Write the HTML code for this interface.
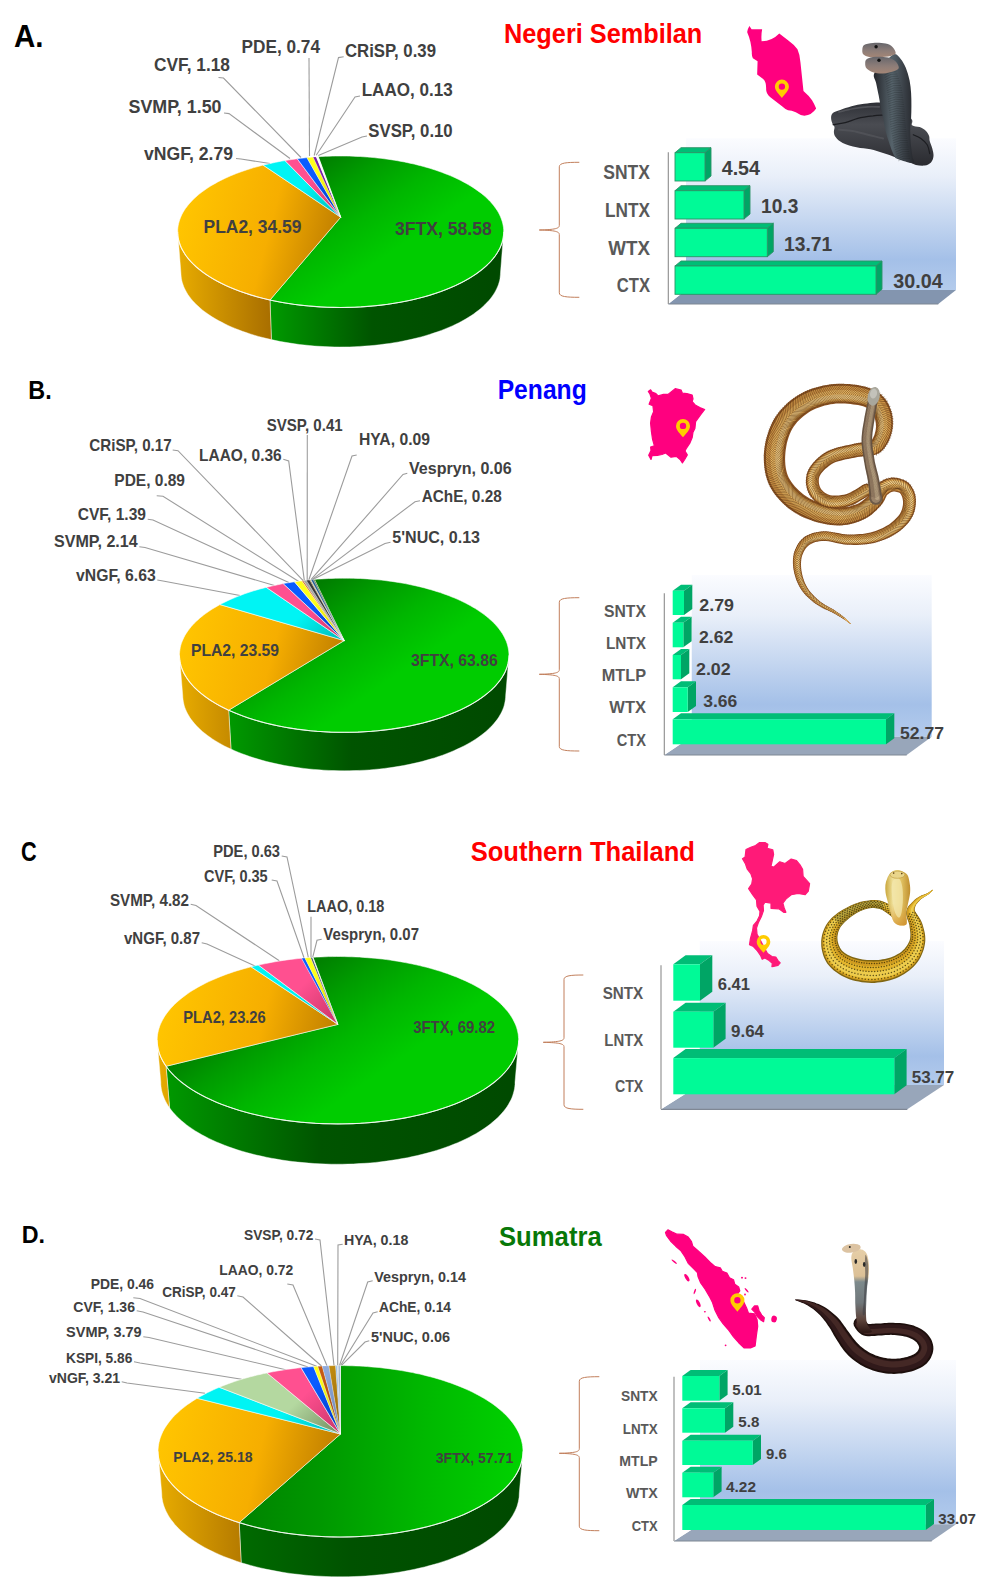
<!DOCTYPE html>
<html><head><meta charset="utf-8"><title>Venom proteome figure</title>
<style>
html,body{margin:0;padding:0;background:#fff}
svg{display:block}
text{font-family:"Liberation Sans",sans-serif;font-weight:bold}
</style></head><body>
<svg width="991" height="1594" viewBox="0 0 991 1594">
<defs>
<linearGradient id="At3FTX" gradientUnits="userSpaceOnUse" x1="306.6" y1="167.6" x2="373.3" y2="264.5"><stop offset="0" stop-color="#007e00"/><stop offset="0.3" stop-color="#009c00"/><stop offset="0.62" stop-color="#00b600"/><stop offset="1" stop-color="#00cc00"/></linearGradient>
<linearGradient id="Aw3FTX" gradientUnits="userSpaceOnUse" x1="273" y1="0" x2="493.7" y2="0"><stop offset="0" stop-color="#009800"/><stop offset="0.45" stop-color="#005400"/><stop offset="1" stop-color="#004a00"/></linearGradient>
<linearGradient id="AtPLA2" gradientUnits="userSpaceOnUse" x1="187.7" y1="199.2" x2="340.7" y2="239.2"><stop offset="0" stop-color="#ffc400"/><stop offset="0.55" stop-color="#f6ae00"/><stop offset="1" stop-color="#bd7c00"/></linearGradient>
<linearGradient id="AwPLA2" gradientUnits="userSpaceOnUse" x1="177.7" y1="0" x2="277.7" y2="0"><stop offset="0" stop-color="#e8ac00"/><stop offset="1" stop-color="#a46a00"/></linearGradient>
<linearGradient id="AtvNGF" gradientUnits="userSpaceOnUse" x1="267.3" y1="142.2" x2="340.7" y2="217.2"><stop offset="0" stop-color="#00f4f4"/><stop offset="0.55" stop-color="#00f4f4"/><stop offset="1" stop-color="#00b8b8"/></linearGradient>
<linearGradient id="AwvNGF" gradientUnits="userSpaceOnUse" x1="177.7" y1="0" x2="503.7" y2="0"><stop offset="0" stop-color="#00b8b8"/><stop offset="1" stop-color="#00b8b8"/></linearGradient>
<linearGradient id="AtSVMP" gradientUnits="userSpaceOnUse" x1="267.3" y1="142.2" x2="340.7" y2="217.2"><stop offset="0" stop-color="#ff5090"/><stop offset="0.55" stop-color="#ff5090"/><stop offset="1" stop-color="#c83468"/></linearGradient>
<linearGradient id="AwSVMP" gradientUnits="userSpaceOnUse" x1="177.7" y1="0" x2="503.7" y2="0"><stop offset="0" stop-color="#c83468"/><stop offset="1" stop-color="#c83468"/></linearGradient>
<linearGradient id="AtCVF" gradientUnits="userSpaceOnUse" x1="267.3" y1="142.2" x2="340.7" y2="217.2"><stop offset="0" stop-color="#0a5cff"/><stop offset="0.55" stop-color="#0a5cff"/><stop offset="1" stop-color="#0034b8"/></linearGradient>
<linearGradient id="AwCVF" gradientUnits="userSpaceOnUse" x1="177.7" y1="0" x2="503.7" y2="0"><stop offset="0" stop-color="#0034b8"/><stop offset="1" stop-color="#0034b8"/></linearGradient>
<linearGradient id="AtPDE" gradientUnits="userSpaceOnUse" x1="267.3" y1="142.2" x2="340.7" y2="217.2"><stop offset="0" stop-color="#ffff1a"/><stop offset="0.55" stop-color="#ffff1a"/><stop offset="1" stop-color="#c8c800"/></linearGradient>
<linearGradient id="AwPDE" gradientUnits="userSpaceOnUse" x1="177.7" y1="0" x2="503.7" y2="0"><stop offset="0" stop-color="#c8c800"/><stop offset="1" stop-color="#c8c800"/></linearGradient>
<linearGradient id="AtCRiSP" gradientUnits="userSpaceOnUse" x1="267.3" y1="142.2" x2="340.7" y2="217.2"><stop offset="0" stop-color="#7a1fa8"/><stop offset="0.55" stop-color="#7a1fa8"/><stop offset="1" stop-color="#4c1470"/></linearGradient>
<linearGradient id="AwCRiSP" gradientUnits="userSpaceOnUse" x1="177.7" y1="0" x2="503.7" y2="0"><stop offset="0" stop-color="#4c1470"/><stop offset="1" stop-color="#4c1470"/></linearGradient>
<linearGradient id="AtLAAO" gradientUnits="userSpaceOnUse" x1="267.3" y1="142.2" x2="340.7" y2="217.2"><stop offset="0" stop-color="#ffffff"/><stop offset="0.55" stop-color="#ffffff"/><stop offset="1" stop-color="#dcdcdc"/></linearGradient>
<linearGradient id="AwLAAO" gradientUnits="userSpaceOnUse" x1="177.7" y1="0" x2="503.7" y2="0"><stop offset="0" stop-color="#dcdcdc"/><stop offset="1" stop-color="#dcdcdc"/></linearGradient>
<linearGradient id="AtSVSP" gradientUnits="userSpaceOnUse" x1="267.3" y1="142.2" x2="340.7" y2="217.2"><stop offset="0" stop-color="#f6f6f6"/><stop offset="0.55" stop-color="#f6f6f6"/><stop offset="1" stop-color="#cfcfcf"/></linearGradient>
<linearGradient id="AwSVSP" gradientUnits="userSpaceOnUse" x1="177.7" y1="0" x2="503.7" y2="0"><stop offset="0" stop-color="#cfcfcf"/><stop offset="1" stop-color="#cfcfcf"/></linearGradient>
<linearGradient id="Abw" x1="0" y1="0" x2="0" y2="1"><stop offset="0" stop-color="#fbfcff"/><stop offset=".25" stop-color="#e9eff9"/><stop offset=".8" stop-color="#a4c0e8"/><stop offset="1" stop-color="#b3cbec"/></linearGradient>
<linearGradient id="Bt3FTX" gradientUnits="userSpaceOnUse" x1="309.7" y1="590.4" x2="377.2" y2="688.4"><stop offset="0" stop-color="#007e00"/><stop offset="0.3" stop-color="#009c00"/><stop offset="0.62" stop-color="#00b600"/><stop offset="1" stop-color="#00cc00"/></linearGradient>
<linearGradient id="Bw3FTX" gradientUnits="userSpaceOnUse" x1="231" y1="0" x2="499" y2="0"><stop offset="0" stop-color="#009800"/><stop offset="0.45" stop-color="#005400"/><stop offset="1" stop-color="#004a00"/></linearGradient>
<linearGradient id="BtPLA2" gradientUnits="userSpaceOnUse" x1="189.4" y1="622.6" x2="344.2" y2="662.6"><stop offset="0" stop-color="#ffc400"/><stop offset="0.55" stop-color="#f6ae00"/><stop offset="1" stop-color="#bd7c00"/></linearGradient>
<linearGradient id="BwPLA2" gradientUnits="userSpaceOnUse" x1="179.4" y1="0" x2="280.5" y2="0"><stop offset="0" stop-color="#e8ac00"/><stop offset="1" stop-color="#a46a00"/></linearGradient>
<linearGradient id="BtvNGF" gradientUnits="userSpaceOnUse" x1="270.1" y1="563.6" x2="344.2" y2="640.6"><stop offset="0" stop-color="#00f4f4"/><stop offset="0.55" stop-color="#00f4f4"/><stop offset="1" stop-color="#00b8b8"/></linearGradient>
<linearGradient id="BwvNGF" gradientUnits="userSpaceOnUse" x1="179.4" y1="0" x2="509" y2="0"><stop offset="0" stop-color="#00b8b8"/><stop offset="1" stop-color="#00b8b8"/></linearGradient>
<linearGradient id="BtSVMP" gradientUnits="userSpaceOnUse" x1="270.1" y1="563.6" x2="344.2" y2="640.6"><stop offset="0" stop-color="#ff5090"/><stop offset="0.55" stop-color="#ff5090"/><stop offset="1" stop-color="#c83468"/></linearGradient>
<linearGradient id="BwSVMP" gradientUnits="userSpaceOnUse" x1="179.4" y1="0" x2="509" y2="0"><stop offset="0" stop-color="#c83468"/><stop offset="1" stop-color="#c83468"/></linearGradient>
<linearGradient id="BtCVF" gradientUnits="userSpaceOnUse" x1="270.1" y1="563.6" x2="344.2" y2="640.6"><stop offset="0" stop-color="#0a5cff"/><stop offset="0.55" stop-color="#0a5cff"/><stop offset="1" stop-color="#0034b8"/></linearGradient>
<linearGradient id="BwCVF" gradientUnits="userSpaceOnUse" x1="179.4" y1="0" x2="509" y2="0"><stop offset="0" stop-color="#0034b8"/><stop offset="1" stop-color="#0034b8"/></linearGradient>
<linearGradient id="BtPDE" gradientUnits="userSpaceOnUse" x1="270.1" y1="563.6" x2="344.2" y2="640.6"><stop offset="0" stop-color="#ffff1a"/><stop offset="0.55" stop-color="#ffff1a"/><stop offset="1" stop-color="#c8c800"/></linearGradient>
<linearGradient id="BwPDE" gradientUnits="userSpaceOnUse" x1="179.4" y1="0" x2="509" y2="0"><stop offset="0" stop-color="#c8c800"/><stop offset="1" stop-color="#c8c800"/></linearGradient>
<linearGradient id="BtCRiSP" gradientUnits="userSpaceOnUse" x1="270.1" y1="563.6" x2="344.2" y2="640.6"><stop offset="0" stop-color="#d0601a"/><stop offset="0.55" stop-color="#d0601a"/><stop offset="1" stop-color="#984410"/></linearGradient>
<linearGradient id="BwCRiSP" gradientUnits="userSpaceOnUse" x1="179.4" y1="0" x2="509" y2="0"><stop offset="0" stop-color="#984410"/><stop offset="1" stop-color="#984410"/></linearGradient>
<linearGradient id="BtLAAO" gradientUnits="userSpaceOnUse" x1="270.1" y1="563.6" x2="344.2" y2="640.6"><stop offset="0" stop-color="#a5a5a5"/><stop offset="0.55" stop-color="#a5a5a5"/><stop offset="1" stop-color="#7a7a7a"/></linearGradient>
<linearGradient id="BwLAAO" gradientUnits="userSpaceOnUse" x1="179.4" y1="0" x2="509" y2="0"><stop offset="0" stop-color="#7a7a7a"/><stop offset="1" stop-color="#7a7a7a"/></linearGradient>
<linearGradient id="BtSVSP" gradientUnits="userSpaceOnUse" x1="270.1" y1="563.6" x2="344.2" y2="640.6"><stop offset="0" stop-color="#3a3a3a"/><stop offset="0.55" stop-color="#3a3a3a"/><stop offset="1" stop-color="#1a1a1a"/></linearGradient>
<linearGradient id="BwSVSP" gradientUnits="userSpaceOnUse" x1="179.4" y1="0" x2="509" y2="0"><stop offset="0" stop-color="#1a1a1a"/><stop offset="1" stop-color="#1a1a1a"/></linearGradient>
<linearGradient id="BtHYA" gradientUnits="userSpaceOnUse" x1="270.1" y1="563.6" x2="344.2" y2="640.6"><stop offset="0" stop-color="#7f6000"/><stop offset="0.55" stop-color="#7f6000"/><stop offset="1" stop-color="#5a4400"/></linearGradient>
<linearGradient id="BwHYA" gradientUnits="userSpaceOnUse" x1="179.4" y1="0" x2="509" y2="0"><stop offset="0" stop-color="#5a4400"/><stop offset="1" stop-color="#5a4400"/></linearGradient>
<linearGradient id="BtVespryn" gradientUnits="userSpaceOnUse" x1="270.1" y1="563.6" x2="344.2" y2="640.6"><stop offset="0" stop-color="#c9c9c9"/><stop offset="0.55" stop-color="#c9c9c9"/><stop offset="1" stop-color="#999"/></linearGradient>
<linearGradient id="BwVespryn" gradientUnits="userSpaceOnUse" x1="179.4" y1="0" x2="509" y2="0"><stop offset="0" stop-color="#999"/><stop offset="1" stop-color="#999"/></linearGradient>
<linearGradient id="BtAChE" gradientUnits="userSpaceOnUse" x1="270.1" y1="563.6" x2="344.2" y2="640.6"><stop offset="0" stop-color="#255e91"/><stop offset="0.55" stop-color="#255e91"/><stop offset="1" stop-color="#1a4266"/></linearGradient>
<linearGradient id="BwAChE" gradientUnits="userSpaceOnUse" x1="179.4" y1="0" x2="509" y2="0"><stop offset="0" stop-color="#1a4266"/><stop offset="1" stop-color="#1a4266"/></linearGradient>
<linearGradient id="Bt5NUC" gradientUnits="userSpaceOnUse" x1="270.1" y1="563.6" x2="344.2" y2="640.6"><stop offset="0" stop-color="#43682b"/><stop offset="0.55" stop-color="#43682b"/><stop offset="1" stop-color="#2e481e"/></linearGradient>
<linearGradient id="Bw5NUC" gradientUnits="userSpaceOnUse" x1="179.4" y1="0" x2="509" y2="0"><stop offset="0" stop-color="#2e481e"/><stop offset="1" stop-color="#2e481e"/></linearGradient>
<linearGradient id="Bbw" x1="0" y1="0" x2="0" y2="1"><stop offset="0" stop-color="#fbfcff"/><stop offset=".25" stop-color="#e9eff9"/><stop offset=".8" stop-color="#a4c0e8"/><stop offset="1" stop-color="#b3cbec"/></linearGradient>
<linearGradient id="Ct3FTX" gradientUnits="userSpaceOnUse" x1="300" y1="969.4" x2="374.1" y2="1076.8"><stop offset="0" stop-color="#007e00"/><stop offset="0.3" stop-color="#009c00"/><stop offset="0.62" stop-color="#00b600"/><stop offset="1" stop-color="#00cc00"/></linearGradient>
<linearGradient id="Cw3FTX" gradientUnits="userSpaceOnUse" x1="168" y1="0" x2="508.7" y2="0"><stop offset="0" stop-color="#009800"/><stop offset="0.45" stop-color="#005400"/><stop offset="1" stop-color="#004a00"/></linearGradient>
<linearGradient id="CtPLA2" gradientUnits="userSpaceOnUse" x1="167.1" y1="1006.4" x2="337.9" y2="1046.4"><stop offset="0" stop-color="#ffc400"/><stop offset="0.55" stop-color="#f6ae00"/><stop offset="1" stop-color="#bd7c00"/></linearGradient>
<linearGradient id="CwPLA2" gradientUnits="userSpaceOnUse" x1="157.1" y1="0" x2="268" y2="0"><stop offset="0" stop-color="#e8ac00"/><stop offset="1" stop-color="#a46a00"/></linearGradient>
<linearGradient id="CtvNGF" gradientUnits="userSpaceOnUse" x1="256.6" y1="940.4" x2="337.9" y2="1024.4"><stop offset="0" stop-color="#00f4f4"/><stop offset="0.55" stop-color="#00f4f4"/><stop offset="1" stop-color="#00b8b8"/></linearGradient>
<linearGradient id="CwvNGF" gradientUnits="userSpaceOnUse" x1="157.1" y1="0" x2="518.7" y2="0"><stop offset="0" stop-color="#00b8b8"/><stop offset="1" stop-color="#00b8b8"/></linearGradient>
<linearGradient id="CtSVMP" gradientUnits="userSpaceOnUse" x1="256.6" y1="940.4" x2="337.9" y2="1024.4"><stop offset="0" stop-color="#ff5090"/><stop offset="0.55" stop-color="#ff5090"/><stop offset="1" stop-color="#c83468"/></linearGradient>
<linearGradient id="CwSVMP" gradientUnits="userSpaceOnUse" x1="157.1" y1="0" x2="518.7" y2="0"><stop offset="0" stop-color="#c83468"/><stop offset="1" stop-color="#c83468"/></linearGradient>
<linearGradient id="CtCVF" gradientUnits="userSpaceOnUse" x1="256.6" y1="940.4" x2="337.9" y2="1024.4"><stop offset="0" stop-color="#0a5cff"/><stop offset="0.55" stop-color="#0a5cff"/><stop offset="1" stop-color="#0034b8"/></linearGradient>
<linearGradient id="CwCVF" gradientUnits="userSpaceOnUse" x1="157.1" y1="0" x2="518.7" y2="0"><stop offset="0" stop-color="#0034b8"/><stop offset="1" stop-color="#0034b8"/></linearGradient>
<linearGradient id="CtPDE" gradientUnits="userSpaceOnUse" x1="256.6" y1="940.4" x2="337.9" y2="1024.4"><stop offset="0" stop-color="#ffff1a"/><stop offset="0.55" stop-color="#ffff1a"/><stop offset="1" stop-color="#c8c800"/></linearGradient>
<linearGradient id="CwPDE" gradientUnits="userSpaceOnUse" x1="157.1" y1="0" x2="518.7" y2="0"><stop offset="0" stop-color="#c8c800"/><stop offset="1" stop-color="#c8c800"/></linearGradient>
<linearGradient id="CtLAAO" gradientUnits="userSpaceOnUse" x1="256.6" y1="940.4" x2="337.9" y2="1024.4"><stop offset="0" stop-color="#44546a"/><stop offset="0.55" stop-color="#44546a"/><stop offset="1" stop-color="#2c3848"/></linearGradient>
<linearGradient id="CwLAAO" gradientUnits="userSpaceOnUse" x1="157.1" y1="0" x2="518.7" y2="0"><stop offset="0" stop-color="#2c3848"/><stop offset="1" stop-color="#2c3848"/></linearGradient>
<linearGradient id="CtVespryn" gradientUnits="userSpaceOnUse" x1="256.6" y1="940.4" x2="337.9" y2="1024.4"><stop offset="0" stop-color="#e4e4e4"/><stop offset="0.55" stop-color="#e4e4e4"/><stop offset="1" stop-color="#bdbdbd"/></linearGradient>
<linearGradient id="CwVespryn" gradientUnits="userSpaceOnUse" x1="157.1" y1="0" x2="518.7" y2="0"><stop offset="0" stop-color="#bdbdbd"/><stop offset="1" stop-color="#bdbdbd"/></linearGradient>
<linearGradient id="Cbw" x1="0" y1="0" x2="0" y2="1"><stop offset="0" stop-color="#fbfcff"/><stop offset=".25" stop-color="#e9eff9"/><stop offset=".8" stop-color="#a4c0e8"/><stop offset="1" stop-color="#b3cbec"/></linearGradient>
<linearGradient id="Dt3FTX" gradientUnits="userSpaceOnUse" x1="238" y1="1434" x2="522" y2="1440"><stop offset="0" stop-color="#008200"/><stop offset="0.3" stop-color="#009800"/><stop offset="0.65" stop-color="#00b800"/><stop offset="1" stop-color="#00d200"/></linearGradient>
<linearGradient id="Dw3FTX" gradientUnits="userSpaceOnUse" x1="242" y1="0" x2="515" y2="0"><stop offset="0" stop-color="#006a00"/><stop offset="0.4" stop-color="#005200"/><stop offset="1" stop-color="#004a00"/></linearGradient>
<linearGradient id="DtPLA2" gradientUnits="userSpaceOnUse" x1="168" y1="1416" x2="340.5" y2="1456"><stop offset="0" stop-color="#ffc400"/><stop offset="0.55" stop-color="#f6ae00"/><stop offset="1" stop-color="#bd7c00"/></linearGradient>
<linearGradient id="DwPLA2" gradientUnits="userSpaceOnUse" x1="158" y1="0" x2="270" y2="0"><stop offset="0" stop-color="#e8ac00"/><stop offset="1" stop-color="#a46a00"/></linearGradient>
<linearGradient id="DtvNGF" gradientUnits="userSpaceOnUse" x1="258.4" y1="1348" x2="340.5" y2="1434"><stop offset="0" stop-color="#00f4f4"/><stop offset="0.55" stop-color="#00f4f4"/><stop offset="1" stop-color="#00b8b8"/></linearGradient>
<linearGradient id="DwvNGF" gradientUnits="userSpaceOnUse" x1="158" y1="0" x2="523" y2="0"><stop offset="0" stop-color="#00b8b8"/><stop offset="1" stop-color="#00b8b8"/></linearGradient>
<linearGradient id="DtKSPI" gradientUnits="userSpaceOnUse" x1="258.4" y1="1348" x2="340.5" y2="1434"><stop offset="0" stop-color="#b4d8a0"/><stop offset="0.55" stop-color="#b4d8a0"/><stop offset="1" stop-color="#6f8c5e"/></linearGradient>
<linearGradient id="DwKSPI" gradientUnits="userSpaceOnUse" x1="158" y1="0" x2="523" y2="0"><stop offset="0" stop-color="#6f8c5e"/><stop offset="1" stop-color="#6f8c5e"/></linearGradient>
<linearGradient id="DtSVMP" gradientUnits="userSpaceOnUse" x1="258.4" y1="1348" x2="340.5" y2="1434"><stop offset="0" stop-color="#ff5090"/><stop offset="0.55" stop-color="#ff5090"/><stop offset="1" stop-color="#c83468"/></linearGradient>
<linearGradient id="DwSVMP" gradientUnits="userSpaceOnUse" x1="158" y1="0" x2="523" y2="0"><stop offset="0" stop-color="#c83468"/><stop offset="1" stop-color="#c83468"/></linearGradient>
<linearGradient id="DtCVF" gradientUnits="userSpaceOnUse" x1="258.4" y1="1348" x2="340.5" y2="1434"><stop offset="0" stop-color="#0a5cff"/><stop offset="0.55" stop-color="#0a5cff"/><stop offset="1" stop-color="#0034b8"/></linearGradient>
<linearGradient id="DwCVF" gradientUnits="userSpaceOnUse" x1="158" y1="0" x2="523" y2="0"><stop offset="0" stop-color="#0034b8"/><stop offset="1" stop-color="#0034b8"/></linearGradient>
<linearGradient id="DtPDE" gradientUnits="userSpaceOnUse" x1="258.4" y1="1348" x2="340.5" y2="1434"><stop offset="0" stop-color="#ffff1a"/><stop offset="0.55" stop-color="#ffff1a"/><stop offset="1" stop-color="#c8c800"/></linearGradient>
<linearGradient id="DwPDE" gradientUnits="userSpaceOnUse" x1="158" y1="0" x2="523" y2="0"><stop offset="0" stop-color="#c8c800"/><stop offset="1" stop-color="#c8c800"/></linearGradient>
<linearGradient id="DtCRiSP" gradientUnits="userSpaceOnUse" x1="258.4" y1="1348" x2="340.5" y2="1434"><stop offset="0" stop-color="#c55a11"/><stop offset="0.55" stop-color="#c55a11"/><stop offset="1" stop-color="#8c3f0c"/></linearGradient>
<linearGradient id="DwCRiSP" gradientUnits="userSpaceOnUse" x1="158" y1="0" x2="523" y2="0"><stop offset="0" stop-color="#8c3f0c"/><stop offset="1" stop-color="#8c3f0c"/></linearGradient>
<linearGradient id="DtLAAO" gradientUnits="userSpaceOnUse" x1="258.4" y1="1348" x2="340.5" y2="1434"><stop offset="0" stop-color="#8faadc"/><stop offset="0.55" stop-color="#8faadc"/><stop offset="1" stop-color="#6a80a8"/></linearGradient>
<linearGradient id="DwLAAO" gradientUnits="userSpaceOnUse" x1="158" y1="0" x2="523" y2="0"><stop offset="0" stop-color="#6a80a8"/><stop offset="1" stop-color="#6a80a8"/></linearGradient>
<linearGradient id="DtSVSP" gradientUnits="userSpaceOnUse" x1="258.4" y1="1348" x2="340.5" y2="1434"><stop offset="0" stop-color="#bf8a10"/><stop offset="0.55" stop-color="#bf8a10"/><stop offset="1" stop-color="#8c6408"/></linearGradient>
<linearGradient id="DwSVSP" gradientUnits="userSpaceOnUse" x1="158" y1="0" x2="523" y2="0"><stop offset="0" stop-color="#8c6408"/><stop offset="1" stop-color="#8c6408"/></linearGradient>
<linearGradient id="DtHYA" gradientUnits="userSpaceOnUse" x1="258.4" y1="1348" x2="340.5" y2="1434"><stop offset="0" stop-color="#9dc3e6"/><stop offset="0.55" stop-color="#9dc3e6"/><stop offset="1" stop-color="#7a98b4"/></linearGradient>
<linearGradient id="DwHYA" gradientUnits="userSpaceOnUse" x1="158" y1="0" x2="523" y2="0"><stop offset="0" stop-color="#7a98b4"/><stop offset="1" stop-color="#7a98b4"/></linearGradient>
<linearGradient id="DtVespryn" gradientUnits="userSpaceOnUse" x1="258.4" y1="1348" x2="340.5" y2="1434"><stop offset="0" stop-color="#c8d4e0"/><stop offset="0.55" stop-color="#c8d4e0"/><stop offset="1" stop-color="#98a4b0"/></linearGradient>
<linearGradient id="DwVespryn" gradientUnits="userSpaceOnUse" x1="158" y1="0" x2="523" y2="0"><stop offset="0" stop-color="#98a4b0"/><stop offset="1" stop-color="#98a4b0"/></linearGradient>
<linearGradient id="DtAChE" gradientUnits="userSpaceOnUse" x1="258.4" y1="1348" x2="340.5" y2="1434"><stop offset="0" stop-color="#7c9cc0"/><stop offset="0.55" stop-color="#7c9cc0"/><stop offset="1" stop-color="#5c7490"/></linearGradient>
<linearGradient id="DwAChE" gradientUnits="userSpaceOnUse" x1="158" y1="0" x2="523" y2="0"><stop offset="0" stop-color="#5c7490"/><stop offset="1" stop-color="#5c7490"/></linearGradient>
<linearGradient id="Dt5NUC" gradientUnits="userSpaceOnUse" x1="258.4" y1="1348" x2="340.5" y2="1434"><stop offset="0" stop-color="#dfe6ee"/><stop offset="0.55" stop-color="#dfe6ee"/><stop offset="1" stop-color="#aab2ba"/></linearGradient>
<linearGradient id="Dw5NUC" gradientUnits="userSpaceOnUse" x1="158" y1="0" x2="523" y2="0"><stop offset="0" stop-color="#aab2ba"/><stop offset="1" stop-color="#aab2ba"/></linearGradient>
<linearGradient id="Dbw" x1="0" y1="0" x2="0" y2="1"><stop offset="0" stop-color="#fbfcff"/><stop offset=".25" stop-color="#e9eff9"/><stop offset=".8" stop-color="#a4c0e8"/><stop offset="1" stop-color="#b3cbec"/></linearGradient>
<linearGradient id="sAc" x1="0" y1="0" x2="0" y2="1"><stop offset="0" stop-color="#2e3036"/><stop offset=".35" stop-color="#4a4c52"/><stop offset="1" stop-color="#2a2b30"/></linearGradient>
<linearGradient id="sAn" x1="0" y1="0" x2="1" y2="0"><stop offset="0" stop-color="#24262b"/><stop offset=".45" stop-color="#56636b"/><stop offset=".75" stop-color="#3a4047"/><stop offset="1" stop-color="#25272c"/></linearGradient>
<linearGradient id="sAh" x1="0" y1="0" x2="0" y2="1"><stop offset="0" stop-color="#66666b"/><stop offset=".55" stop-color="#8d7d78"/><stop offset="1" stop-color="#a48676"/></linearGradient>
<linearGradient id="sCh" x1="0" y1="0" x2="1" y2="0"><stop offset="0" stop-color="#c9a63c"/><stop offset=".3" stop-color="#efe09a"/><stop offset=".55" stop-color="#e9cf70"/><stop offset="1" stop-color="#c08f2e"/></linearGradient>
<linearGradient id="sCh2" x1="0" y1="0" x2="0" y2="1"><stop offset="0" stop-color="#fff" stop-opacity="0"/><stop offset=".6" stop-color="#d89a30" stop-opacity=".0"/><stop offset="1" stop-color="#d08a28" stop-opacity=".7"/></linearGradient>
<linearGradient id="sDn" gradientUnits="userSpaceOnUse" x1="0" y1="1248.6" x2="0" y2="1331.9"><stop offset="0" stop-color="#e6cfa8"/><stop offset=".33" stop-color="#dcc096"/><stop offset=".4" stop-color="#7d8a8c"/><stop offset=".65" stop-color="#70777a"/><stop offset=".85" stop-color="#5e453c"/><stop offset="1" stop-color="#2e1916"/></linearGradient>
</defs>
<rect width="991" height="1594" fill="#fff"/>
<text x="14" y="47.2" font-size="31.4" fill="#000" textLength="29.5" lengthAdjust="spacingAndGlyphs">A.</text>
<text x="504" y="42.7" font-size="28.5" fill="#ff0000" textLength="198.3" lengthAdjust="spacingAndGlyphs">Negeri Sembilan</text>
<path d="M309,58 L309.5,156" fill="none" stroke="#9c9c9c" stroke-width="1.1"/>
<path d="M218.5,77.5 L223.5,78 L301,157.5" fill="none" stroke="#9c9c9c" stroke-width="1.1"/>
<path d="M224,113 L229,113.6 L290,158.5" fill="none" stroke="#9c9c9c" stroke-width="1.1"/>
<path d="M236,158.5 L241,159 L270,163.5" fill="none" stroke="#9c9c9c" stroke-width="1.1"/>
<path d="M343.7,56.7 L338.5,57.6 L314.2,155.5" fill="none" stroke="#9c9c9c" stroke-width="1.1"/>
<path d="M360,96 L355,96.9 L316.2,155.3" fill="none" stroke="#9c9c9c" stroke-width="1.1"/>
<path d="M367,136 L362,137 L318.3,155.4" fill="none" stroke="#9c9c9c" stroke-width="1.1"/>
<path d="M503.7,231.7 L503.7,233.8 L503.5,235.8 L503.2,237.8 L502.8,239.9 L502.3,241.9 L501.6,244 L500.8,246 L499.9,248.1 L498.9,250.1 L497.7,252.2 L496.4,254.2 L495,256.2 L493.4,258.2 L491.7,260.3 L489.9,262.2 L488,264.2 L485.9,266.2 L483.7,268.1 L481.4,270 L478.9,271.9 L476.3,273.8 L473.6,275.6 L470.7,277.5 L467.7,279.2 L464.6,281 L461.4,282.7 L458,284.3 L454.5,286 L451,287.5 L447.3,289.1 L443.4,290.6 L439.5,292 L435.5,293.4 L431.4,294.7 L427.1,296 L422.8,297.2 L418.4,298.3 L413.9,299.4 L409.3,300.5 L404.7,301.4 L399.9,302.3 L395.1,303.1 L390.3,303.9 L385.4,304.6 L380.4,305.2 L375.4,305.8 L370.3,306.2 L365.2,306.6 L360.1,306.9 L355,307.2 L349.8,307.4 L344.7,307.5 L339.5,307.5 L334.3,307.4 L329.2,307.3 L324,307.1 L318.9,306.8 L313.8,306.4 L308.7,306 L303.7,305.5 L298.7,304.9 L293.8,304.3 L288.9,303.6 L284,302.8 L279.3,301.9 L274.6,301 L270,300 L271.4,339.6 L275.9,340.6 L280.5,341.5 L285.2,342.3 L289.9,343.1 L294.7,343.8 L299.5,344.5 L304.4,345 L309.4,345.5 L314.3,346 L319.3,346.3 L324.4,346.6 L329.4,346.8 L334.5,346.9 L339.5,347 L344.6,346.9 L349.7,346.9 L354.7,346.7 L359.7,346.4 L364.7,346.1 L369.7,345.7 L374.7,345.3 L379.6,344.7 L384.5,344.1 L389.3,343.5 L394,342.7 L398.7,341.9 L403.4,341 L407.9,340.1 L412.4,339.1 L416.8,338 L421.2,336.9 L425.4,335.7 L429.5,334.4 L433.6,333.1 L437.5,331.8 L441.4,330.4 L445.1,328.9 L448.7,327.4 L452.3,325.9 L455.7,324.3 L459,322.7 L462.1,321 L465.2,319.3 L468.1,317.5 L470.9,315.8 L473.6,314 L476.1,312.1 L478.5,310.3 L480.8,308.4 L483,306.5 L485,304.6 L486.9,302.6 L488.7,300.7 L490.4,298.7 L491.9,296.7 L493.3,294.7 L494.6,292.7 L495.7,290.7 L496.7,288.7 L497.6,286.7 L498.4,284.7 L499,282.7 L499.6,280.7 L500,278.7 L500.2,276.7 L500.4,274.7 L500.5,272.7Z" fill="url(#Aw3FTX)" stroke="#fff" stroke-opacity=".55" stroke-width=".8"/>
<path d="M270,300 L265.5,298.9 L261.1,297.8 L256.7,296.7 L252.5,295.4 L248.4,294.2 L244.3,292.8 L240.4,291.4 L236.5,290 L232.8,288.5 L229.2,287 L225.7,285.4 L222.3,283.8 L219,282.2 L215.9,280.5 L212.8,278.7 L209.9,277 L207.1,275.2 L204.5,273.3 L201.9,271.5 L199.5,269.6 L197.2,267.7 L195.1,265.8 L193,263.8 L191.1,261.9 L189.4,259.9 L187.7,257.9 L186.2,255.9 L184.8,253.9 L183.6,251.9 L182.4,249.9 L181.4,247.9 L180.5,245.8 L179.8,243.8 L179.1,241.8 L178.6,239.8 L178.2,237.8 L177.9,235.7 L177.7,233.7 L177.7,231.7 L180.9,272.7 L181,274.7 L181.2,276.7 L181.4,278.6 L181.8,280.6 L182.3,282.6 L183,284.6 L183.7,286.6 L184.6,288.5 L185.6,290.5 L186.7,292.5 L187.9,294.5 L189.3,296.4 L190.8,298.4 L192.4,300.4 L194.1,302.3 L196,304.2 L198,306.1 L200.1,308 L202.3,309.9 L204.7,311.7 L207.2,313.5 L209.8,315.3 L212.5,317.1 L215.4,318.8 L218.4,320.5 L221.5,322.1 L224.7,323.8 L228,325.4 L231.4,326.9 L235,328.4 L238.6,329.8 L242.4,331.3 L246.3,332.6 L250.2,333.9 L254.3,335.2 L258.4,336.4 L262.7,337.5 L267,338.6 L271.4,339.6Z" fill="url(#AwPLA2)" stroke="#fff" stroke-opacity=".55" stroke-width=".8"/>
<path d="M340.7,217.2 L318.3,156.7 L321.7,156.5 L325.2,156.3 L328.7,156.2 L332.2,156.1 L335.7,156 L339.2,156 L342.7,156 L346.2,156 L349.7,156.1 L353.2,156.2 L356.7,156.4 L360.2,156.5 L363.7,156.8 L367.2,157 L370.6,157.3 L374.1,157.6 L377.5,158 L381,158.3 L384.4,158.8 L387.8,159.2 L391.1,159.7 L394.5,160.2 L397.9,160.8 L401.2,161.4 L404.5,162 L407.7,162.7 L411,163.4 L414.2,164.1 L417.4,164.9 L420.6,165.7 L423.7,166.6 L426.8,167.4 L429.9,168.3 L432.9,169.3 L435.9,170.2 L438.8,171.3 L441.7,172.3 L444.6,173.4 L447.4,174.5 L450.2,175.6 L453,176.8 L455.6,178 L458.3,179.3 L460.8,180.5 L463.4,181.9 L465.8,183.2 L468.2,184.6 L470.6,186 L472.9,187.4 L475.1,188.9 L477.2,190.4 L479.3,191.9 L481.4,193.4 L483.3,195 L485.2,196.6 L487,198.3 L488.7,199.9 L490.3,201.6 L491.9,203.4 L493.3,205.1 L494.7,206.9 L496,208.7 L497.2,210.5 L498.3,212.3 L499.3,214.2 L500.2,216.1 L501,218 L501.7,219.9 L502.3,221.8 L502.8,223.8 L503.2,225.8 L503.5,227.7 L503.7,229.7 L503.7,231.8 L503.7,233.8 L503.5,235.8 L503.2,237.8 L502.8,239.9 L502.3,241.9 L501.6,244 L500.8,246 L499.9,248.1 L498.9,250.1 L497.7,252.2 L496.4,254.2 L495,256.2 L493.4,258.3 L491.7,260.3 L489.9,262.3 L488,264.2 L485.9,266.2 L483.7,268.1 L481.3,270.1 L478.9,271.9 L476.3,273.8 L473.5,275.7 L470.7,277.5 L467.7,279.2 L464.6,281 L461.4,282.7 L458,284.3 L454.5,286 L450.9,287.5 L447.2,289.1 L443.4,290.6 L439.5,292 L435.5,293.4 L431.3,294.7 L427.1,296 L422.8,297.2 L418.4,298.3 L413.9,299.4 L409.3,300.5 L404.6,301.4 L399.9,302.3 L395.1,303.1 L390.3,303.9 L385.3,304.6 L380.4,305.2 L375.4,305.8 L370.3,306.2 L365.2,306.6 L360.1,306.9 L355,307.2 L349.8,307.4 L344.7,307.5 L339.5,307.5 L334.3,307.4 L329.2,307.3 L324,307.1 L318.9,306.8 L313.8,306.4 L308.7,306 L303.7,305.5 L298.7,304.9 L293.8,304.3 L288.9,303.6 L284,302.8 L279.3,301.9 L274.6,301 L270,300Z" fill="url(#At3FTX)" stroke="#fff" stroke-opacity=".7" stroke-width=".8" stroke-linejoin="round"/>
<path d="M340.7,217.2 L270,300 L265.5,298.9 L261,297.8 L256.7,296.7 L252.5,295.4 L248.3,294.1 L244.3,292.8 L240.3,291.4 L236.5,290 L232.7,288.5 L229.1,287 L225.6,285.4 L222.2,283.8 L218.9,282.1 L215.7,280.4 L212.7,278.6 L209.8,276.9 L207,275.1 L204.3,273.2 L201.8,271.4 L199.4,269.5 L197.1,267.6 L194.9,265.7 L192.9,263.7 L191,261.7 L189.2,259.8 L187.6,257.8 L186.1,255.8 L184.7,253.8 L183.5,251.7 L182.3,249.7 L181.3,247.7 L180.4,245.7 L179.7,243.6 L179.1,241.6 L178.5,239.6 L178.1,237.5 L177.9,235.5 L177.7,233.5 L177.7,231.5 L177.7,229.5 L177.9,227.5 L178.2,225.6 L178.6,223.6 L179.1,221.7 L179.7,219.8 L180.4,217.9 L181.2,216 L182.1,214.1 L183.1,212.3 L184.2,210.4 L185.4,208.6 L186.7,206.9 L188.1,205.1 L189.5,203.4 L191.1,201.7 L192.7,200 L194.4,198.3 L196.2,196.7 L198,195.1 L199.9,193.5 L201.9,192 L204,190.5 L206.1,189 L208.3,187.5 L210.6,186.1 L212.9,184.7 L215.3,183.4 L217.7,182 L220.2,180.7 L222.7,179.5 L225.3,178.2 L228,177 L230.7,175.8 L233.4,174.7 L236.2,173.6 L239.1,172.5 L241.9,171.5 L244.9,170.5 L247.8,169.5 L250.8,168.6 L253.8,167.6 L256.9,166.8 L260,165.9 L263.1,165.1Z" fill="url(#AtPLA2)" stroke="#fff" stroke-opacity=".7" stroke-width=".8" stroke-linejoin="round"/>
<path d="M340.7,217.2 L263.1,165.1 L266.2,164.4 L269.3,163.7 L272.4,163 L275.5,162.3 L278.6,161.7 L281.8,161.1 L285,160.6Z" fill="url(#AtvNGF)" stroke="#fff" stroke-opacity=".7" stroke-width=".8" stroke-linejoin="round"/>
<path d="M340.7,217.2 L285,160.6 L288,160.1 L291.1,159.6 L294.1,159.2 L297.2,158.7Z" fill="url(#AtSVMP)" stroke="#fff" stroke-opacity=".7" stroke-width=".8" stroke-linejoin="round"/>
<path d="M340.7,217.2 L297.2,158.7 L300.4,158.3 L303.7,158 L306.9,157.6Z" fill="url(#AtCVF)" stroke="#fff" stroke-opacity=".7" stroke-width=".8" stroke-linejoin="round"/>
<path d="M340.7,217.2 L306.9,157.6 L310,157.4 L313.1,157.1Z" fill="url(#AtPDE)" stroke="#fff" stroke-opacity=".7" stroke-width=".35" stroke-linejoin="round"/>
<path d="M340.7,217.2 L313.1,157.1 L316.3,156.9Z" fill="url(#AtCRiSP)" stroke="#fff" stroke-opacity=".7" stroke-width=".35" stroke-linejoin="round"/>
<path d="M340.7,217.2 L316.3,156.9 L317.4,156.8Z" fill="url(#AtLAAO)" stroke="#fff" stroke-opacity=".7" stroke-width=".35" stroke-linejoin="round"/>
<path d="M340.7,217.2 L317.4,156.8 L318.3,156.7Z" fill="url(#AtSVSP)" stroke="#fff" stroke-opacity=".7" stroke-width=".35" stroke-linejoin="round"/>
<path d="M503.7,231.7 L503.6,234.4 L503.3,237.1 L502.8,239.8 L502.1,242.5 L501.1,245.2 L500,247.9 L498.6,250.6 L497,253.3 L495.2,256 L493.1,258.6 L490.8,261.3 L488.3,263.9 L485.6,266.5 L482.6,269 L479.4,271.5 L476,274 L472.3,276.4 L468.5,278.8 L464.4,281.1 L460.1,283.3 L455.6,285.5 L450.9,287.6 L446,289.6 L440.9,291.5 L435.6,293.3 L430.1,295.1 L424.5,296.7 L418.7,298.3 L412.7,299.7 L406.6,301 L400.4,302.2 L394.1,303.3 L387.7,304.3 L381.1,305.1 L374.5,305.8 L367.8,306.4 L361.1,306.9 L354.3,307.2 L347.5,307.4 L340.7,307.5 L333.9,307.4 L327.1,307.2 L320.3,306.9 L313.6,306.4 L306.9,305.8 L300.3,305.1 L293.7,304.3 L287.3,303.3 L281,302.2 L274.8,301 L268.7,299.7 L262.7,298.3 L256.9,296.7 L251.3,295.1 L245.8,293.3 L240.5,291.5 L235.4,289.6 L230.5,287.6 L225.8,285.5 L221.3,283.3 L217,281.1 L212.9,278.8 L209.1,276.4 L205.4,274 L202,271.5 L198.8,269 L195.8,266.5 L193.1,263.9 L190.6,261.3 L188.3,258.6 L186.2,256 L184.4,253.3 L182.8,250.6 L181.4,247.9 L180.3,245.2 L179.3,242.5 L178.6,239.8 L178.1,237.1 L177.8,234.4 L177.7,231.7" fill="none" stroke="#fff" stroke-opacity=".75" stroke-width="1.1"/>
<text x="241.5" y="53.3" font-size="19.1" fill="#404040" textLength="78.5" lengthAdjust="spacingAndGlyphs">PDE, 0.74</text>
<text x="154" y="71.3" font-size="19.1" fill="#404040" textLength="76" lengthAdjust="spacingAndGlyphs">CVF, 1.18</text>
<text x="128.5" y="113.3" font-size="19.1" fill="#404040" textLength="93" lengthAdjust="spacingAndGlyphs">SVMP, 1.50</text>
<text x="144" y="160" font-size="19.1" fill="#404040" textLength="89" lengthAdjust="spacingAndGlyphs">vNGF, 2.79</text>
<text x="345" y="56.7" font-size="19.1" fill="#404040" textLength="91" lengthAdjust="spacingAndGlyphs">CRiSP, 0.39</text>
<text x="361.7" y="96" font-size="19.1" fill="#404040" textLength="91" lengthAdjust="spacingAndGlyphs">LAAO, 0.13</text>
<text x="368.3" y="136.7" font-size="19.1" fill="#404040" textLength="84.4" lengthAdjust="spacingAndGlyphs">SVSP, 0.10</text>
<text x="203.5" y="233.3" font-size="19.1" fill="#404040" textLength="98" lengthAdjust="spacingAndGlyphs">PLA2, 34.59</text>
<text x="395" y="235" font-size="19.1" fill="#404040" textLength="96.7" lengthAdjust="spacingAndGlyphs">3FTX, 58.58</text>
<path d="M579.3,162.3 C566.3,162.3 559.3,162.9 559.3,166.8 L559.3,225.5 C559.3,228.4 555.3,229.6 539.3,230 C555.3,230.4 559.3,231.6 559.3,234.5 L559.3,292.8 C559.3,296.7 566.3,297.3 579.3,297.3" fill="none" stroke="#c27f5c" stroke-width="1"/>
<text x="603.3" y="179.3" font-size="19.5" fill="#595959" textLength="46.7" lengthAdjust="spacingAndGlyphs">SNTX</text>
<text x="605" y="216.7" font-size="19.5" fill="#595959" textLength="45" lengthAdjust="spacingAndGlyphs">LNTX</text>
<text x="608.3" y="254.5" font-size="19.5" fill="#595959" textLength="41.7" lengthAdjust="spacingAndGlyphs">WTX</text>
<text x="616.7" y="291.7" font-size="19.5" fill="#595959" textLength="33.3" lengthAdjust="spacingAndGlyphs">CTX</text>
<rect x="686" y="138.3" width="270" height="151.7" fill="url(#Abw)"/>
<path d="M668.3,304 L938.3,304 L956,290 L686,290Z" fill="#8395af"/>
<path d="M668.3,304 L938.3,304" stroke="#7f8794" stroke-width="1.2" fill="none"/>
<path d="M668.3,304 L686,290 L686,138.3 L668.3,152.3Z" fill="#fff"/>
<path d="M668.3,152.3 L668.3,304" stroke="#8c8c8c" stroke-width="1.1" fill="none"/>
<path d="M675,152.7 L681,147.7 L711,147.7 L705,152.7Z" fill="#00bd76" stroke="#2a9366" stroke-width=".9"/>
<path d="M705,152.7 L711,147.7 L711,176 L705,181Z" fill="#00a565" stroke="#2a9366" stroke-width=".9"/>
<rect x="675" y="152.7" width="30" height="28.3" fill="#00fa97" stroke="#2a9366" stroke-width=".9"/>
<path d="M675,190.7 L681,185.7 L750,185.7 L744,190.7Z" fill="#00bd76" stroke="#2a9366" stroke-width=".9"/>
<path d="M744,190.7 L750,185.7 L750,214 L744,219Z" fill="#00a565" stroke="#2a9366" stroke-width=".9"/>
<rect x="675" y="190.7" width="69" height="28.3" fill="#00fa97" stroke="#2a9366" stroke-width=".9"/>
<path d="M675,228.3 L681,223.3 L773.3,223.3 L767.3,228.3Z" fill="#00bd76" stroke="#2a9366" stroke-width=".9"/>
<path d="M767.3,228.3 L773.3,223.3 L773.3,251.7 L767.3,256.7Z" fill="#00a565" stroke="#2a9366" stroke-width=".9"/>
<rect x="675" y="228.3" width="92.3" height="28.4" fill="#00fa97" stroke="#2a9366" stroke-width=".9"/>
<path d="M675,266 L681,261 L882,261 L876,266Z" fill="#00bd76" stroke="#2a9366" stroke-width=".9"/>
<path d="M876,266 L882,261 L882,289.3 L876,294.3Z" fill="#00a565" stroke="#2a9366" stroke-width=".9"/>
<rect x="675" y="266" width="201" height="28.3" fill="#00fa97" stroke="#2a9366" stroke-width=".9"/>
<text x="721.7" y="175" font-size="19.5" fill="#404040" textLength="38.3" lengthAdjust="spacingAndGlyphs">4.54</text>
<text x="761" y="212.7" font-size="19.5" fill="#404040" textLength="37.3" lengthAdjust="spacingAndGlyphs">10.3</text>
<text x="784" y="250.7" font-size="19.5" fill="#404040" textLength="48.3" lengthAdjust="spacingAndGlyphs">13.71</text>
<text x="893.3" y="287.7" font-size="19.5" fill="#404040" textLength="49.4" lengthAdjust="spacingAndGlyphs">30.04</text>
<text x="28.3" y="399" font-size="25.9" fill="#000" textLength="23.4" lengthAdjust="spacingAndGlyphs">B.</text>
<text x="497.7" y="399.3" font-size="26.9" fill="#0000ff" textLength="89" lengthAdjust="spacingAndGlyphs">Penang</text>
<path d="M157.3,580 L163,581 L240,595.5" fill="none" stroke="#9c9c9c" stroke-width="1.1"/>
<path d="M139.3,546.7 L145,547.5 L274.4,585.5" fill="none" stroke="#9c9c9c" stroke-width="1.1"/>
<path d="M147.7,519.3 L153,520 L288.8,582.6" fill="none" stroke="#9c9c9c" stroke-width="1.1"/>
<path d="M156.7,495.7 L163,496.3 L298.8,581.5" fill="none" stroke="#9c9c9c" stroke-width="1.1"/>
<path d="M172.7,450 L178,450.7 L303.2,580.6" fill="none" stroke="#9c9c9c" stroke-width="1.1"/>
<path d="M283.3,459.3 L288.7,461 L304.3,580.4" fill="none" stroke="#9c9c9c" stroke-width="1.1"/>
<path d="M307.3,435 L307.2,580" fill="none" stroke="#9c9c9c" stroke-width="1.1"/>
<path d="M356.7,455 L352,456 L308.8,580" fill="none" stroke="#9c9c9c" stroke-width="1.1"/>
<path d="M407.3,473.3 L403,474.5 L311,579.7" fill="none" stroke="#9c9c9c" stroke-width="1.1"/>
<path d="M420,500.7 L415,501.7 L312,579.6" fill="none" stroke="#9c9c9c" stroke-width="1.1"/>
<path d="M390.5,542.2 L385,543.5 L312.8,579.5" fill="none" stroke="#9c9c9c" stroke-width="1.1"/>
<path d="M509,655.2 L508.9,657.3 L508.7,659.4 L508.4,661.4 L508,663.5 L507.5,665.6 L506.8,667.6 L506,669.7 L505.1,671.8 L504.1,673.9 L502.9,675.9 L501.6,678 L500.2,680.1 L498.6,682.1 L496.9,684.2 L495.1,686.2 L493.2,688.2 L491.1,690.2 L488.9,692.1 L486.5,694.1 L484,696 L481.4,697.9 L478.7,699.8 L475.8,701.6 L472.8,703.4 L469.7,705.2 L466.5,706.9 L463.1,708.6 L459.6,710.2 L456,711.8 L452.3,713.4 L448.5,714.9 L444.6,716.4 L440.5,717.8 L436.4,719.1 L432.1,720.4 L427.8,721.7 L423.4,722.8 L418.9,724 L414.3,725 L409.6,726 L404.9,726.9 L400.1,727.8 L395.2,728.5 L390.2,729.3 L385.3,729.9 L380.2,730.5 L375.2,731 L370,731.4 L364.9,731.7 L359.7,732 L354.6,732.2 L349.4,732.3 L344.2,732.3 L339,732.3 L333.8,732.2 L328.6,732 L323.4,731.7 L318.3,731.4 L313.2,731 L308.1,730.5 L303.1,729.9 L298.1,729.3 L293.2,728.5 L288.3,727.8 L283.5,726.9 L278.8,726 L274.1,725 L269.5,723.9 L265,722.8 L260.6,721.7 L256.2,720.4 L252,719.1 L247.8,717.8 L243.8,716.4 L239.9,714.9 L236,713.4 L232.3,711.8 L228.7,710.2 L231,749.1 L234.6,750.7 L238.2,752.2 L242,753.7 L245.8,755.1 L249.8,756.5 L253.8,757.8 L258,759.1 L262.2,760.3 L266.6,761.5 L271,762.6 L275.5,763.6 L280.1,764.6 L284.7,765.5 L289.4,766.3 L294.2,767.1 L299,767.8 L303.9,768.4 L308.9,769 L313.8,769.4 L318.8,769.8 L323.9,770.2 L328.9,770.4 L334,770.6 L339.1,770.7 L344.2,770.8 L349.3,770.7 L354.4,770.6 L359.4,770.4 L364.5,770.2 L369.5,769.9 L374.5,769.4 L379.5,769 L384.4,768.4 L389.3,767.8 L394.2,767.1 L398.9,766.3 L403.6,765.5 L408.3,764.6 L412.9,763.6 L417.4,762.6 L421.8,761.5 L426.1,760.3 L430.4,759.1 L434.5,757.9 L438.6,756.5 L442.6,755.2 L446.4,753.7 L450.2,752.2 L453.8,750.7 L457.3,749.1 L460.7,747.5 L464,745.9 L467.2,744.2 L470.3,742.4 L473.2,740.7 L476,738.9 L478.7,737.1 L481.2,735.2 L483.7,733.3 L486,731.4 L488.1,729.5 L490.2,727.5 L492.1,725.6 L493.9,723.6 L495.5,721.6 L497.1,719.6 L498.5,717.6 L499.7,715.5 L500.9,713.5 L501.9,711.5 L502.8,709.4 L503.6,707.4 L504.2,705.4 L504.7,703.3 L505.1,701.3 L505.4,699.3 L505.6,697.3 L505.7,695.2Z" fill="url(#Bw3FTX)" stroke="#fff" stroke-opacity=".55" stroke-width=".8"/>
<path d="M228.7,710.2 L225.3,708.6 L221.9,706.9 L218.7,705.2 L215.5,703.4 L212.6,701.6 L209.7,699.8 L207,697.9 L204.4,696 L201.9,694.1 L199.5,692.1 L197.3,690.2 L195.2,688.2 L193.3,686.2 L191.5,684.1 L189.8,682.1 L188.2,680.1 L186.8,678 L185.5,675.9 L184.3,673.9 L183.3,671.8 L182.4,669.7 L181.6,667.6 L180.9,665.6 L180.4,663.5 L180,661.4 L179.7,659.4 L179.5,657.3 L179.4,655.2 L182.7,695.2 L182.8,697.3 L183,699.3 L183.3,701.3 L183.7,703.3 L184.2,705.4 L184.8,707.4 L185.6,709.4 L186.5,711.5 L187.5,713.5 L188.7,715.5 L189.9,717.6 L191.3,719.6 L192.9,721.6 L194.5,723.6 L196.3,725.6 L198.2,727.5 L200.3,729.5 L202.4,731.4 L204.7,733.3 L207.2,735.2 L209.7,737 L212.4,738.9 L215.2,740.7 L218.1,742.4 L221.2,744.2 L224.3,745.9 L227.6,747.5 L231,749.1Z" fill="url(#BwPLA2)" stroke="#fff" stroke-opacity=".55" stroke-width=".8"/>
<path d="M344.2,640.6 L314.4,579.4 L317.9,579.1 L321.4,578.9 L325,578.7 L328.5,578.5 L332,578.4 L335.6,578.3 L339.1,578.2 L342.6,578.2 L346.2,578.2 L349.7,578.2 L353.3,578.3 L356.8,578.4 L360.3,578.5 L363.9,578.7 L367.4,578.9 L370.9,579.2 L374.4,579.5 L377.9,579.8 L381.3,580.1 L384.8,580.5 L388.3,581 L391.7,581.4 L395.1,581.9 L398.5,582.5 L401.9,583 L405.2,583.6 L408.6,584.3 L411.9,585 L415.2,585.7 L418.4,586.4 L421.6,587.2 L424.8,588 L428,588.9 L431.1,589.8 L434.2,590.7 L437.3,591.7 L440.3,592.6 L443.3,593.7 L446.2,594.7 L449.1,595.8 L452,597 L454.8,598.1 L457.6,599.3 L460.3,600.5 L462.9,601.8 L465.5,603.1 L468.1,604.4 L470.6,605.8 L473,607.2 L475.4,608.6 L477.7,610.1 L479.9,611.6 L482.1,613.1 L484.2,614.6 L486.3,616.2 L488.2,617.8 L490.1,619.5 L491.9,621.1 L493.7,622.8 L495.3,624.5 L496.9,626.3 L498.4,628.1 L499.8,629.9 L501.1,631.7 L502.3,633.5 L503.4,635.4 L504.4,637.3 L505.3,639.2 L506.2,641.1 L506.9,643.1 L507.5,645 L508,647 L508.4,649 L508.7,651 L508.9,653.1 L509,655.1 L508.9,657.2 L508.7,659.2 L508.4,661.3 L508,663.4 L507.5,665.4 L506.9,667.5 L506.1,669.6 L505.2,671.7 L504.1,673.8 L503,675.8 L501.7,677.9 L500.3,680 L498.7,682 L497,684 L495.2,686.1 L493.3,688.1 L491.2,690.1 L489,692 L486.6,694 L484.2,695.9 L481.5,697.8 L478.8,699.7 L476,701.5 L473,703.3 L469.9,705.1 L466.6,706.8 L463.3,708.5 L459.8,710.2 L456.2,711.8 L452.5,713.3 L448.6,714.9 L444.7,716.3 L440.7,717.7 L436.5,719.1 L432.3,720.4 L428,721.6 L423.5,722.8 L419,723.9 L414.4,725 L409.8,726 L405,726.9 L400.2,727.7 L395.3,728.5 L390.4,729.2 L385.4,729.9 L380.4,730.4 L375.3,730.9 L370.2,731.4 L365,731.7 L359.9,732 L354.7,732.2 L349.5,732.3 L344.3,732.3 L339.1,732.3 L333.9,732.2 L328.7,732 L323.5,731.7 L318.4,731.4 L313.3,731 L308.2,730.5 L303.2,729.9 L298.2,729.3 L293.2,728.5 L288.4,727.8 L283.5,726.9 L278.8,726 L274.1,725 L269.5,724 L265,722.8 L260.6,721.7 L256.2,720.4 L252,719.1 L247.9,717.8 L243.8,716.4 L239.9,714.9 L236.1,713.4 L232.3,711.8 L228.7,710.2Z" fill="url(#Bt3FTX)" stroke="#fff" stroke-opacity=".7" stroke-width=".8" stroke-linejoin="round"/>
<path d="M344.2,640.6 L228.7,710.2 L225.3,708.6 L221.9,706.9 L218.7,705.2 L215.6,703.4 L212.6,701.6 L209.7,699.8 L207,697.9 L204.4,696 L201.9,694.1 L199.6,692.1 L197.3,690.2 L195.3,688.2 L193.3,686.2 L191.5,684.2 L189.8,682.1 L188.2,680.1 L186.8,678 L185.5,676 L184.3,673.9 L183.3,671.8 L182.4,669.8 L181.6,667.7 L180.9,665.6 L180.4,663.5 L180,661.5 L179.7,659.4 L179.5,657.3 L179.4,655.3 L179.5,653.3 L179.7,651.2 L180,649.2 L180.3,647.2 L180.8,645.2 L181.4,643.3 L182.2,641.3 L183,639.4 L183.9,637.5 L184.9,635.6 L186,633.7 L187.2,631.9 L188.5,630.1 L189.9,628.3 L191.3,626.5 L192.9,624.7 L194.5,623 L196.3,621.3 L198.1,619.7 L199.9,618 L201.9,616.4 L203.9,614.8 L206,613.3 L208.2,611.8 L210.4,610.3 L212.7,608.8 L215,607.4 L217.5,606 L219.9,604.6Z" fill="url(#BtPLA2)" stroke="#fff" stroke-opacity=".7" stroke-width=".8" stroke-linejoin="round"/>
<path d="M344.2,640.6 L219.9,604.6 L222.5,603.3 L225.1,602 L227.7,600.7 L230.4,599.5 L233.2,598.3 L236,597.1 L238.8,596 L241.7,594.9 L244.6,593.8 L247.6,592.8 L250.6,591.8 L253.7,590.8 L256.8,589.9 L259.9,589 L263.1,588.2 L266.2,587.3Z" fill="url(#BtvNGF)" stroke="#fff" stroke-opacity=".7" stroke-width=".8" stroke-linejoin="round"/>
<path d="M344.2,640.6 L266.2,587.3 L269,586.7 L271.8,586 L274.6,585.4 L277.5,584.8 L280.3,584.2 L283.2,583.6Z" fill="url(#BtSVMP)" stroke="#fff" stroke-opacity=".7" stroke-width=".8" stroke-linejoin="round"/>
<path d="M344.2,640.6 L283.2,583.6 L286,583.1 L288.8,582.7 L291.6,582.2 L294.5,581.8Z" fill="url(#BtCVF)" stroke="#fff" stroke-opacity=".7" stroke-width=".8" stroke-linejoin="round"/>
<path d="M344.2,640.6 L294.5,581.8 L296.9,581.4 L299.4,581.1 L301.9,580.8Z" fill="url(#BtPDE)" stroke="#fff" stroke-opacity=".7" stroke-width=".8" stroke-linejoin="round"/>
<path d="M344.2,640.6 L301.9,580.8 L303.3,580.6Z" fill="url(#BtCRiSP)" stroke="#fff" stroke-opacity=".7" stroke-width=".35" stroke-linejoin="round"/>
<path d="M344.2,640.6 L303.3,580.6 L306.3,580.2Z" fill="url(#BtLAAO)" stroke="#fff" stroke-opacity=".7" stroke-width=".35" stroke-linejoin="round"/>
<path d="M344.2,640.6 L306.3,580.2 L309.7,579.9Z" fill="url(#BtSVSP)" stroke="#fff" stroke-opacity=".7" stroke-width=".35" stroke-linejoin="round"/>
<path d="M344.2,640.6 L309.7,579.9 L310.5,579.8Z" fill="url(#BtHYA)" stroke="#fff" stroke-opacity=".7" stroke-width=".35" stroke-linejoin="round"/>
<path d="M344.2,640.6 L310.5,579.8 L311,579.7Z" fill="url(#BtVespryn)" stroke="#fff" stroke-opacity=".7" stroke-width=".35" stroke-linejoin="round"/>
<path d="M344.2,640.6 L311,579.7 L313.3,579.5Z" fill="url(#BtAChE)" stroke="#fff" stroke-opacity=".7" stroke-width=".35" stroke-linejoin="round"/>
<path d="M344.2,640.6 L313.3,579.5 L314.4,579.4Z" fill="url(#Bt5NUC)" stroke="#fff" stroke-opacity=".7" stroke-width=".35" stroke-linejoin="round"/>
<path d="M509,655.2 L508.8,658 L508.5,660.7 L508,663.4 L507.3,666.2 L506.3,668.9 L505.2,671.7 L503.8,674.4 L502.1,677.2 L500.3,679.9 L498.2,682.6 L495.9,685.3 L493.4,688 L490.6,690.6 L487.6,693.2 L484.3,695.8 L480.9,698.3 L477.2,700.7 L473.3,703.1 L469.2,705.5 L464.8,707.8 L460.3,710 L455.5,712.1 L450.5,714.1 L445.4,716.1 L440,717.9 L434.5,719.7 L428.8,721.4 L423,723 L416.9,724.4 L410.8,725.7 L404.5,727 L398.1,728.1 L391.6,729.1 L385,729.9 L378.3,730.7 L371.6,731.3 L364.8,731.7 L358,732.1 L351.1,732.3 L344.2,732.3 L337.3,732.3 L330.4,732.1 L323.6,731.7 L316.8,731.3 L310.1,730.7 L303.4,729.9 L296.8,729.1 L290.3,728.1 L283.9,727 L277.6,725.7 L271.5,724.4 L265.4,723 L259.6,721.4 L253.9,719.7 L248.4,717.9 L243,716.1 L237.9,714.1 L232.9,712.1 L228.1,710 L223.6,707.8 L219.2,705.5 L215.1,703.1 L211.2,700.7 L207.5,698.3 L204.1,695.8 L200.8,693.2 L197.8,690.6 L195,688 L192.5,685.3 L190.2,682.6 L188.1,679.9 L186.3,677.2 L184.6,674.4 L183.2,671.7 L182.1,668.9 L181.1,666.2 L180.4,663.4 L179.9,660.7 L179.6,658 L179.4,655.2" fill="none" stroke="#fff" stroke-opacity=".75" stroke-width="1.1"/>
<text x="266.7" y="430.7" font-size="16.6" fill="#404040" textLength="76" lengthAdjust="spacingAndGlyphs">SVSP, 0.41</text>
<text x="89.3" y="451" font-size="16.6" fill="#404040" textLength="82.4" lengthAdjust="spacingAndGlyphs">CRiSP, 0.17</text>
<text x="199" y="461" font-size="16.6" fill="#404040" textLength="82.7" lengthAdjust="spacingAndGlyphs">LAAO, 0.36</text>
<text x="114.3" y="485.7" font-size="16.6" fill="#404040" textLength="70.7" lengthAdjust="spacingAndGlyphs">PDE, 0.89</text>
<text x="77.7" y="519.7" font-size="16.6" fill="#404040" textLength="68.3" lengthAdjust="spacingAndGlyphs">CVF, 1.39</text>
<text x="54" y="547.3" font-size="16.6" fill="#404040" textLength="83.7" lengthAdjust="spacingAndGlyphs">SVMP, 2.14</text>
<text x="76" y="580.7" font-size="16.6" fill="#404040" textLength="79.7" lengthAdjust="spacingAndGlyphs">vNGF, 6.63</text>
<text x="359" y="445" font-size="16.6" fill="#404040" textLength="71" lengthAdjust="spacingAndGlyphs">HYA, 0.09</text>
<text x="409" y="474" font-size="16.6" fill="#404040" textLength="102.7" lengthAdjust="spacingAndGlyphs">Vespryn, 0.06</text>
<text x="421.7" y="501.7" font-size="16.6" fill="#404040" textLength="80" lengthAdjust="spacingAndGlyphs">AChE, 0.28</text>
<text x="392.3" y="543.3" font-size="16.6" fill="#404040" textLength="87.7" lengthAdjust="spacingAndGlyphs">5'NUC, 0.13</text>
<text x="191" y="655.7" font-size="16.6" fill="#404040" textLength="88" lengthAdjust="spacingAndGlyphs">PLA2, 23.59</text>
<text x="411" y="666" font-size="16.6" fill="#404040" textLength="86.7" lengthAdjust="spacingAndGlyphs">3FTX, 63.86</text>
<path d="M579.3,597.7 C566.3,597.7 559.3,598.3 559.3,602.2 L559.3,669.8 C559.3,672.7 555.3,673.9 539.3,674.3 C555.3,674.7 559.3,675.9 559.3,678.8 L559.3,746.5 C559.3,750.4 566.3,751 579.3,751" fill="none" stroke="#c27f5c" stroke-width="1"/>
<text x="604" y="617.3" font-size="17.1" fill="#595959" textLength="42" lengthAdjust="spacingAndGlyphs">SNTX</text>
<text x="606" y="649.3" font-size="17.1" fill="#595959" textLength="40" lengthAdjust="spacingAndGlyphs">LNTX</text>
<text x="601.7" y="681" font-size="17.1" fill="#595959" textLength="44.3" lengthAdjust="spacingAndGlyphs">MTLP</text>
<text x="609.3" y="713.3" font-size="17.1" fill="#595959" textLength="36.7" lengthAdjust="spacingAndGlyphs">WTX</text>
<text x="616.7" y="745.7" font-size="17.1" fill="#595959" textLength="29.3" lengthAdjust="spacingAndGlyphs">CTX</text>
<rect x="691.5" y="575" width="240.2" height="161.7" fill="url(#Bbw)"/>
<path d="M664.3,755 L906.7,755 L931.7,736.7 L691.5,736.7Z" fill="#98a6ba"/>
<path d="M664.3,755 L906.7,755" stroke="#7f8794" stroke-width="1.2" fill="none"/>
<path d="M664.3,755 L691.5,736.7 L691.5,575 L664.3,593.3Z" fill="#fff"/>
<path d="M664.3,593.3 L664.3,755" stroke="#8c8c8c" stroke-width="1.1" fill="none"/>
<path d="M672.7,590.7 L681,584.7 L692.3,584.7 L684,590.7Z" fill="#00bd76"/>
<path d="M684,590.7 L692.3,584.7 L692.3,609 L684,615Z" fill="#00a565"/>
<rect x="672.7" y="590.7" width="11.3" height="24.3" fill="#00fa97"/>
<path d="M672.7,622.7 L681,616.7 L691.6,616.7 L683.3,622.7Z" fill="#00bd76"/>
<path d="M683.3,622.7 L691.6,616.7 L691.6,641.3 L683.3,647.3Z" fill="#00a565"/>
<rect x="672.7" y="622.7" width="10.6" height="24.6" fill="#00fa97"/>
<path d="M672.7,655 L681,649 L689.3,649 L681,655Z" fill="#00bd76"/>
<path d="M681,655 L689.3,649 L689.3,673.3 L681,679.3Z" fill="#00a565"/>
<rect x="672.7" y="655" width="8.3" height="24.3" fill="#00fa97"/>
<path d="M672.7,687.3 L681,681.3 L696,681.3 L687.7,687.3Z" fill="#00bd76"/>
<path d="M687.7,687.3 L696,681.3 L696,706 L687.7,712Z" fill="#00a565"/>
<rect x="672.7" y="687.3" width="15" height="24.7" fill="#00fa97"/>
<path d="M672.7,719.3 L681,713.3 L894.3,713.3 L886,719.3Z" fill="#00bd76"/>
<path d="M886,719.3 L894.3,713.3 L894.3,738.3 L886,744.3Z" fill="#00a565"/>
<rect x="672.7" y="719.3" width="213.3" height="25" fill="#00fa97"/>
<text x="699.3" y="610.7" font-size="17.1" fill="#404040" textLength="34.7" lengthAdjust="spacingAndGlyphs">2.79</text>
<text x="699" y="642.7" font-size="17.1" fill="#404040" textLength="34.3" lengthAdjust="spacingAndGlyphs">2.62</text>
<text x="696" y="675" font-size="17.1" fill="#404040" textLength="34.7" lengthAdjust="spacingAndGlyphs">2.02</text>
<text x="703.3" y="707.3" font-size="17.1" fill="#404040" textLength="34" lengthAdjust="spacingAndGlyphs">3.66</text>
<text x="900" y="739.3" font-size="17.1" fill="#404040" textLength="44" lengthAdjust="spacingAndGlyphs">52.77</text>
<text x="21" y="861" font-size="27.9" fill="#000" textLength="15.7" lengthAdjust="spacingAndGlyphs">C</text>
<text x="470.7" y="861" font-size="27.9" fill="#ff0000" textLength="224.3" lengthAdjust="spacingAndGlyphs">Southern Thailand</text>
<path d="M281.7,856 L287,857 L308.3,957.3" fill="none" stroke="#9c9c9c" stroke-width="1.1"/>
<path d="M271.7,880 L277,881 L304,957.7" fill="none" stroke="#9c9c9c" stroke-width="1.1"/>
<path d="M190.7,904.3 L196,905.5 L279.3,960.7" fill="none" stroke="#9c9c9c" stroke-width="1.1"/>
<path d="M201.7,942.7 L207,944 L255,966" fill="none" stroke="#9c9c9c" stroke-width="1.1"/>
<path d="M311,916.7 L311,957.3" fill="none" stroke="#9c9c9c" stroke-width="1.1"/>
<path d="M321.7,939.3 L317,940.3 L312.7,957.3" fill="none" stroke="#9c9c9c" stroke-width="1.1"/>
<path d="M518.7,1040.2 L518.6,1042.5 L518.4,1044.7 L518.1,1046.9 L517.6,1049.2 L517,1051.5 L516.3,1053.7 L515.4,1056 L514.4,1058.3 L513.2,1060.5 L512,1062.8 L510.5,1065 L508.9,1067.3 L507.2,1069.5 L505.3,1071.7 L503.3,1073.9 L501.2,1076.1 L498.9,1078.3 L496.4,1080.4 L493.8,1082.6 L491.1,1084.7 L488.2,1086.7 L485.2,1088.8 L482,1090.8 L478.7,1092.7 L475.2,1094.6 L471.6,1096.5 L467.9,1098.4 L464.1,1100.1 L460.1,1101.9 L456,1103.6 L451.8,1105.2 L447.4,1106.8 L443,1108.3 L438.4,1109.8 L433.7,1111.2 L428.9,1112.5 L424,1113.8 L419,1115 L414,1116.1 L408.8,1117.2 L403.6,1118.2 L398.2,1119.1 L392.9,1119.9 L387.4,1120.7 L381.9,1121.4 L376.4,1122 L370.8,1122.5 L365.1,1123 L359.5,1123.3 L353.8,1123.6 L348.1,1123.8 L342.4,1123.9 L336.6,1123.9 L330.9,1123.8 L325.2,1123.7 L319.5,1123.5 L313.8,1123.2 L308.2,1122.8 L302.5,1122.3 L297,1121.7 L291.4,1121.1 L286,1120.4 L280.6,1119.6 L275.2,1118.7 L269.9,1117.8 L264.7,1116.7 L259.6,1115.6 L254.6,1114.5 L249.6,1113.2 L244.8,1111.9 L240,1110.6 L235.4,1109.1 L230.9,1107.7 L226.4,1106.1 L222.2,1104.5 L218,1102.8 L213.9,1101.1 L210,1099.4 L206.2,1097.5 L202.6,1095.7 L199,1093.8 L195.6,1091.9 L192.4,1089.9 L189.3,1087.9 L186.3,1085.8 L183.5,1083.7 L180.8,1081.6 L178.3,1079.5 L175.9,1077.3 L173.7,1075.2 L171.6,1073 L169.6,1070.8 L167.8,1068.5 L166.1,1066.3 L169.6,1107.8 L171.2,1110 L173,1112.2 L174.9,1114.3 L176.9,1116.5 L179.1,1118.6 L181.5,1120.7 L184,1122.8 L186.6,1124.9 L189.4,1126.9 L192.3,1128.9 L195.3,1130.9 L198.5,1132.8 L201.8,1134.7 L205.3,1136.6 L208.8,1138.4 L212.6,1140.2 L216.4,1141.9 L220.4,1143.6 L224.5,1145.2 L228.7,1146.8 L233,1148.3 L237.4,1149.8 L242,1151.2 L246.6,1152.5 L251.4,1153.8 L256.2,1155 L261.2,1156.1 L266.2,1157.2 L271.3,1158.2 L276.5,1159.1 L281.7,1160 L287,1160.8 L292.4,1161.5 L297.8,1162.1 L303.3,1162.6 L308.8,1163.1 L314.3,1163.5 L319.9,1163.8 L325.5,1164 L331.1,1164.2 L336.7,1164.2 L342.3,1164.2 L347.9,1164.1 L353.5,1163.9 L359,1163.6 L364.6,1163.3 L370.1,1162.9 L375.6,1162.4 L381,1161.8 L386.4,1161.1 L391.8,1160.3 L397,1159.5 L402.2,1158.6 L407.4,1157.7 L412.4,1156.6 L417.4,1155.5 L422.3,1154.3 L427.1,1153.1 L431.8,1151.8 L436.4,1150.4 L440.9,1149 L445.2,1147.5 L449.5,1145.9 L453.6,1144.3 L457.7,1142.7 L461.6,1140.9 L465.3,1139.2 L469,1137.4 L472.5,1135.5 L475.9,1133.7 L479.1,1131.7 L482.2,1129.8 L485.2,1127.8 L488,1125.8 L490.7,1123.7 L493.2,1121.6 L495.6,1119.5 L497.9,1117.4 L500,1115.3 L502,1113.1 L503.8,1110.9 L505.5,1108.8 L507.1,1106.6 L508.5,1104.3 L509.7,1102.1 L510.9,1099.9 L511.9,1097.7 L512.7,1095.5 L513.4,1093.2 L514,1091 L514.5,1088.8 L514.8,1086.6 L515,1084.4 L515,1082.2Z" fill="url(#Cw3FTX)" stroke="#fff" stroke-opacity=".55" stroke-width=".8"/>
<path d="M166.1,1066.3 L164.7,1064.1 L163.4,1062 L162.2,1059.8 L161.1,1057.6 L160.2,1055.4 L159.3,1053.2 L158.7,1051.1 L158.1,1048.9 L157.7,1046.7 L157.4,1044.5 L157.2,1042.4 L157.1,1040.2 L160.8,1082.2 L160.8,1084.3 L161,1086.4 L161.3,1088.6 L161.7,1090.7 L162.2,1092.8 L162.9,1095 L163.7,1097.1 L164.6,1099.3 L165.7,1101.4 L166.8,1103.5 L168.1,1105.7 L169.6,1107.8Z" fill="url(#CwPLA2)" stroke="#fff" stroke-opacity=".55" stroke-width=".8"/>
<path d="M337.9,1024.4 L313,957.3 L316.9,957.1 L320.8,956.9 L324.7,956.8 L328.6,956.6 L332.5,956.6 L336.4,956.5 L340.3,956.5 L344.2,956.6 L348,956.7 L351.9,956.8 L355.8,956.9 L359.7,957.1 L363.6,957.4 L367.4,957.7 L371.3,958 L375.1,958.3 L379,958.7 L382.8,959.1 L386.6,959.6 L390.3,960.1 L394.1,960.7 L397.8,961.3 L401.6,961.9 L405.2,962.6 L408.9,963.3 L412.5,964 L416.2,964.8 L419.7,965.6 L423.3,966.5 L426.8,967.3 L430.3,968.3 L433.7,969.3 L437.1,970.3 L440.5,971.3 L443.8,972.4 L447.1,973.5 L450.3,974.7 L453.5,975.9 L456.6,977.1 L459.7,978.4 L462.7,979.7 L465.7,981 L468.6,982.4 L471.5,983.8 L474.3,985.3 L477,986.8 L479.7,988.3 L482.3,989.9 L484.8,991.5 L487.3,993.1 L489.6,994.7 L491.9,996.4 L494.2,998.2 L496.3,999.9 L498.4,1001.7 L500.4,1003.5 L502.2,1005.4 L504,1007.2 L505.7,1009.2 L507.4,1011.1 L508.9,1013.1 L510.3,1015 L511.6,1017.1 L512.8,1019.1 L513.9,1021.2 L514.9,1023.2 L515.8,1025.3 L516.6,1027.5 L517.2,1029.6 L517.7,1031.8 L518.2,1034 L518.4,1036.2 L518.6,1038.4 L518.7,1040.6 L518.6,1042.8 L518.4,1045.1 L518,1047.3 L517.5,1049.6 L516.9,1051.8 L516.2,1054.1 L515.3,1056.4 L514.2,1058.6 L513.1,1060.9 L511.8,1063.1 L510.3,1065.4 L508.7,1067.6 L507,1069.8 L505.1,1072.1 L503,1074.3 L500.9,1076.4 L498.5,1078.6 L496.1,1080.7 L493.5,1082.8 L490.7,1084.9 L487.8,1087 L484.8,1089 L481.6,1091 L478.3,1093 L474.8,1094.9 L471.2,1096.7 L467.5,1098.6 L463.6,1100.4 L459.6,1102.1 L455.5,1103.8 L451.3,1105.4 L446.9,1107 L442.5,1108.5 L437.9,1109.9 L433.2,1111.3 L428.4,1112.7 L423.5,1113.9 L418.5,1115.1 L413.5,1116.2 L408.3,1117.3 L403.1,1118.3 L397.8,1119.2 L392.4,1120 L386.9,1120.8 L381.4,1121.4 L375.9,1122 L370.3,1122.6 L364.7,1123 L359,1123.3 L353.3,1123.6 L347.6,1123.8 L341.9,1123.9 L336.2,1123.9 L330.5,1123.8 L324.8,1123.7 L319.1,1123.5 L313.4,1123.1 L307.8,1122.7 L302.2,1122.3 L296.6,1121.7 L291.1,1121.1 L285.7,1120.3 L280.3,1119.5 L274.9,1118.7 L269.7,1117.7 L264.5,1116.7 L259.4,1115.6 L254.3,1114.4 L249.4,1113.2 L244.6,1111.9 L239.8,1110.5 L235.2,1109.1 L230.7,1107.6 L226.3,1106 L222,1104.4 L217.8,1102.8 L213.8,1101.1 L209.9,1099.3 L206.1,1097.5 L202.5,1095.6 L199,1093.7 L195.6,1091.8 L192.3,1089.8 L189.2,1087.8 L186.3,1085.8 L183.5,1083.7 L180.8,1081.6 L178.3,1079.5 L175.9,1077.3 L173.6,1075.2 L171.6,1073 L169.6,1070.8 L167.8,1068.5 L166.1,1066.3Z" fill="url(#Ct3FTX)" stroke="#fff" stroke-opacity=".7" stroke-width=".8" stroke-linejoin="round"/>
<path d="M337.9,1024.4 L166.1,1066.3 L164.6,1064.1 L163.3,1061.8 L162,1059.6 L160.9,1057.3 L160,1055 L159.2,1052.8 L158.5,1050.5 L158,1048.3 L157.6,1046 L157.3,1043.8 L157.2,1041.5 L157.2,1039.3 L157.3,1037.1 L157.5,1034.9 L157.9,1032.7 L158.4,1030.5 L159,1028.4 L159.7,1026.2 L160.5,1024.1 L161.5,1022 L162.5,1020 L163.7,1017.9 L164.9,1015.9 L166.3,1013.9 L167.8,1011.9 L169.4,1010 L171,1008.1 L172.8,1006.2 L174.6,1004.3 L176.6,1002.5 L178.6,1000.7 L180.7,998.9 L182.9,997.2 L185.2,995.5 L187.5,993.8 L189.9,992.1 L192.4,990.5 L195,989 L197.6,987.4 L200.3,985.9 L203.1,984.5 L205.9,983 L208.8,981.6 L211.8,980.3 L214.8,979 L217.8,977.7 L220.9,976.4 L224.1,975.2 L227.3,974 L230.5,972.9 L233.8,971.8 L237.2,970.7 L240.6,969.7 L244,968.7 L247.5,967.8 L251,966.8Z" fill="url(#CtPLA2)" stroke="#fff" stroke-opacity=".7" stroke-width=".8" stroke-linejoin="round"/>
<path d="M337.9,1024.4 L251,966.8 L253.4,966.2 L255.9,965.6 L258.4,965.1Z" fill="url(#CtvNGF)" stroke="#fff" stroke-opacity=".7" stroke-width=".8" stroke-linejoin="round"/>
<path d="M337.9,1024.4 L258.4,965.1 L261.9,964.3 L265.4,963.6 L268.9,962.9 L272.5,962.2 L276,961.6 L279.6,961 L283.3,960.4 L286.9,959.9 L290.6,959.4 L294.2,959 L297.9,958.6 L301.6,958.2Z" fill="url(#CtSVMP)" stroke="#fff" stroke-opacity=".7" stroke-width=".8" stroke-linejoin="round"/>
<path d="M337.9,1024.4 L301.6,958.2 L304.9,957.9Z" fill="url(#CtCVF)" stroke="#fff" stroke-opacity=".7" stroke-width=".35" stroke-linejoin="round"/>
<path d="M337.9,1024.4 L304.9,957.9 L307.8,957.7 L310.7,957.5Z" fill="url(#CtPDE)" stroke="#fff" stroke-opacity=".7" stroke-width=".35" stroke-linejoin="round"/>
<path d="M337.9,1024.4 L310.7,957.5 L312.4,957.4Z" fill="url(#CtLAAO)" stroke="#fff" stroke-opacity=".7" stroke-width=".35" stroke-linejoin="round"/>
<path d="M337.9,1024.4 L312.4,957.4 L313,957.3Z" fill="url(#CtVespryn)" stroke="#fff" stroke-opacity=".7" stroke-width=".35" stroke-linejoin="round"/>
<path d="M518.7,1040.2 L518.5,1043.2 L518.2,1046.1 L517.6,1049.1 L516.8,1052.1 L515.8,1055.1 L514.5,1058.1 L513,1061.1 L511.2,1064 L509.1,1067 L506.9,1070 L504.3,1072.9 L501.5,1075.8 L498.5,1078.6 L495.2,1081.5 L491.6,1084.2 L487.8,1087 L483.8,1089.6 L479.5,1092.2 L475,1094.8 L470.2,1097.2 L465.2,1099.6 L460,1101.9 L454.5,1104.2 L448.9,1106.3 L443,1108.3 L437,1110.2 L430.7,1112 L424.3,1113.7 L417.7,1115.3 L410.9,1116.8 L404.1,1118.1 L397,1119.3 L389.9,1120.4 L382.7,1121.3 L375.4,1122.1 L368,1122.7 L360.5,1123.3 L353,1123.6 L345.5,1123.8 L337.9,1123.9 L330.3,1123.8 L322.8,1123.6 L315.3,1123.3 L307.8,1122.7 L300.4,1122.1 L293.1,1121.3 L285.9,1120.4 L278.8,1119.3 L271.7,1118.1 L264.9,1116.8 L258.1,1115.3 L251.5,1113.7 L245.1,1112 L238.8,1110.2 L232.8,1108.3 L226.9,1106.3 L221.3,1104.2 L215.8,1101.9 L210.6,1099.6 L205.6,1097.2 L200.8,1094.8 L196.3,1092.2 L192,1089.6 L188,1087 L184.2,1084.2 L180.6,1081.5 L177.3,1078.6 L174.3,1075.8 L171.5,1072.9 L168.9,1070 L166.7,1067 L164.6,1064 L162.8,1061.1 L161.3,1058.1 L160,1055.1 L159,1052.1 L158.2,1049.1 L157.6,1046.1 L157.3,1043.2 L157.1,1040.2" fill="none" stroke="#fff" stroke-opacity=".75" stroke-width="1.1"/>
<text x="213.3" y="857.3" font-size="16.2" fill="#404040" textLength="66.7" lengthAdjust="spacingAndGlyphs">PDE, 0.63</text>
<text x="204" y="881.7" font-size="16.2" fill="#404040" textLength="63.7" lengthAdjust="spacingAndGlyphs">CVF, 0.35</text>
<text x="110" y="905.7" font-size="16.2" fill="#404040" textLength="79" lengthAdjust="spacingAndGlyphs">SVMP, 4.82</text>
<text x="124" y="944.3" font-size="16.2" fill="#404040" textLength="76" lengthAdjust="spacingAndGlyphs">vNGF, 0.87</text>
<text x="307.3" y="912.3" font-size="16.2" fill="#404040" textLength="77" lengthAdjust="spacingAndGlyphs">LAAO, 0.18</text>
<text x="323.3" y="940.3" font-size="16.2" fill="#404040" textLength="95.7" lengthAdjust="spacingAndGlyphs">Vespryn, 0.07</text>
<text x="183.3" y="1022.7" font-size="16.2" fill="#404040" textLength="82.4" lengthAdjust="spacingAndGlyphs">PLA2, 23.26</text>
<text x="413.3" y="1033.3" font-size="16.2" fill="#404040" textLength="81.7" lengthAdjust="spacingAndGlyphs">3FTX, 69.82</text>
<path d="M583.3,975 C571,975 564,975.6 564,979.5 L564,1037.8 C564,1040.7 560,1041.9 543.3,1042.3 C560,1042.7 564,1043.9 564,1046.8 L564,1104.8 C564,1108.7 571,1109.3 583.3,1109.3" fill="none" stroke="#c27f5c" stroke-width="1"/>
<text x="602.7" y="999" font-size="16.2" fill="#595959" textLength="40.6" lengthAdjust="spacingAndGlyphs">SNTX</text>
<text x="604.3" y="1046" font-size="16.2" fill="#595959" textLength="39" lengthAdjust="spacingAndGlyphs">LNTX</text>
<text x="615" y="1092.3" font-size="16.2" fill="#595959" textLength="28.3" lengthAdjust="spacingAndGlyphs">CTX</text>
<rect x="699.5" y="941" width="244.5" height="144" fill="url(#Cbw)"/>
<path d="M661,1109.3 L907.3,1109.3 L944,1085 L699.5,1085Z" fill="#98a6ba"/>
<path d="M661,1109.3 L907.3,1109.3" stroke="#7f8794" stroke-width="1.2" fill="none"/>
<path d="M661,1109.3 L699.5,1085 L699.5,941 L661,965.3Z" fill="#fff"/>
<path d="M661,965.3 L661,1109.3" stroke="#8c8c8c" stroke-width="1.1" fill="none"/>
<path d="M673.3,964.3 L685.6,955.3 L712.3,955.3 L700,964.3Z" fill="#00bd76"/>
<path d="M700,964.3 L712.3,955.3 L712.3,991.7 L700,1000.7Z" fill="#00a565"/>
<rect x="673.3" y="964.3" width="26.7" height="36.4" fill="#00fa97"/>
<path d="M673.3,1011.7 L685.6,1002.7 L725.6,1002.7 L713.3,1011.7Z" fill="#00bd76"/>
<path d="M713.3,1011.7 L725.6,1002.7 L725.6,1038.7 L713.3,1047.7Z" fill="#00a565"/>
<rect x="673.3" y="1011.7" width="40" height="36" fill="#00fa97"/>
<path d="M673.3,1058.1 L685.6,1049.1 L906.6,1049.1 L894.3,1058.1Z" fill="#00bd76"/>
<path d="M894.3,1058.1 L906.6,1049.1 L906.6,1085.3 L894.3,1094.3Z" fill="#00a565"/>
<rect x="673.3" y="1058.1" width="221" height="36.2" fill="#00fa97"/>
<text x="717.7" y="990" font-size="16.2" fill="#404040" textLength="32.3" lengthAdjust="spacingAndGlyphs">6.41</text>
<text x="731" y="1037.3" font-size="16.2" fill="#404040" textLength="33" lengthAdjust="spacingAndGlyphs">9.64</text>
<text x="911.7" y="1083.3" font-size="16.2" fill="#404040" textLength="42.6" lengthAdjust="spacingAndGlyphs">53.77</text>
<text x="21.7" y="1243.3" font-size="24.7" fill="#000" textLength="23.3" lengthAdjust="spacingAndGlyphs">D.</text>
<text x="499" y="1246" font-size="27" fill="#087808" textLength="102.7" lengthAdjust="spacingAndGlyphs">Sumatra</text>
<path d="M315,1239 L320,1240 L334,1365.5" fill="none" stroke="#9c9c9c" stroke-width="1.1"/>
<path d="M287.3,1284 L293,1285 L327,1365.7" fill="none" stroke="#9c9c9c" stroke-width="1.1"/>
<path d="M237.3,1295.7 L243,1297 L321.5,1366" fill="none" stroke="#9c9c9c" stroke-width="1.1"/>
<path d="M133.3,1297.7 L140,1298.5 L316.7,1366.3" fill="none" stroke="#9c9c9c" stroke-width="1.1"/>
<path d="M136.7,1310.7 L143,1312 L308,1367" fill="none" stroke="#9c9c9c" stroke-width="1.1"/>
<path d="M143.3,1336.7 L149,1337.5 L286.7,1370" fill="none" stroke="#9c9c9c" stroke-width="1.1"/>
<path d="M134,1361.7 L140,1363 L241.7,1379.3" fill="none" stroke="#9c9c9c" stroke-width="1.1"/>
<path d="M121.7,1381.7 L127,1383 L205,1393.3" fill="none" stroke="#9c9c9c" stroke-width="1.1"/>
<path d="M342.7,1244.3 L338,1245 L337.7,1365.5" fill="none" stroke="#9c9c9c" stroke-width="1.1"/>
<path d="M372.7,1280.7 L367.7,1282 L339.5,1365.5" fill="none" stroke="#9c9c9c" stroke-width="1.1"/>
<path d="M377.7,1311.7 L373,1313 L340.5,1365.5" fill="none" stroke="#9c9c9c" stroke-width="1.1"/>
<path d="M369.3,1340.7 L365,1342 L341.5,1365.3" fill="none" stroke="#9c9c9c" stroke-width="1.1"/>
<path d="M523,1451.3 L522.9,1453.6 L522.7,1455.9 L522.4,1458.2 L521.9,1460.5 L521.3,1462.8 L520.6,1465.2 L519.7,1467.5 L518.7,1469.8 L517.5,1472.1 L516.2,1474.5 L514.7,1476.8 L513.1,1479.1 L511.4,1481.4 L509.5,1483.7 L507.4,1485.9 L505.2,1488.2 L502.9,1490.4 L500.4,1492.6 L497.7,1494.8 L494.9,1496.9 L492,1499.1 L488.9,1501.2 L485.7,1503.2 L482.3,1505.2 L478.8,1507.2 L475.1,1509.1 L471.3,1511 L467.4,1512.9 L463.3,1514.7 L459.2,1516.4 L454.8,1518.1 L450.4,1519.7 L445.8,1521.3 L441.1,1522.8 L436.4,1524.2 L431.5,1525.6 L426.5,1526.9 L421.4,1528.1 L416.2,1529.3 L410.9,1530.4 L405.5,1531.4 L400.1,1532.3 L394.6,1533.2 L389,1533.9 L383.4,1534.6 L377.7,1535.2 L372,1535.7 L366.3,1536.1 L360.5,1536.5 L354.7,1536.7 L348.8,1536.9 L343,1537 L337.2,1537 L331.3,1536.9 L325.5,1536.7 L319.7,1536.4 L313.9,1536.1 L308.1,1535.6 L302.4,1535.1 L296.8,1534.5 L291.2,1533.8 L285.6,1533 L280.1,1532.2 L274.7,1531.2 L269.3,1530.2 L264.1,1529.1 L258.9,1528 L253.8,1526.7 L248.8,1525.4 L243.9,1524 L239.2,1522.6 L241.2,1562.7 L245.9,1564.1 L250.7,1565.4 L255.5,1566.7 L260.5,1567.9 L265.6,1569.1 L270.8,1570.1 L276,1571.1 L281.3,1572.1 L286.7,1572.9 L292.1,1573.7 L297.6,1574.3 L303.2,1574.9 L308.8,1575.5 L314.4,1575.9 L320.1,1576.2 L325.8,1576.5 L331.5,1576.7 L337.2,1576.8 L342.9,1576.8 L348.7,1576.7 L354.4,1576.5 L360.1,1576.3 L365.7,1576 L371.4,1575.5 L377,1575 L382.5,1574.4 L388.1,1573.8 L393.5,1573 L398.9,1572.2 L404.2,1571.3 L409.5,1570.3 L414.7,1569.2 L419.7,1568.1 L424.7,1566.9 L429.6,1565.6 L434.4,1564.3 L439.1,1562.9 L443.7,1561.4 L448.2,1559.9 L452.5,1558.3 L456.8,1556.6 L460.9,1554.9 L464.9,1553.2 L468.7,1551.3 L472.4,1549.5 L476,1547.6 L479.5,1545.7 L482.8,1543.7 L485.9,1541.7 L489,1539.6 L491.9,1537.5 L494.6,1535.4 L497.2,1533.3 L499.6,1531.1 L501.9,1528.9 L504.1,1526.7 L506.1,1524.5 L507.9,1522.3 L509.7,1520 L511.2,1517.8 L512.7,1515.5 L513.9,1513.2 L515.1,1510.9 L516.1,1508.7 L517,1506.4 L517.7,1504.1 L518.3,1501.8 L518.7,1499.6 L519.1,1497.3 L519.2,1495.1 L519.3,1492.8Z" fill="url(#Dw3FTX)" stroke="#fff" stroke-opacity=".55" stroke-width=".8"/>
<path d="M239.2,1522.6 L234.5,1521.1 L230,1519.5 L225.6,1517.9 L221.3,1516.2 L217.1,1514.5 L213.1,1512.7 L209.2,1510.8 L205.4,1508.9 L201.8,1507 L198.3,1505 L195,1503 L191.8,1501 L188.7,1498.9 L185.8,1496.8 L183,1494.6 L180.4,1492.4 L178,1490.2 L175.6,1488 L173.4,1485.8 L171.4,1483.5 L169.5,1481.2 L167.8,1479 L166.2,1476.7 L164.8,1474.4 L163.5,1472.1 L162.3,1469.7 L161.3,1467.4 L160.4,1465.1 L159.7,1462.8 L159.1,1460.5 L158.6,1458.2 L158.3,1455.9 L158.1,1453.6 L158,1451.3 L161.7,1492.8 L161.8,1495 L161.9,1497.3 L162.3,1499.5 L162.7,1501.8 L163.3,1504.1 L164,1506.3 L164.9,1508.6 L165.9,1510.9 L167,1513.1 L168.3,1515.4 L169.7,1517.7 L171.3,1519.9 L173,1522.1 L174.8,1524.4 L176.8,1526.6 L178.9,1528.8 L181.2,1531 L183.6,1533.1 L186.2,1535.2 L188.9,1537.4 L191.8,1539.4 L194.8,1541.5 L197.9,1543.5 L201.2,1545.5 L204.6,1547.4 L208.1,1549.3 L211.8,1551.1 L215.7,1552.9 L219.6,1554.7 L223.7,1556.4 L227.9,1558 L232.2,1559.6 L236.6,1561.2 L241.2,1562.7Z" fill="url(#DwPLA2)" stroke="#fff" stroke-opacity=".55" stroke-width=".8"/>
<path d="M340.5,1434 L340.5,1365.6 L344.4,1365.6 L348.3,1365.7 L352.1,1365.8 L356,1365.9 L359.9,1366.1 L363.7,1366.3 L367.6,1366.6 L371.4,1366.9 L375.2,1367.2 L379.1,1367.5 L382.9,1368 L386.7,1368.4 L390.4,1368.9 L394.2,1369.4 L397.9,1370 L401.6,1370.6 L405.3,1371.2 L409,1371.9 L412.7,1372.6 L416.3,1373.4 L419.9,1374.1 L423.4,1375 L427,1375.9 L430.5,1376.8 L434,1377.7 L437.4,1378.7 L440.8,1379.7 L444.1,1380.8 L447.4,1381.9 L450.7,1383 L453.9,1384.2 L457.1,1385.4 L460.3,1386.7 L463.3,1387.9 L466.4,1389.3 L469.3,1390.6 L472.3,1392 L475.1,1393.5 L477.9,1394.9 L480.7,1396.5 L483.4,1398 L486,1399.6 L488.5,1401.2 L491,1402.8 L493.4,1404.5 L495.7,1406.2 L497.9,1408 L500.1,1409.8 L502.2,1411.6 L504.2,1413.4 L506.1,1415.3 L507.9,1417.2 L509.7,1419.2 L511.3,1421.2 L512.8,1423.1 L514.3,1425.2 L515.6,1427.2 L516.8,1429.3 L518,1431.4 L519,1433.5 L519.9,1435.7 L520.7,1437.9 L521.4,1440.1 L521.9,1442.3 L522.4,1444.5 L522.7,1446.7 L522.9,1449 L523,1451.3 L522.9,1453.6 L522.7,1455.9 L522.4,1458.2 L521.9,1460.5 L521.3,1462.8 L520.6,1465.1 L519.7,1467.5 L518.7,1469.8 L517.5,1472.1 L516.2,1474.4 L514.7,1476.8 L513.1,1479.1 L511.4,1481.4 L509.5,1483.6 L507.4,1485.9 L505.2,1488.2 L502.9,1490.4 L500.4,1492.6 L497.8,1494.8 L495,1496.9 L492,1499.1 L488.9,1501.1 L485.7,1503.2 L482.3,1505.2 L478.8,1507.2 L475.2,1509.1 L471.4,1511 L467.4,1512.9 L463.4,1514.7 L459.2,1516.4 L454.9,1518.1 L450.4,1519.7 L445.9,1521.3 L441.2,1522.8 L436.4,1524.2 L431.5,1525.6 L426.5,1526.9 L421.4,1528.1 L416.2,1529.3 L410.9,1530.4 L405.6,1531.4 L400.1,1532.3 L394.6,1533.2 L389.1,1533.9 L383.4,1534.6 L377.8,1535.2 L372,1535.7 L366.3,1536.1 L360.5,1536.5 L354.7,1536.7 L348.8,1536.9 L343,1537 L337.2,1537 L331.3,1536.9 L325.5,1536.7 L319.7,1536.4 L313.9,1536.1 L308.2,1535.7 L302.4,1535.1 L296.8,1534.5 L291.2,1533.8 L285.6,1533 L280.1,1532.2 L274.7,1531.2 L269.3,1530.2 L264.1,1529.1 L258.9,1528 L253.8,1526.7 L248.8,1525.4 L243.9,1524 L239.2,1522.6Z" fill="url(#Dt3FTX)" stroke="#fff" stroke-opacity=".7" stroke-width=".8" stroke-linejoin="round"/>
<path d="M340.5,1434 L239.2,1522.6 L234.5,1521.1 L230,1519.5 L225.6,1517.9 L221.3,1516.2 L217.2,1514.5 L213.1,1512.7 L209.2,1510.8 L205.5,1509 L201.9,1507 L198.4,1505.1 L195,1503 L191.8,1501 L188.8,1498.9 L185.9,1496.8 L183.1,1494.7 L180.5,1492.5 L178,1490.3 L175.7,1488.1 L173.5,1485.8 L171.5,1483.6 L169.6,1481.3 L167.8,1479 L166.3,1476.7 L164.8,1474.4 L163.5,1472.1 L162.3,1469.8 L161.3,1467.5 L160.4,1465.2 L159.7,1462.9 L159.1,1460.6 L158.6,1458.3 L158.3,1456 L158.1,1453.7 L158,1451.4 L158.1,1449.1 L158.3,1446.9 L158.6,1444.7 L159,1442.4 L159.6,1440.2 L160.2,1438.1 L161,1435.9 L161.9,1433.8 L162.9,1431.6 L164,1429.5 L165.2,1427.5 L166.6,1425.4 L168,1423.4 L169.5,1421.4 L171.1,1419.5 L172.8,1417.5 L174.6,1415.6 L176.5,1413.7 L178.5,1411.9 L180.5,1410.1 L182.7,1408.3 L184.9,1406.6 L187.2,1404.8 L189.6,1403.2 L192,1401.5 L194.5,1399.9 L197.1,1398.3Z" fill="url(#DtPLA2)" stroke="#fff" stroke-opacity=".7" stroke-width=".8" stroke-linejoin="round"/>
<path d="M340.5,1434 L197.1,1398.3 L199.7,1396.8 L202.3,1395.4 L205,1393.9 L207.7,1392.5 L210.5,1391.2 L213.4,1389.8 L216.3,1388.5 L219.3,1387.3Z" fill="url(#DtvNGF)" stroke="#fff" stroke-opacity=".7" stroke-width=".8" stroke-linejoin="round"/>
<path d="M340.5,1434 L219.3,1387.3 L222.2,1386.1 L225.1,1384.9 L228.2,1383.8 L231.2,1382.7 L234.3,1381.6 L237.4,1380.6 L240.6,1379.6 L243.8,1378.6 L247,1377.7 L250.3,1376.8 L253.6,1376 L256.9,1375.1 L260.2,1374.4 L263.6,1373.6 L267,1372.9Z" fill="url(#DtKSPI)" stroke="#fff" stroke-opacity=".7" stroke-width=".8" stroke-linejoin="round"/>
<path d="M340.5,1434 L267,1372.9 L270.3,1372.2 L273.7,1371.6 L277,1371 L280.4,1370.4 L283.8,1369.9 L287.2,1369.3 L290.7,1368.9 L294.1,1368.4 L297.6,1368 L301,1367.6Z" fill="url(#DtSVMP)" stroke="#fff" stroke-opacity=".7" stroke-width=".8" stroke-linejoin="round"/>
<path d="M340.5,1434 L301,1367.6 L304.2,1367.3 L307.3,1367 L310.4,1366.8 L313.6,1366.6Z" fill="url(#DtCVF)" stroke="#fff" stroke-opacity=".7" stroke-width=".8" stroke-linejoin="round"/>
<path d="M340.5,1434 L313.6,1366.6 L315.7,1366.4 L317.8,1366.3Z" fill="url(#DtPDE)" stroke="#fff" stroke-opacity=".7" stroke-width=".35" stroke-linejoin="round"/>
<path d="M340.5,1434 L317.8,1366.3 L320,1366.2 L322.2,1366Z" fill="url(#DtCRiSP)" stroke="#fff" stroke-opacity=".7" stroke-width=".35" stroke-linejoin="round"/>
<path d="M340.5,1434 L322.2,1366 L325.6,1365.9 L328.9,1365.8Z" fill="url(#DtLAAO)" stroke="#fff" stroke-opacity=".7" stroke-width=".35" stroke-linejoin="round"/>
<path d="M340.5,1434 L328.9,1365.8 L332.3,1365.7 L335.6,1365.6Z" fill="url(#DtSVSP)" stroke="#fff" stroke-opacity=".7" stroke-width=".35" stroke-linejoin="round"/>
<path d="M340.5,1434 L335.6,1365.6 L337.3,1365.6Z" fill="url(#DtHYA)" stroke="#fff" stroke-opacity=".7" stroke-width=".35" stroke-linejoin="round"/>
<path d="M340.5,1434 L337.3,1365.6 L338.6,1365.6Z" fill="url(#DtVespryn)" stroke="#fff" stroke-opacity=".7" stroke-width=".35" stroke-linejoin="round"/>
<path d="M340.5,1434 L338.6,1365.6 L339.9,1365.6Z" fill="url(#DtAChE)" stroke="#fff" stroke-opacity=".7" stroke-width=".35" stroke-linejoin="round"/>
<path d="M340.5,1434 L339.9,1365.6 L340.5,1365.6Z" fill="url(#Dt5NUC)" stroke="#fff" stroke-opacity=".7" stroke-width=".35" stroke-linejoin="round"/>
<path d="M523,1451.3 L522.8,1454.3 L522.5,1457.3 L521.9,1460.4 L521.1,1463.4 L520.1,1466.5 L518.8,1469.5 L517.3,1472.5 L515.5,1475.6 L513.5,1478.6 L511.2,1481.6 L508.6,1484.6 L505.8,1487.6 L502.8,1490.5 L499.5,1493.4 L495.9,1496.2 L492.1,1499 L488,1501.7 L483.7,1504.4 L479.1,1507 L474.3,1509.6 L469.3,1512 L464,1514.4 L458.5,1516.7 L452.8,1518.8 L446.9,1520.9 L440.8,1522.9 L434.5,1524.8 L428,1526.5 L421.3,1528.1 L414.5,1529.6 L407.5,1531 L400.4,1532.3 L393.2,1533.4 L385.9,1534.3 L378.4,1535.1 L371,1535.8 L363.4,1536.3 L355.8,1536.7 L348.2,1536.9 L340.5,1537 L332.8,1536.9 L325.2,1536.7 L317.6,1536.3 L310,1535.8 L302.6,1535.1 L295.1,1534.3 L287.8,1533.4 L280.6,1532.3 L273.5,1531 L266.5,1529.6 L259.7,1528.1 L253,1526.5 L246.5,1524.8 L240.2,1522.9 L234.1,1520.9 L228.2,1518.8 L222.5,1516.7 L217,1514.4 L211.7,1512 L206.7,1509.6 L201.9,1507 L197.3,1504.4 L193,1501.7 L188.9,1499 L185.1,1496.2 L181.5,1493.4 L178.2,1490.5 L175.2,1487.6 L172.4,1484.6 L169.8,1481.6 L167.5,1478.6 L165.5,1475.6 L163.7,1472.5 L162.2,1469.5 L160.9,1466.5 L159.9,1463.4 L159.1,1460.4 L158.5,1457.3 L158.2,1454.3 L158,1451.3" fill="none" stroke="#fff" stroke-opacity=".75" stroke-width="1.1"/>
<text x="244" y="1240" font-size="15" fill="#404040" textLength="69.3" lengthAdjust="spacingAndGlyphs">SVSP, 0.72</text>
<text x="219.3" y="1275" font-size="15" fill="#404040" textLength="74" lengthAdjust="spacingAndGlyphs">LAAO, 0.72</text>
<text x="90.7" y="1289.3" font-size="15" fill="#404040" textLength="63.3" lengthAdjust="spacingAndGlyphs">PDE, 0.46</text>
<text x="162.3" y="1296.7" font-size="15" fill="#404040" textLength="73.4" lengthAdjust="spacingAndGlyphs">CRiSP, 0.47</text>
<text x="73.3" y="1312.3" font-size="15" fill="#404040" textLength="61.7" lengthAdjust="spacingAndGlyphs">CVF, 1.36</text>
<text x="66" y="1337.3" font-size="15" fill="#404040" textLength="75.7" lengthAdjust="spacingAndGlyphs">SVMP, 3.79</text>
<text x="66" y="1363" font-size="15" fill="#404040" textLength="66.3" lengthAdjust="spacingAndGlyphs">KSPI, 5.86</text>
<text x="49" y="1382.7" font-size="15" fill="#404040" textLength="71" lengthAdjust="spacingAndGlyphs">vNGF, 3.21</text>
<text x="344" y="1245.3" font-size="15" fill="#404040" textLength="64.3" lengthAdjust="spacingAndGlyphs">HYA, 0.18</text>
<text x="374.3" y="1281.7" font-size="15" fill="#404040" textLength="91.7" lengthAdjust="spacingAndGlyphs">Vespryn, 0.14</text>
<text x="379" y="1312.3" font-size="15" fill="#404040" textLength="72" lengthAdjust="spacingAndGlyphs">AChE, 0.14</text>
<text x="371" y="1341.7" font-size="15" fill="#404040" textLength="79" lengthAdjust="spacingAndGlyphs">5'NUC, 0.06</text>
<text x="173.3" y="1462.3" font-size="15" fill="#404040" textLength="79.4" lengthAdjust="spacingAndGlyphs">PLA2, 25.18</text>
<text x="435.7" y="1462.7" font-size="15" fill="#404040" textLength="77.6" lengthAdjust="spacingAndGlyphs">3FTX, 57.71</text>
<path d="M599.3,1376.7 C586.3,1376.7 579.3,1377.3 579.3,1381.2 L579.3,1448.8 C579.3,1451.7 575.3,1452.9 559.3,1453.3 C575.3,1453.7 579.3,1454.9 579.3,1457.8 L579.3,1526.2 C579.3,1530.1 586.3,1530.7 599.3,1530.7" fill="none" stroke="#c27f5c" stroke-width="1"/>
<text x="621" y="1401.3" font-size="15" fill="#595959" textLength="36.7" lengthAdjust="spacingAndGlyphs">SNTX</text>
<text x="622.7" y="1434" font-size="15" fill="#595959" textLength="35" lengthAdjust="spacingAndGlyphs">LNTX</text>
<text x="619.3" y="1466" font-size="15" fill="#595959" textLength="38.4" lengthAdjust="spacingAndGlyphs">MTLP</text>
<text x="626" y="1498" font-size="15" fill="#595959" textLength="31.7" lengthAdjust="spacingAndGlyphs">WTX</text>
<text x="631.7" y="1530.7" font-size="15" fill="#595959" textLength="26" lengthAdjust="spacingAndGlyphs">CTX</text>
<rect x="700" y="1360" width="256" height="164.3" fill="url(#Dbw)"/>
<path d="M674,1541 L931.7,1541 L956,1524.3 L700,1524.3Z" fill="#98a6ba"/>
<path d="M674,1541 L931.7,1541" stroke="#7f8794" stroke-width="1.2" fill="none"/>
<path d="M674,1541 L700,1524.3 L700,1360 L674,1376.7Z" fill="#fff"/>
<path d="M674,1376.7 L674,1541" stroke="#8c8c8c" stroke-width="1.1" fill="none"/>
<path d="M682.3,1376 L690.6,1370 L727.6,1370 L719.3,1376Z" fill="#00bd76"/>
<path d="M719.3,1376 L727.6,1370 L727.6,1394.7 L719.3,1400.7Z" fill="#00a565"/>
<rect x="682.3" y="1376" width="37" height="24.7" fill="#00fa97"/>
<path d="M682.3,1408.3 L690.6,1402.3 L733.3,1402.3 L725,1408.3Z" fill="#00bd76"/>
<path d="M725,1408.3 L733.3,1402.3 L733.3,1426.7 L725,1432.7Z" fill="#00a565"/>
<rect x="682.3" y="1408.3" width="42.7" height="24.4" fill="#00fa97"/>
<path d="M682.3,1440.7 L690.6,1434.7 L761,1434.7 L752.7,1440.7Z" fill="#00bd76"/>
<path d="M752.7,1440.7 L761,1434.7 L761,1459 L752.7,1465Z" fill="#00a565"/>
<rect x="682.3" y="1440.7" width="70.4" height="24.3" fill="#00fa97"/>
<path d="M682.3,1472.7 L690.6,1466.7 L721.6,1466.7 L713.3,1472.7Z" fill="#00bd76"/>
<path d="M713.3,1472.7 L721.6,1466.7 L721.6,1491.3 L713.3,1497.3Z" fill="#00a565"/>
<rect x="682.3" y="1472.7" width="31" height="24.6" fill="#00fa97"/>
<path d="M682.3,1505 L690.6,1499 L934,1499 L925.7,1505Z" fill="#00bd76"/>
<path d="M925.7,1505 L934,1499 L934,1524 L925.7,1530Z" fill="#00a565"/>
<rect x="682.3" y="1505" width="243.4" height="25" fill="#00fa97"/>
<text x="732.3" y="1395" font-size="15" fill="#404040" textLength="29.4" lengthAdjust="spacingAndGlyphs">5.01</text>
<text x="738.3" y="1427.3" font-size="15" fill="#404040" textLength="21" lengthAdjust="spacingAndGlyphs">5.8</text>
<text x="766" y="1459.3" font-size="15" fill="#404040" textLength="20.7" lengthAdjust="spacingAndGlyphs">9.6</text>
<text x="726" y="1491.7" font-size="15" fill="#404040" textLength="30" lengthAdjust="spacingAndGlyphs">4.22</text>
<text x="938.3" y="1524.3" font-size="15" fill="#404040" textLength="37.7" lengthAdjust="spacingAndGlyphs">33.07</text>
<g transform="translate(740,18) scale(0.08577)"><path fill="#ff007f" d="M110,92 L135,130 L258,130 Q245,200 252,270 Q370,270 458,180 L560,260 Q630,310 670,365 Q700,430 705,520 L740,850 Q800,900 840,960 Q870,1010 888,1055 Q840,1130 750,1140 Q700,1135 650,1100 Q600,1075 560,1075 Q520,1060 490,1030 L350,920 Q300,880 305,820 Q305,740 270,710 L200,658 L205,505 L150,470 Q135,440 138,400 Q130,270 85,170 Q80,140 110,92Z"/></g>
<path d="M781.9,98 C779.7,94.8 774.9,91.2 774.9,86.6 A7,7 0 1 1 788.9,86.6 C788.9,91.2 784.1,94.8 781.9,98Z M778.7,86.6 A3.2,3.2 0 1 0 785.1,86.6 A3.2,3.2 0 1 0 778.7,86.6Z" fill="#ffcc00" fill-rule="evenodd"/>
<path d="M648.3,391.4 L650.6,389.8 L652.1,392.1 L655.9,393.6 L658.2,395.9 L663.5,394.4 L668,394.4 L675.2,388.7 L681.2,390.2 L682.4,393.2 L686.9,393.6 L692.2,395.1 L693,398.9 L692.2,401.6 L695.2,405 L699.8,407.6 L704.7,409.5 L700.5,414.8 L695.6,421.6 L694.9,428.4 L693,432.2 L692.2,437.5 L690,442.8 L686.5,448.1 L685,451.1 L687.3,454.9 L684.7,459.5 L682.4,462.9 L680.1,459.5 L676.3,456.4 L671,457.2 L665.7,453 L661.9,454.5 L657.4,455.3 L652.1,455.7 L651,459.5 L648.7,455.3 L651,450.4 L650.6,447 L654.4,445.8 L652.5,439 L651.4,431.5 L650.6,423.1 L651.4,417.1 L653.6,411.8 L652.9,405.7 L649.1,404.2 L651.4,398.2 L649.8,393.6Z" fill="#ff007f" stroke="#ff007f" stroke-width="1.2" stroke-linejoin="round"/>
<path d="M683,437.3 C680.8,434.1 676,430.5 676,425.9 A7,7 0 1 1 690,425.9 C690,430.5 685.2,434.1 683,437.3Z M679.8,425.9 A3.2,3.2 0 1 0 686.2,425.9 A3.2,3.2 0 1 0 679.8,425.9Z" fill="#ffcc00" fill-rule="evenodd"/>
<path d="M742.5,858.7 L745.1,857 L746,849.5 L750.8,847.3 L755.6,845.5 L759.6,842.5 L764.9,842.5 L767.9,844.2 L767.1,848.2 L772.8,849.9 L773.6,854.3 L772.3,860.5 L771,866.2 L773.6,867.1 L779.8,861.8 L785.1,863.5 L791.2,859.1 L796.5,860.5 L800,864.9 L802.6,869.2 L803.1,876.3 L807,880.7 L809.6,883.7 L808.3,891.2 L805.2,894.7 L798.2,893.4 L791.2,894.7 L785.9,899.1 L782.9,903.1 L784.2,907.9 L785.9,912.3 L783.7,912.3 L778.9,908.8 L771,908.3 L771,903.1 L764.9,902.2 L763.1,905.2 L763.5,910.5 L761.3,916.7 L758.3,922.8 L756.5,928.1 L757,934.2 L760.5,940.4 L764,947.4 L767.5,953.5 L771.9,956.6 L775.8,957.1 L778,960.6 L780.2,962.8 L778,965.4 L773.6,966.3 L771.9,966.7 L772.3,963.2 L769.2,960.6 L764.9,957.9 L762.2,959.3 L760.5,955.3 L757.4,950.9 L753.4,946.5 L749.5,944.8 L750.4,938.6 L752.6,930.7 L753.4,925.4 L757,921.1 L759.6,915.8 L760,911.4 L757,906.1 L756.5,900 L752.6,894.7 L748.6,888.6 L751.7,884.2 L752.6,878.9 L750.8,873.6 L747.3,869.2 L745.5,864Z" fill="#ff1a78" stroke="#ff1a78" stroke-width="1.2" stroke-linejoin="round"/>
<path d="M763.5,952.8 C761.4,949.7 756.7,946.2 756.7,941.7 A6.8,6.8 0 1 1 770.3,941.7 C770.3,946.2 765.6,949.7 763.5,952.8Z M760.4,941.7 A3.1,3.1 0 1 0 766.6,941.7 A3.1,3.1 0 1 0 760.4,941.7Z" fill="#ffcc00" fill-rule="evenodd"/>
<path d="M665.5,1232.5 L667.9,1229.8 L671.8,1231.8 L677.1,1234.2 L683.6,1234.4 L688.2,1237.1 L691.5,1241.6 L692.8,1246.2 L698,1250.8 L704.6,1256.7 L711.2,1263.3 L715.1,1266.6 L720.3,1267.9 L722.3,1271.2 L726.9,1273.1 L729.5,1277.7 L733.5,1279.7 L734.8,1284.3 L738.7,1286.9 L739.8,1290.8 L737.4,1294.1 L741.3,1297.4 L744,1302.6 L746.6,1307.9 L748.5,1313.1 L754.5,1313.8 L757.1,1319.7 L757.7,1326.3 L756.4,1335.4 L755.1,1345.9 L750.5,1347.9 L744,1347.9 L738.7,1342.7 L733.5,1336.8 L728.2,1329.5 L723,1323.6 L718.4,1317.1 L715.1,1310.5 L712.5,1302.6 L709.2,1296.1 L705.3,1289.5 L700.7,1283 L698,1276.4 L697.4,1272.5 L692.8,1267.9 L688.2,1263.3 L684.9,1256.7 L681,1250.8 L675.7,1246.2 L670.5,1241 L666.6,1235.7Z" fill="#ff007f" stroke="#ff007f" stroke-width="1.2" stroke-linejoin="round"/>
<path d="M751.8,1309.2 L754.5,1305.9 L757.7,1305.9 L759,1310.5 L761.7,1315.1 L764.3,1317.7 L763.6,1321.7 L760.4,1319.7 L757.1,1316.4 L755.1,1312.5Z" fill="#ff007f" stroke="#ff007f" stroke-width="1.2" stroke-linejoin="round"/>
<ellipse cx="674.2" cy="1261.7" rx="3.3" ry="0.8" fill="#ff007f" transform="rotate(40 674.2 1261.7)"/>
<ellipse cx="686.9" cy="1277.7" rx="4.2" ry="1.7" fill="#ff007f" transform="rotate(60 686.9 1277.7)"/>
<ellipse cx="694.8" cy="1291.5" rx="2.9" ry="0.8" fill="#ff007f" transform="rotate(-70 694.8 1291.5)"/>
<ellipse cx="698.3" cy="1303.3" rx="4.2" ry="1.6" fill="#ff007f" transform="rotate(65 698.3 1303.3)"/>
<ellipse cx="704.9" cy="1311.8" rx="1" ry="0.7" fill="#ff007f" transform="rotate(0 704.9 1311.8)"/>
<ellipse cx="709.2" cy="1319" rx="2.9" ry="0.8" fill="#ff007f" transform="rotate(60 709.2 1319)"/>
<ellipse cx="725.6" cy="1345.3" rx="0.9" ry="0.9" fill="#ff007f" transform="rotate(0 725.6 1345.3)"/>
<ellipse cx="742" cy="1277.7" rx="1" ry="0.9" fill="#ff007f" transform="rotate(0 742 1277.7)"/>
<ellipse cx="745.5" cy="1278.1" rx="1" ry="0.9" fill="#ff007f" transform="rotate(0 745.5 1278.1)"/>
<ellipse cx="746.6" cy="1290.2" rx="2.9" ry="0.8" fill="#ff007f" transform="rotate(50 746.6 1290.2)"/>
<ellipse cx="745" cy="1294.5" rx="0.9" ry="0.9" fill="#ff007f" transform="rotate(0 745 1294.5)"/>
<ellipse cx="774.1" cy="1319" rx="2.8" ry="3.4" fill="#ff007f" transform="rotate(10 774.1 1319)"/>
<path d="M737.4,1311.7 C735.2,1308.5 730.4,1304.9 730.4,1300.3 A7,7 0 1 1 744.4,1300.3 C744.4,1304.9 739.6,1308.5 737.4,1311.7Z M734.2,1300.3 A3.2,3.2 0 1 0 740.6,1300.3 A3.2,3.2 0 1 0 734.2,1300.3Z" fill="#ffcc00" fill-rule="evenodd"/>
<path d="M831.1,118.3 C831.1,116.5 831.1,114.6 832.6,113.2 C834.1,111.9 837,111.3 840.2,110.1 C843.3,108.9 847.5,107.4 851.5,106.3 C855.5,105.3 859.7,104.4 864.1,103.8 C868.6,103.2 873.6,102.2 878,102.5 C882.4,102.8 885.2,103.1 890.6,105.7 C896.1,108.3 907.2,115 910.8,118.3 C914.4,121.6 910.6,123.8 912.1,125.2 C913.6,126.7 917.3,126.2 919.6,127.1 C922,128.1 924.4,129.4 926,130.9 C927.5,132.4 928.5,134.3 929.1,136 C929.7,137.6 929.2,138.9 929.7,141 C930.3,143.1 931.6,146 932.3,148.6 C932.9,151.1 933.7,153.8 933.5,156.1 C933.3,158.4 932.5,160.9 931,162.4 C929.5,164 927.2,165.2 924.7,165.6 C922.2,166 918.6,165.6 915.9,165 C913.1,164.3 911.7,163.1 908.3,161.8 C904.9,160.5 899.9,158.9 895.7,157.4 C891.5,155.9 887.3,154.3 883.1,153 C878.9,151.6 874.9,150.1 870.5,149.2 C866,148.3 861.2,148.4 856.6,147.3 C852,146.3 846.2,144.6 842.7,142.9 C839.2,141.2 837.2,139 835.8,137.2 C834.3,135.4 834.1,133.9 833.9,132.2 C833.7,130.5 834.7,128.5 834.5,127.1 C834.3,125.8 833.2,125.4 832.6,124 C832,122.5 831.1,120.1 831.1,118.3Z" fill="url(#sAc)" />
<path d="M833.2,124.6 C835.2,124.3 841.1,123.8 845.2,122.7 C849.3,121.7 853.2,119.5 857.8,118.3 C862.5,117.1 868.8,116.3 873,115.8 C877.2,115.2 881.4,115.2 883.1,115.1" fill="none" stroke="#1c1d21" stroke-width="1.2" stroke-linecap="round"/>
<path d="M838.9,112 C841.2,111.5 848,109.7 852.8,108.8 C857.6,108 863.5,107.3 867.9,106.9 C872.3,106.6 877.4,106.9 879.3,106.9" fill="none" stroke="#5c5e64" stroke-width="1.6" stroke-linecap="round" opacity=".7"/>
<path d="M838.9,129.6 C841.2,129.9 848,130.1 852.8,130.9 C857.6,131.7 862.9,133.4 867.9,134.7 C873,136 880.5,137.8 883.1,138.5" fill="none" stroke="#55575d" stroke-width="2" stroke-linecap="round" opacity=".7"/>
<path d="M913.3,134.7 C914.6,135.3 918.6,136.8 920.9,138.5 C923.2,140.2 925.7,142.3 927.2,144.8 C928.7,147.3 929.3,152.1 929.7,153.6" fill="none" stroke="#1c1d21" stroke-width="1.2" stroke-linecap="round"/>
<path d="M874.2,73.5 C872.7,77.1 875.4,79.3 876.1,83 C876.9,86.7 877.9,91.8 878.7,95.6 C879.4,99.4 879.8,101.9 880.5,105.7 C881.3,109.5 882.2,114.1 883.1,118.3 C883.9,122.5 884.5,126.7 885.6,130.9 C886.6,135.1 887.9,139.3 889.4,143.5 C890.8,147.7 892.9,153.5 894.4,156.1 C895.9,158.8 895.1,158.1 898.2,159.3 C901.4,160.4 911,163.6 913.3,163.1 C915.7,162.5 912.8,159.4 912.3,156.1 C911.9,152.9 911.2,147.7 910.8,143.5 C910.5,139.3 910.1,135.1 910.2,130.9 C910.2,126.7 910.9,122.5 911.1,118.3 C911.3,114.1 911.4,109.9 911.4,105.7 C911.4,101.5 911.4,97.3 911.1,93.1 C910.8,88.9 910.4,84.7 909.6,80.5 C908.7,76.2 907.2,71.4 905.8,67.8 C904.3,64.3 902.6,61.3 900.7,59 C898.8,56.7 896.9,53.5 894.4,54 C891.9,54.4 889,58.3 885.6,61.5 C882.2,64.8 875.8,69.9 874.2,73.5Z" fill="url(#sAn)" />
<path d="M883.4,70.5L888.7,67.8L894.7,67.4M883.8,72.9L889.4,70.1L895.6,69.5M884.3,75.2L890,72.3L896.4,71.7M884.7,77.5L890.6,74.5L897.3,73.9M885.2,79.7L891.3,76.7L898.1,76.1M885.6,82L891.9,78.9L898.8,78.4M886,84.2L892.5,81.1L899.6,80.7M886.4,86.4L893,83.4L900.3,83M886.7,88.5L893.5,85.6L901,85.5M886.9,90.7L894,87.9L901.6,87.9M887.2,92.7L894.4,90.1L902,90.4M887.5,94.9L894.8,92.4L902.4,92.7M887.7,97.1L895.1,94.7L902.8,95.2M887.9,99.3L895.4,97L903.1,97.5M888.1,101.6L895.6,99.2L903.4,99.9M888.3,103.8L895.9,101.5L903.7,102.2M888.5,106.1L896.1,103.8L904,104.5M888.7,108.4L896.4,106.1L904.3,106.8M889,110.6L896.6,108.4L904.5,109.2M889.2,112.8L896.8,110.7L904.6,111.6M889.3,115L897,113L904.8,113.9M889.5,117.3L897.1,115.3L904.9,116.2M889.7,119.6L897.3,117.6L905.1,118.5M890,122L897.5,119.9L905.3,120.7M890.2,124.4L897.7,122.1L905.4,122.9M890.5,126.7L897.9,124.4L905.7,125.1M890.9,129.1L898.2,126.7L905.9,127.2M891.2,131.4L898.5,129L906.2,129.5M891.6,133.7L898.8,131.3L906.4,131.7M892,136L899.1,133.6L906.7,133.9M892.4,138.4L899.5,135.8L907,136.1M892.8,140.7L899.8,138.1L907.3,138.3M893.2,142.9L900.2,140.4L907.6,140.6M893.7,145.3L900.6,142.6L908,142.8M894.2,147.5L901,144.9L908.2,145M894.8,149.8L901.4,147.2L908.5,147.1M895.5,152.1L901.9,149.4L908.8,149.3M896.1,154.3L902.3,151.7L909.1,151.5M896.7,156.5L902.8,153.9L909.4,153.8M897.4,158.7L903.3,156.2L909.7,156M898.1,160.9L903.8,158.4L910,158.3" fill="none" stroke="#15171a" stroke-width="0.55" opacity="0.38"/>
<path d="M862.3,50.2 C862.4,48.6 862.4,46.3 864.1,45.1 C865.9,43.9 869.4,43.2 873,43 C876.6,42.7 882.3,42.9 885.6,43.6 C888.8,44.3 890.8,45.4 892.5,47 C894.2,48.6 896,51.9 895.7,53.3 C895.4,54.8 893.4,55.2 890.6,55.9 C887.9,56.5 882.9,56.9 879.3,57.1 C875.7,57.3 871.8,57.5 869.2,57.1 C866.6,56.7 864.7,55.8 863.5,54.6 C862.4,53.4 862.2,51.8 862.3,50.2Z" fill="url(#sAh)" />
<path d="M865.2,63.4 C865.2,61.8 865.2,60.1 866.9,59 C868.6,57.9 872,57 875.5,56.7 C879,56.5 884.7,56.7 888.1,57.5 C891.5,58.3 893.9,59.8 895.7,61.5 C897.5,63.3 899,66.3 898.8,67.8 C898.6,69.4 897,70 894.4,71 C891.8,71.9 886.6,73.3 883.1,73.5 C879.5,73.7 875.7,73.1 873,72.3 C870.2,71.4 868,69.9 866.7,68.5 C865.4,67 865.1,65 865.2,63.4Z" fill="url(#sAh)" />
<circle cx="876.1" cy="46.8" r="1.7" fill="#111"/>
<circle cx="879" cy="60.3" r="1.7" fill="#111"/>
<path d="M863.4,484.6 L861.9,485.5 L859.9,486.8 L857.7,488.2 L855.2,489.7 L852.7,491.1 L850.2,492.4 L847.9,493.5 L845.9,494.2 L843.7,494.7 L841.4,495.1 L839,495.4 L836.6,495.6 L834.4,495.6 L832.3,495.5 L830.4,495.2 L828.9,494.8 L827.6,494.3 L826.2,493.6 L824.9,492.7 L823.6,491.7 L822.4,490.5 L821.4,489.4 L820.6,488.2 L820,487.1 L819.6,485.9 L819.2,484.5 L818.9,482.9 L818.8,481.3 L818.8,479.7 L819,478.2 L819.4,476.8 L820,475.5 L820.8,474.1 L822,472.5 L823.5,470.8 L825.2,469 L827.2,467.4 L829.3,465.8 L831.4,464.3 L833.6,463.1 L835.8,462.1 L838.5,461.2 L841.5,460.4 L844.7,459.6 L848,458.9 L851.4,458.3 L854.6,457.7 L857.6,457.1 L860,456.7 L862.3,456.5 L864.8,456.3 L867.3,456.2 L870.1,456 L873,455.5 L876.1,454.6 L879.2,453 L881.9,450.9 L884.1,448.6 L885.9,446.1 L887.5,443.5 L888.8,440.9 L889.9,438.4 L890.8,435.8 L891.6,433.3 L892.2,430.6 L892.7,427.9 L892.9,425.1 L892.9,422.3 L892.8,419.6 L892.5,416.8 L892,414.1 L891.4,411.5 L890.5,409 L889.6,406.6 L888.4,404.1 L887,401.6 L885.4,399.2 L883.5,396.9 L881.3,394.7 L878.9,392.7 L876.2,391 L873.5,389.6 L870.7,388.4 L867.8,387.4 L864.8,386.6 L861.9,385.9 L858.9,385.3 L855.8,384.8 L852.7,384.4 L849.3,384.1 L845.8,383.9 L842.2,383.8 L838.5,383.8 L834.7,383.9 L830.8,384.3 L827.1,384.9 L823.4,385.6 L819.7,386.4 L816,387.4 L812.2,388.6 L808.5,390 L804.7,391.6 L801.1,393.4 L797.6,395.5 L794.3,397.7 L791.1,400.1 L788,402.6 L785,405.4 L782.1,408.4 L779.3,411.6 L776.8,414.9 L774.4,418.5 L772.3,422.3 L770.5,426.2 L768.9,430.3 L767.5,434.4 L766.3,438.6 L765.3,442.8 L764.6,447 L764.1,451.1 L763.8,455.1 L763.8,459.2 L764,463.4 L764.4,467.5 L765,471.6 L765.9,475.6 L767,479.6 L768.5,483.5 L770.3,487.3 L772.4,490.8 L774.7,494.2 L777.2,497.3 L779.8,500.2 L782.5,502.9 L785.2,505.5 L788,507.9 L791,510.1 L794.1,512.2 L797.3,514.1 L800.6,515.9 L803.8,517.4 L807.1,518.8 L810.4,520 L813.6,521.2 L816.9,522.2 L820.3,523.1 L823.7,523.8 L827.2,524.5 L830.7,525 L834.1,525.3 L837.6,525.4 L841,525.4 L844.3,525.1 L847.6,524.7 L850.8,524 L853.9,523.2 L856.9,522.3 L859.7,521.2 L862.4,520.1 L865.1,518.8 L867.7,517.3 L870.1,515.7 L872.4,513.9 L874.4,512.1 L876.3,510.4 L878,508.6 L879.5,507 L880.9,505.4 L882.5,503.5 L883.8,501.5 L884.8,499.7 L885.5,498.1 L886.1,496.9 L886.5,496 L886.7,495.5 L887,495.1 L887.7,494.6 L888.5,493.9 L889.3,493.3 L890.1,492.7 L890.9,492.3 L891.6,492 L892.3,491.8 L892.8,491.7 L893.6,491.6 L894.6,491.6 L895.7,491.7 L896.8,491.9 L897.9,492.2 L898.8,492.5 L899.4,492.8 L899.8,493.1 L900.2,493.5 L900.7,494.1 L901.2,494.9 L901.7,495.9 L902.1,497 L902.5,498.2 L902.7,499.3 L902.9,500.5 L903,501.8 L903,503.3 L902.9,504.9 L902.6,506.4 L902.3,508 L901.9,509.6 L901.3,511 L900.6,512.4 L899.8,513.9 L898.7,515.4 L897.4,517 L895.9,518.6 L894.4,520.1 L892.7,521.6 L890.9,523 L889.1,524.4 L887.1,525.6 L885,526.8 L882.8,528 L880.4,529.1 L878,530.1 L875.5,531 L873,531.8 L870.4,532.5 L867.9,533 L865.2,533.5 L862.4,533.9 L859.5,534.1 L856.6,534.3 L853.7,534.4 L850.7,534.4 L847.9,534.4 L845.2,534.2 L842.3,533.9 L839.3,533.3 L836.2,532.7 L833,532.2 L829.8,531.7 L826.6,531.3 L823.5,531.3 L820.6,531.5 L817.9,531.9 L815.3,532.4 L812.7,533.1 L810.3,533.9 L808,535 L805.8,536.1 L803.7,537.5 L801.8,539.2 L800.1,541 L798.6,543 L797.3,545.1 L796.2,547.2 L795.2,549.4 L794.4,551.6 L793.7,553.9 L793.3,556.2 L793,558.6 L792.9,561 L792.9,563.4 L793.1,565.8 L793.3,568.2 L793.7,570.6 L794.2,572.9 L794.8,575.2 L795.5,577.5 L796.3,579.9 L797.3,582.2 L798.3,584.5 L799.5,586.7 L800.8,588.9 L802.2,591 L803.8,593 L805.5,595 L807.3,596.8 L809.2,598.6 L811.2,600.3 L813.2,601.9 L815.2,603.4 L817.1,604.8 L819.2,606.1 L821.3,607.3 L823.5,608.4 L825.6,609.4 L827.7,610.3 L829.6,611.2 L831.5,612 L833.2,612.9 L834.7,613.7 L836.2,614.6 L837.6,615.4 L839,616.2 L840.2,617 L841.4,617.7 L842.6,618.4 L843.7,619.2 L844.8,619.9 L845.8,620.6 L846.8,621.3 L847.7,622.1 L848.6,622.7 L849.4,623.3 L850,623.8 L850.6,624.1 L850.9,623.8 L850.5,623.3 L849.9,622.7 L849.2,622 L848.5,621.2 L847.6,620.4 L846.7,619.5 L845.7,618.6 L844.7,617.8 L843.7,616.9 L842.6,616.1 L841.5,615.2 L840.3,614.3 L839,613.3 L837.6,612.4 L836.2,611.4 L834.7,610.3 L833,609.3 L831.1,608.2 L829.2,607.2 L827.2,606.1 L825.3,605 L823.4,603.8 L821.5,602.6 L819.8,601.2 L818.1,599.8 L816.3,598.2 L814.6,596.5 L812.9,594.8 L811.3,593 L809.8,591.2 L808.5,589.4 L807.3,587.6 L806.3,585.7 L805.3,583.8 L804.4,581.8 L803.7,579.7 L803,577.6 L802.4,575.5 L802,573.4 L801.6,571.4 L801.3,569.4 L801.1,567.3 L801,565.3 L801,563.3 L801.1,561.4 L801.3,559.5 L801.6,557.8 L802,556.1 L802.6,554.5 L803.3,552.8 L804,551.2 L804.9,549.7 L805.9,548.3 L807,547 L808.1,545.9 L809.2,545 L810.5,544.2 L812,543.4 L813.6,542.7 L815.4,542.1 L817.3,541.7 L819.4,541.3 L821.6,541 L823.7,540.9 L826,541 L828.5,541.3 L831.2,541.8 L834.2,542.5 L837.4,543.2 L840.6,543.8 L844,544.4 L847.4,544.7 L850.6,544.8 L853.8,544.9 L857,544.9 L860.2,544.7 L863.4,544.5 L866.6,544.2 L869.8,543.8 L872.9,543.2 L875.9,542.5 L878.9,541.6 L881.9,540.6 L884.8,539.5 L887.6,538.3 L890.3,537 L892.9,535.6 L895.4,534.1 L897.8,532.5 L900.1,530.8 L902.3,529 L904.4,527.1 L906.4,525.1 L908.2,523 L909.8,520.9 L911.3,518.6 L912.6,516.3 L913.6,513.9 L914.5,511.4 L915.1,509 L915.5,506.5 L915.8,504.2 L915.9,501.9 L915.9,499.6 L915.7,497.4 L915.3,495.1 L914.7,492.9 L913.9,490.8 L912.9,488.7 L911.7,486.7 L910.4,484.8 L908.7,483.1 L906.7,481.5 L904.6,480.3 L902.5,479.4 L900.3,478.7 L898.1,478.1 L896,477.8 L893.8,477.6 L891.7,477.6 L889.4,477.9 L887.3,478.4 L885.3,479.1 L883.4,480 L881.6,481 L880,482 L878.5,483.1 L876.9,484.4 L875.2,486.1 L873.8,487.9 L872.8,489.6 L872,491 L871.3,492.2 L870.6,493.2 L870,494 L869.2,494.8 L868,495.9 L866.6,497.3 L865.2,498.6 L863.7,499.8 L862.2,501 L860.7,502 L859.2,502.9 L857.7,503.7 L855.9,504.4 L853.8,505.1 L851.7,505.8 L849.5,506.4 L847.3,506.8 L845,507.1 L842.8,507.3 L840.6,507.4 L838.3,507.3 L835.8,507 L833.2,506.7 L830.5,506.2 L827.8,505.5 L825.2,504.8 L822.5,504 L819.9,503 L817.3,502 L814.7,500.9 L812.2,499.7 L809.7,498.4 L807.3,497 L805,495.5 L802.9,494 L800.9,492.3 L798.9,490.5 L796.9,488.5 L794.9,486.4 L793.1,484.2 L791.4,482 L790,479.8 L788.8,477.7 L787.8,475.5 L787,473.2 L786.3,470.6 L785.8,467.9 L785.4,465 L785.2,462 L785.1,459 L785.2,456 L785.4,453 L785.7,450 L786.2,446.9 L786.8,443.6 L787.6,440.4 L788.6,437.2 L789.7,434.2 L790.9,431.5 L792.2,429 L793.6,426.7 L795.3,424.4 L797.2,422.1 L799.2,420 L801.4,417.9 L803.7,416 L806.1,414.2 L808.5,412.6 L810.8,411.1 L813.3,409.8 L816,408.6 L818.9,407.5 L821.8,406.5 L824.7,405.6 L827.6,404.9 L830.5,404.3 L833.2,403.9 L836,403.6 L839,403.5 L841.9,403.5 L844.9,403.6 L847.8,403.8 L850.6,404 L853.2,404.4 L855.6,404.7 L858,405.1 L860.1,405.5 L862.1,406 L863.9,406.6 L865.5,407.2 L866.8,407.8 L867.9,408.5 L868.8,409.1 L869.7,409.9 L870.6,410.8 L871.4,411.9 L872.2,413.1 L873,414.4 L873.7,415.7 L874.3,417.1 L874.8,418.5 L875.2,420 L875.5,421.6 L875.8,423.2 L875.9,424.9 L876,426.6 L875.9,428.1 L875.7,429.7 L875.4,431.3 L874.9,433.1 L874.4,434.9 L873.7,436.5 L873,438 L872.3,439.3 L871.6,440.2 L871,440.9 L870.4,441.2 L869.5,441.6 L868.1,441.9 L866.1,442.1 L863.7,442.3 L861,442.6 L857.9,443 L854.9,443.6 L851.9,444.3 L848.7,444.9 L845.3,445.6 L841.7,446.4 L838,447.3 L834.4,448.4 L830.8,449.7 L827.4,451.3 L824.3,453.1 L821.5,455.1 L818.7,457.2 L816.2,459.5 L813.9,461.9 L811.8,464.4 L810,467.1 L808.4,469.8 L807.2,472.7 L806.4,475.7 L806,478.7 L805.9,481.6 L806.1,484.5 L806.6,487.3 L807.3,489.9 L808.3,492.5 L809.6,494.9 L811.2,497.2 L813,499.3 L815.1,501.3 L817.3,503.1 L819.8,504.7 L822.4,506 L825.2,507.1 L828.1,507.8 L831.1,508.1 L834.2,508.3 L837.3,508.2 L840.4,507.9 L843.5,507.4 L846.4,506.8 L849.4,506 L852.5,504.9 L855.7,503.4 L858.7,501.8 L861.5,500.1 L864.1,498.5 L866.4,497 L868.2,495.8 L869.6,495Z" fill="#8a5222" fill-rule="nonzero"/>
<circle cx="866.5" cy="489.8" r="6" fill="#8a5222"/>
<path d="M864.1,485.7 L862.5,486.6 L860.6,487.8 L858.3,489.2 L855.8,490.7 L853.3,492.2 L850.7,493.5 L848.4,494.6 L846.2,495.4 L844,495.9 L841.6,496.3 L839.1,496.6 L836.7,496.8 L834.3,496.9 L832.1,496.7 L830.2,496.4 L828.6,496 L827.1,495.5 L825.6,494.7 L824.1,493.7 L822.7,492.6 L821.5,491.4 L820.4,490.2 L819.5,488.9 L818.9,487.6 L818.3,486.3 L817.9,484.8 L817.6,483.1 L817.5,481.4 L817.6,479.6 L817.8,478 L818.2,476.4 L818.8,474.9 L819.7,473.4 L821,471.7 L822.5,469.9 L824.3,468.1 L826.3,466.3 L828.5,464.7 L830.7,463.2 L832.9,462 L835.3,460.9 L838.1,459.9 L841.1,459.1 L844.4,458.3 L847.7,457.6 L851.1,457 L854.4,456.3 L857.3,455.7 L859.8,455.3 L862.2,455.1 L864.6,454.9 L867.2,454.8 L869.9,454.6 L872.6,454.1 L875.5,453.2 L878.3,451.7 L880.8,449.8 L882.9,447.7 L884.6,445.3 L886.1,442.8 L887.4,440.3 L888.4,437.8 L889.3,435.4 L890,432.9 L890.6,430.4 L891,427.7 L891.2,425.1 L891.2,422.4 L891.1,419.8 L890.8,417.1 L890.3,414.5 L889.7,412.1 L888.9,409.7 L887.9,407.3 L886.8,405 L885.4,402.7 L883.9,400.4 L882.1,398.2 L880.1,396.2 L877.8,394.3 L875.3,392.7 L872.7,391.4 L870,390.2 L867.2,389.3 L864.4,388.5 L861.5,387.8 L858.5,387.2 L855.6,386.8 L852.5,386.4 L849.2,386.1 L845.7,385.8 L842.2,385.7 L838.5,385.7 L834.8,385.9 L831.1,386.3 L827.4,386.8 L823.8,387.5 L820.2,388.4 L816.5,389.4 L812.9,390.5 L809.2,391.9 L805.6,393.4 L802.1,395.2 L798.7,397.2 L795.5,399.3 L792.4,401.6 L789.3,404.2 L786.4,406.9 L783.6,409.8 L780.9,412.8 L778.4,416.1 L776.2,419.6 L774.2,423.2 L772.4,427 L770.9,431 L769.5,435 L768.4,439.1 L767.4,443.2 L766.7,447.3 L766.2,451.3 L766,455.2 L765.9,459.2 L766.1,463.2 L766.5,467.3 L767.1,471.2 L767.9,475.1 L769,479 L770.4,482.7 L772.1,486.3 L774.1,489.7 L776.4,493 L778.8,496 L781.3,498.8 L783.9,501.5 L786.6,504 L789.3,506.3 L792.2,508.5 L795.2,510.6 L798.3,512.4 L801.5,514.1 L804.7,515.6 L807.9,517 L811.1,518.2 L814.2,519.4 L817.5,520.4 L820.8,521.2 L824.1,522 L827.5,522.6 L830.9,523.1 L834.3,523.5 L837.6,523.6 L840.9,523.6 L844.2,523.4 L847.4,522.9 L850.5,522.3 L853.5,521.5 L856.4,520.6 L859.2,519.6 L861.8,518.5 L864.3,517.3 L866.8,515.9 L869.2,514.3 L871.4,512.6 L873.4,510.9 L875.2,509.2 L876.8,507.5 L878.3,505.9 L879.8,504.3 L881.2,502.5 L882.5,500.7 L883.4,498.9 L884.1,497.4 L884.7,496.2 L885.2,495.2 L885.6,494.6 L886,494.1 L886.7,493.4 L887.6,492.7 L888.6,492 L889.5,491.5 L890.4,491 L891.2,490.6 L892,490.4 L892.7,490.3 L893.6,490.2 L894.7,490.2 L895.9,490.4 L897.2,490.6 L898.3,490.9 L899.3,491.3 L900.1,491.7 L900.7,492.1 L901.2,492.6 L901.8,493.4 L902.4,494.3 L902.9,495.4 L903.4,496.6 L903.8,497.9 L904,499.2 L904.2,500.4 L904.3,501.8 L904.3,503.4 L904.1,505 L903.9,506.7 L903.5,508.4 L903,510 L902.4,511.6 L901.7,513 L900.8,514.6 L899.6,516.2 L898.3,517.8 L896.8,519.4 L895.2,521 L893.4,522.5 L891.6,524 L889.7,525.3 L887.7,526.6 L885.5,527.8 L883.2,529 L880.8,530.1 L878.4,531.1 L875.8,532 L873.3,532.9 L870.7,533.6 L868.1,534.1 L865.3,534.6 L862.5,534.9 L859.6,535.2 L856.7,535.4 L853.7,535.5 L850.7,535.5 L847.9,535.4 L845,535.2 L842.1,534.9 L839.1,534.3 L836,533.7 L832.8,533.1 L829.7,532.6 L826.6,532.3 L823.5,532.3 L820.7,532.5 L818.1,532.8 L815.5,533.3 L813,534 L810.6,534.8 L808.4,535.8 L806.3,536.9 L804.3,538.3 L802.4,539.9 L800.8,541.6 L799.3,543.5 L798,545.5 L796.9,547.6 L796,549.8 L795.2,551.9 L794.6,554.1 L794.1,556.3 L793.8,558.7 L793.7,561 L793.7,563.4 L793.8,565.8 L794.1,568.1 L794.5,570.4 L794.9,572.7 L795.5,575 L796.2,577.3 L797,579.6 L797.9,581.9 L798.9,584.2 L800.1,586.4 L801.3,588.6 L802.7,590.7 L804.2,592.7 L805.9,594.6 L807.7,596.4 L809.6,598.2 L811.5,599.9 L813.5,601.5 L815.5,603 L817.4,604.5 L819.4,605.8 L821.5,607 L823.6,608.1 L825.7,609.1 L827.8,610 L829.8,610.9 L831.6,611.7 L833.3,612.6 L834.9,613.5 L836.4,614.4 L837.8,615.2 L839.1,616 L840.4,616.8 L841.6,617.5 L842.7,618.3 L843.8,619 L844.9,619.7 L845.9,620.5 L846.9,621.2 L847.8,622 L848.7,622.6 L849.4,623.2 L850.1,623.7 L850.6,624.1 L850.9,623.8 L850.4,623.3 L849.9,622.8 L849.2,622.1 L848.4,621.3 L847.5,620.5 L846.6,619.6 L845.6,618.8 L844.6,617.9 L843.6,617.1 L842.5,616.2 L841.3,615.4 L840.1,614.5 L838.9,613.5 L837.5,612.6 L836.1,611.6 L834.5,610.6 L832.8,609.6 L831,608.5 L829,607.5 L827.1,606.4 L825.1,605.3 L823.2,604.2 L821.3,602.9 L819.5,601.6 L817.8,600.1 L816,598.5 L814.3,596.9 L812.6,595.2 L810.9,593.4 L809.4,591.6 L808,589.8 L806.8,587.9 L805.7,586 L804.7,584.1 L803.8,582 L803,579.9 L802.3,577.8 L801.7,575.7 L801.2,573.6 L800.8,571.5 L800.5,569.5 L800.3,567.4 L800.2,565.4 L800.1,563.3 L800.2,561.3 L800.4,559.4 L800.8,557.6 L801.2,555.9 L801.8,554.2 L802.5,552.5 L803.3,550.8 L804.2,549.2 L805.2,547.7 L806.3,546.4 L807.4,545.2 L808.7,544.2 L810.1,543.4 L811.6,542.5 L813.3,541.8 L815.2,541.2 L817.1,540.7 L819.2,540.4 L821.5,540.1 L823.7,540 L826,540 L828.6,540.4 L831.4,540.9 L834.4,541.5 L837.6,542.2 L840.8,542.8 L844.1,543.4 L847.4,543.7 L850.6,543.8 L853.8,543.8 L856.9,543.8 L860.1,543.7 L863.3,543.5 L866.5,543.1 L869.6,542.7 L872.6,542.1 L875.6,541.4 L878.6,540.5 L881.5,539.6 L884.3,538.5 L887.1,537.3 L889.8,536 L892.4,534.6 L894.8,533.2 L897.1,531.6 L899.4,529.9 L901.5,528.1 L903.6,526.2 L905.5,524.3 L907.2,522.2 L908.8,520.2 L910.2,518 L911.5,515.8 L912.5,513.4 L913.2,511.1 L913.8,508.7 L914.3,506.4 L914.5,504.1 L914.6,501.9 L914.6,499.7 L914.4,497.6 L914,495.4 L913.4,493.3 L912.7,491.3 L911.7,489.3 L910.6,487.4 L909.3,485.7 L907.8,484.1 L906,482.7 L904,481.5 L902,480.7 L900,480 L897.9,479.5 L895.8,479.2 L893.8,479 L891.8,479 L889.7,479.3 L887.7,479.8 L885.9,480.5 L884.1,481.3 L882.4,482.2 L880.8,483.2 L879.4,484.3 L877.9,485.5 L876.4,487.1 L875.1,488.7 L874.1,490.3 L873.3,491.7 L872.6,493 L872,494 L871.3,494.9 L870.4,495.8 L869.2,497 L867.8,498.4 L866.3,499.8 L864.8,501.1 L863.3,502.3 L861.7,503.4 L860.1,504.4 L858.4,505.2 L856.5,506 L854.4,506.7 L852.2,507.4 L849.9,508 L847.6,508.5 L845.3,508.9 L842.9,509.1 L840.6,509.2 L838.2,509.1 L835.6,508.9 L833,508.5 L830.2,508 L827.4,507.4 L824.7,506.6 L821.9,505.8 L819.3,504.8 L816.6,503.8 L814,502.7 L811.3,501.4 L808.8,500.1 L806.3,498.7 L803.9,497.2 L801.7,495.6 L799.6,493.9 L797.5,492 L795.4,489.9 L793.4,487.8 L791.5,485.5 L789.8,483.2 L788.2,480.9 L786.9,478.6 L785.9,476.3 L785,473.8 L784.3,471.1 L783.7,468.3 L783.3,465.3 L783.1,462.2 L783,459 L783,455.9 L783.3,452.8 L783.6,449.7 L784.1,446.4 L784.8,443.1 L785.6,439.8 L786.6,436.5 L787.8,433.4 L789,430.5 L790.4,427.9 L792,425.5 L793.7,423.1 L795.7,420.8 L797.8,418.5 L800.1,416.4 L802.5,414.4 L804.9,412.5 L807.4,410.9 L809.9,409.4 L812.5,408 L815.3,406.7 L818.2,405.6 L821.2,404.6 L824.2,403.7 L827.2,403 L830.1,402.4 L833,401.9 L835.9,401.7 L838.9,401.5 L841.9,401.5 L845,401.6 L847.9,401.8 L850.8,402.1 L853.4,402.4 L856,402.8 L858.4,403.2 L860.6,403.6 L862.7,404.2 L864.6,404.8 L866.3,405.4 L867.7,406.2 L869,406.9 L870.1,407.7 L871.1,408.6 L872.1,409.6 L873,410.8 L873.9,412.2 L874.6,413.6 L875.4,415.1 L876,416.6 L876.5,418.1 L876.9,419.7 L877.3,421.4 L877.5,423.2 L877.6,424.9 L877.6,426.7 L877.5,428.4 L877.3,430 L876.9,431.8 L876.4,433.6 L875.8,435.5 L875.1,437.2 L874.3,438.8 L873.5,440.2 L872.6,441.3 L871.8,442.1 L871,442.6 L869.9,442.9 L868.3,443.3 L866.3,443.5 L863.8,443.7 L861.1,444 L858.2,444.4 L855.1,445 L852.2,445.6 L849,446.3 L845.6,447 L842,447.7 L838.4,448.6 L834.8,449.7 L831.3,450.9 L828,452.4 L825.1,454.2 L822.2,456.1 L819.6,458.2 L817.1,460.5 L814.8,462.8 L812.8,465.3 L811,467.8 L809.6,470.4 L808.4,473.1 L807.7,475.9 L807.3,478.8 L807.2,481.6 L807.4,484.3 L807.9,487 L808.6,489.5 L809.5,491.9 L810.7,494.2 L812.2,496.4 L814,498.5 L815.9,500.4 L818.1,502.1 L820.4,503.6 L822.9,504.9 L825.5,505.9 L828.3,506.5 L831.3,506.9 L834.2,507 L837.2,506.9 L840.3,506.6 L843.3,506.2 L846.2,505.6 L849.1,504.8 L852.1,503.7 L855.1,502.3 L858.1,500.7 L860.9,499.1 L863.5,497.4 L865.8,495.9 L867.6,494.8 L869,493.9Z" fill="#cc9245" fill-rule="nonzero"/>
<circle cx="866.5" cy="489.8" r="4.8" fill="#cc9245"/>
<path d="M865.4,487.9 L863.9,488.8 L862,490 L859.7,491.4 L857.2,493 L854.6,494.5 L851.9,495.9 L849.4,497.1 L847,497.9 L844.6,498.5 L842.1,499 L839.4,499.3 L836.8,499.5 L834.3,499.6 L831.9,499.5 L829.7,499.1 L827.8,498.7 L826,498 L824.2,497.1 L822.5,496 L820.9,494.7 L819.5,493.3 L818.2,491.8 L817.2,490.3 L816.4,488.8 L815.7,487.2 L815.2,485.4 L814.9,483.4 L814.7,481.4 L814.8,479.4 L815.1,477.4 L815.6,475.5 L816.3,473.7 L817.4,471.9 L818.8,469.9 L820.5,468 L822.4,466 L824.5,464.2 L826.8,462.4 L829.2,460.8 L831.6,459.4 L834.2,458.2 L837.2,457.2 L840.4,456.3 L843.7,455.5 L847.2,454.7 L850.5,454.1 L853.8,453.5 L856.7,452.8 L859.4,452.4 L861.9,452.1 L864.4,451.9 L866.9,451.8 L869.4,451.5 L871.9,451.1 L874.3,450.4 L876.6,449.1 L878.6,447.5 L880.4,445.7 L881.9,443.6 L883.2,441.3 L884.3,439 L885.2,436.7 L886,434.4 L886.6,432.1 L887.1,429.8 L887.4,427.5 L887.5,425 L887.5,422.6 L887.4,420.2 L887,417.8 L886.6,415.5 L886,413.3 L885.2,411.1 L884.3,409 L883.3,406.9 L882.1,404.9 L880.7,402.9 L879.1,401 L877.4,399.3 L875.4,397.7 L873.3,396.3 L871,395.1 L868.5,394.1 L866,393.3 L863.4,392.5 L860.6,391.9 L857.8,391.4 L855,391 L852,390.6 L848.8,390.3 L845.5,390.1 L842.1,390 L838.6,390 L835.1,390.1 L831.6,390.5 L828.1,391 L824.7,391.7 L821.3,392.5 L817.8,393.5 L814.3,394.6 L810.8,395.9 L807.5,397.4 L804.2,399 L801,400.9 L798,402.9 L795.1,405.1 L792.2,407.5 L789.5,410 L786.8,412.7 L784.4,415.6 L782.1,418.6 L780,421.8 L778.2,425.2 L776.5,428.8 L775.1,432.5 L773.8,436.3 L772.8,440.2 L771.9,444.1 L771.2,447.9 L770.8,451.7 L770.5,455.4 L770.5,459.2 L770.6,463 L771,466.7 L771.6,470.4 L772.3,474.1 L773.3,477.6 L774.6,481 L776.1,484.2 L777.9,487.4 L780,490.3 L782.2,493.2 L784.5,495.9 L787,498.4 L789.5,500.8 L792.1,503 L794.7,505 L797.5,507 L800.5,508.7 L803.4,510.3 L806.5,511.8 L809.5,513.2 L812.6,514.4 L815.6,515.5 L818.7,516.4 L821.8,517.3 L825,518.1 L828.3,518.7 L831.5,519.2 L834.7,519.5 L837.8,519.7 L840.8,519.7 L843.8,519.5 L846.8,519.1 L849.7,518.6 L852.5,517.9 L855.3,517.1 L857.9,516.1 L860.4,515.1 L862.7,514 L865,512.8 L867.2,511.4 L869.2,509.8 L871.1,508.3 L872.8,506.6 L874.4,505.1 L875.9,503.5 L877.3,502.1 L878.5,500.5 L879.6,498.9 L880.5,497.3 L881.2,495.9 L881.9,494.6 L882.5,493.5 L883.1,492.6 L883.8,491.8 L884.8,491 L885.8,490.1 L886.9,489.4 L888,488.7 L889.2,488.2 L890.3,487.7 L891.4,487.4 L892.5,487.2 L893.7,487.2 L895,487.3 L896.5,487.4 L897.9,487.7 L899.3,488.2 L900.6,488.7 L901.7,489.3 L902.6,489.9 L903.4,490.7 L904.2,491.8 L904.9,493 L905.5,494.3 L906.1,495.7 L906.5,497.2 L906.8,498.7 L907,500.3 L907.1,501.9 L907,503.6 L906.9,505.4 L906.6,507.2 L906.1,509.1 L905.6,510.9 L904.9,512.7 L904,514.4 L902.9,516.1 L901.7,517.8 L900.2,519.5 L898.6,521.2 L896.9,522.9 L895,524.5 L893.1,526 L891.1,527.4 L888.9,528.8 L886.7,530 L884.3,531.2 L881.8,532.4 L879.2,533.4 L876.6,534.3 L873.9,535.2 L871.2,535.9 L868.5,536.4 L865.6,536.9 L862.7,537.2 L859.7,537.5 L856.7,537.6 L853.7,537.7 L850.7,537.7 L847.7,537.6 L844.8,537.4 L841.8,537 L838.7,536.4 L835.6,535.8 L832.5,535.2 L829.4,534.7 L826.4,534.4 L823.6,534.3 L820.9,534.5 L818.4,534.9 L815.9,535.3 L813.6,535.9 L811.4,536.7 L809.2,537.6 L807.3,538.7 L805.4,539.9 L803.8,541.3 L802.2,542.9 L800.9,544.7 L799.7,546.5 L798.6,548.5 L797.7,550.5 L797,552.5 L796.4,554.6 L795.9,556.7 L795.6,558.9 L795.4,561.1 L795.4,563.4 L795.5,565.7 L795.8,567.9 L796.1,570.2 L796.5,572.4 L797,574.6 L797.7,576.9 L798.4,579.1 L799.3,581.4 L800.2,583.6 L801.3,585.8 L802.5,587.9 L803.8,589.9 L805.3,591.9 L806.9,593.8 L808.6,595.6 L810.4,597.4 L812.3,599.1 L814.2,600.7 L816.1,602.3 L818,603.7 L819.9,605 L822,606.2 L824,607.3 L826.1,608.4 L828.1,609.3 L830.1,610.2 L831.9,611.2 L833.6,612.1 L835.2,613 L836.7,613.9 L838.1,614.7 L839.4,615.6 L840.6,616.4 L841.8,617.2 L842.9,618 L844,618.7 L845.1,619.5 L846.1,620.3 L847.1,621 L848,621.8 L848.8,622.5 L849.5,623.1 L850.2,623.6 L850.7,624 L850.8,623.8 L850.4,623.4 L849.8,622.8 L849.1,622.1 L848.4,621.4 L847.5,620.5 L846.6,619.7 L845.6,618.8 L844.6,618 L843.5,617.2 L842.4,616.3 L841.3,615.5 L840.1,614.6 L838.8,613.7 L837.4,612.7 L836,611.8 L834.4,610.8 L832.7,609.7 L830.9,608.7 L828.9,607.7 L827,606.6 L825,605.5 L823,604.4 L821.1,603.2 L819.4,601.8 L817.6,600.4 L815.8,598.8 L814,597.1 L812.3,595.4 L810.7,593.6 L809.1,591.8 L807.7,590 L806.5,588.1 L805.4,586.2 L804.3,584.3 L803.4,582.2 L802.6,580.1 L801.9,578 L801.3,575.8 L800.8,573.7 L800.4,571.6 L800,569.6 L799.8,567.5 L799.7,565.4 L799.6,563.3 L799.7,561.3 L799.9,559.3 L800.2,557.5 L800.7,555.7 L801.2,554 L801.9,552.2 L802.7,550.5 L803.7,548.9 L804.7,547.4 L805.8,546 L807,544.8 L808.3,543.8 L809.7,542.8 L811.3,542 L813.1,541.3 L815,540.6 L817,540.1 L819.1,539.7 L821.4,539.5 L823.7,539.3 L826.1,539.4 L828.7,539.7 L831.5,540.2 L834.5,540.9 L837.7,541.6 L840.9,542.2 L844.2,542.7 L847.5,543 L850.6,543.1 L853.8,543.1 L856.9,543.1 L860.1,543 L863.2,542.8 L866.4,542.5 L869.5,542 L872.5,541.4 L875.4,540.7 L878.4,539.8 L881.2,538.9 L884.1,537.8 L886.8,536.6 L889.4,535.3 L892,534 L894.4,532.5 L896.7,531 L898.9,529.3 L901,527.5 L903,525.7 L904.9,523.7 L906.6,521.7 L908.2,519.7 L909.5,517.6 L910.7,515.4 L911.7,513.1 L912.5,510.8 L913,508.5 L913.4,506.3 L913.7,504 L913.8,501.9 L913.8,499.8 L913.5,497.7 L913.2,495.6 L912.6,493.6 L911.9,491.6 L911,489.7 L909.9,487.9 L908.7,486.3 L907.2,484.7 L905.5,483.4 L903.7,482.3 L901.7,481.5 L899.7,480.8 L897.7,480.4 L895.8,480.1 L893.8,479.9 L891.9,480 L889.9,480.2 L888,480.7 L886.2,481.3 L884.5,482.1 L882.9,483 L881.4,484 L880,485 L878.5,486.2 L877.1,487.7 L875.9,489.3 L875,490.8 L874.2,492.2 L873.5,493.4 L872.8,494.6 L872.1,495.5 L871.2,496.5 L869.9,497.8 L868.5,499.1 L867,500.5 L865.5,501.9 L863.9,503.1 L862.3,504.3 L860.6,505.3 L858.9,506.2 L856.9,507 L854.8,507.8 L852.5,508.5 L850.2,509.1 L847.8,509.7 L845.4,510 L843,510.3 L840.7,510.4 L838.2,510.3 L835.5,510 L832.8,509.7 L830,509.2 L827.2,508.6 L824.4,507.8 L821.6,507 L818.9,506 L816.2,505 L813.5,503.8 L810.8,502.6 L808.2,501.3 L805.7,499.8 L803.2,498.3 L801,496.6 L798.8,494.9 L796.6,492.9 L794.5,490.9 L792.4,488.7 L790.5,486.4 L788.7,484 L787.1,481.6 L785.7,479.2 L784.6,476.8 L783.7,474.3 L783,471.5 L782.4,468.5 L781.9,465.4 L781.7,462.3 L781.6,459.1 L781.7,455.9 L781.9,452.7 L782.2,449.5 L782.8,446.2 L783.5,442.8 L784.3,439.4 L785.4,436.1 L786.5,432.9 L787.8,430 L789.3,427.2 L790.9,424.7 L792.7,422.3 L794.7,419.9 L796.9,417.6 L799.2,415.4 L801.6,413.4 L804.2,411.5 L806.7,409.7 L809.2,408.2 L811.9,406.8 L814.8,405.5 L817.8,404.4 L820.8,403.4 L823.9,402.5 L826.9,401.7 L829.9,401.1 L832.8,400.7 L835.8,400.4 L838.9,400.2 L842,400.2 L845,400.3 L848,400.5 L850.9,400.8 L853.6,401.1 L856.2,401.5 L858.6,401.9 L860.9,402.4 L863.1,403 L865,403.6 L866.8,404.3 L868.4,405.1 L869.7,405.9 L870.9,406.7 L872,407.7 L873,408.9 L874,410.2 L874.9,411.6 L875.7,413.1 L876.5,414.6 L877.1,416.2 L877.6,417.8 L878.1,419.5 L878.4,421.2 L878.6,423.1 L878.7,424.9 L878.7,426.8 L878.6,428.5 L878.3,430.3 L877.9,432.1 L877.4,434 L876.8,435.9 L876,437.7 L875.2,439.4 L874.2,440.8 L873.3,442 L872.4,442.9 L871.4,443.4 L870.1,443.9 L868.4,444.2 L866.3,444.4 L863.9,444.6 L861.2,444.9 L858.3,445.2 L855.3,445.8 L852.3,446.5 L849.2,447.1 L845.7,447.8 L842.2,448.6 L838.6,449.5 L835,450.5 L831.6,451.7 L828.4,453.2 L825.5,454.9 L822.8,456.8 L820.1,458.9 L817.7,461.1 L815.5,463.4 L813.5,465.8 L811.7,468.2 L810.3,470.7 L809.2,473.4 L808.5,476.1 L808.1,478.9 L808.1,481.6 L808.2,484.2 L808.7,486.8 L809.4,489.3 L810.3,491.6 L811.4,493.8 L812.9,495.9 L814.6,497.9 L816.5,499.7 L818.6,501.4 L820.8,502.9 L823.2,504.1 L825.8,505.1 L828.5,505.7 L831.3,506 L834.2,506.2 L837.2,506.1 L840.2,505.8 L843.1,505.4 L846,504.8 L848.8,504.1 L851.8,503 L854.8,501.6 L857.7,500 L860.5,498.4 L863.1,496.8 L865.3,495.3 L867.2,494.1 L868.6,493.3Z" fill="#e6b460" fill-rule="nonzero"/>
<circle cx="867" cy="490.6" r="3.1" fill="#e6b460"/>
<path d="M866.8,490.2 L865.3,491.1 L863.4,492.3 L861.2,493.7 L858.6,495.3 L855.9,496.9 L853.1,498.4 L850.4,499.6 L847.8,500.6 L845.2,501.2 L842.5,501.7 L839.8,502.1 L837,502.4 L834.3,502.4 L831.7,502.3 L829.2,502 L826.9,501.4 L824.8,500.6 L822.7,499.6 L820.8,498.3 L819,496.9 L817.4,495.3 L815.9,493.6 L814.7,491.8 L813.7,490 L813,488.1 L812.4,486 L812,483.8 L811.8,481.5 L811.9,479.2 L812.2,476.8 L812.8,474.6 L813.7,472.4 L814.9,470.3 L816.5,468.1 L818.3,466 L820.4,463.9 L822.6,461.9 L825.1,460 L827.6,458.3 L830.2,456.7 L833.1,455.4 L836.3,454.3 L839.6,453.3 L843.1,452.5 L846.5,451.8 L849.9,451.1 L853.2,450.4 L856.1,449.8 L858.9,449.3 L861.6,449 L864.2,448.8 L866.7,448.6 L869,448.4 L871.1,448 L873,447.4 L874.8,446.4 L876.3,445.1 L877.7,443.6 L879,441.7 L880.1,439.8 L881,437.7 L881.8,435.5 L882.5,433.4 L883,431.3 L883.4,429.3 L883.7,427.2 L883.7,425 L883.7,422.8 L883.5,420.6 L883.2,418.5 L882.7,416.5 L882.1,414.5 L881.4,412.6 L880.6,410.8 L879.7,408.9 L878.6,407.2 L877.4,405.5 L876,403.9 L874.6,402.5 L872.9,401.2 L871.1,400.1 L869.2,399.1 L867,398.2 L864.7,397.5 L862.3,396.8 L859.8,396.2 L857.1,395.8 L854.4,395.4 L851.5,395 L848.5,394.7 L845.3,394.5 L842.1,394.4 L838.7,394.4 L835.4,394.6 L832.1,394.9 L828.9,395.4 L825.7,396 L822.4,396.8 L819.1,397.7 L815.8,398.8 L812.5,400.1 L809.4,401.4 L806.4,403 L803.5,404.7 L800.7,406.6 L797.9,408.7 L795.2,410.9 L792.7,413.3 L790.2,415.8 L788,418.5 L785.9,421.3 L784,424.2 L782.4,427.2 L780.9,430.6 L779.5,434 L778.4,437.7 L777.4,441.3 L776.6,445 L776,448.6 L775.6,452.1 L775.3,455.6 L775.3,459.1 L775.4,462.7 L775.7,466.2 L776.2,469.6 L776.9,472.9 L777.8,476.1 L778.9,479.2 L780.3,482.1 L781.9,484.9 L783.7,487.6 L785.8,490.2 L787.9,492.7 L790.2,495.1 L792.6,497.4 L795,499.5 L797.4,501.4 L800,503.2 L802.7,504.9 L805.5,506.4 L808.3,507.8 L811.2,509.1 L814.1,510.3 L817,511.4 L819.9,512.3 L822.9,513.2 L826,514 L829,514.6 L832,515.1 L835,515.4 L838,515.6 L840.8,515.7 L843.5,515.5 L846.2,515.2 L848.9,514.7 L851.5,514.1 L854.1,513.4 L856.5,512.5 L858.9,511.6 L861.1,510.6 L863.1,509.6 L865.1,508.3 L866.9,506.9 L868.7,505.5 L870.3,504 L871.8,502.5 L873.3,501 L874.6,499.7 L875.8,498.3 L876.7,497 L877.5,495.6 L878.2,494.3 L878.9,492.9 L879.7,491.7 L880.5,490.5 L881.5,489.4 L882.7,488.4 L883.9,487.5 L885.2,486.6 L886.5,485.9 L887.9,485.2 L889.3,484.7 L890.7,484.3 L892.2,484.1 L893.7,484 L895.3,484.1 L897,484.4 L898.7,484.8 L900.4,485.3 L901.9,485.9 L903.4,486.7 L904.6,487.7 L905.7,488.8 L906.7,490.1 L907.5,491.6 L908.3,493.1 L908.9,494.8 L909.4,496.5 L909.7,498.3 L909.9,500.1 L910,501.9 L909.9,503.8 L909.7,505.8 L909.4,507.8 L908.9,509.8 L908.2,511.9 L907.4,513.9 L906.4,515.8 L905.2,517.6 L903.8,519.5 L902.2,521.4 L900.5,523.2 L898.7,524.9 L896.7,526.6 L894.6,528.2 L892.5,529.6 L890.3,531 L887.9,532.3 L885.4,533.6 L882.8,534.7 L880.1,535.8 L877.3,536.7 L874.6,537.5 L871.8,538.3 L868.9,538.8 L866,539.3 L862.9,539.6 L859.9,539.9 L856.8,540 L853.7,540.1 L850.7,540 L847.6,540 L844.5,539.7 L841.4,539.2 L838.3,538.7 L835.1,538 L832.1,537.4 L829.1,536.9 L826.3,536.6 L823.6,536.5 L821.1,536.7 L818.7,537 L816.4,537.4 L814.2,538 L812.1,538.7 L810.2,539.5 L808.3,540.5 L806.7,541.6 L805.2,542.8 L803.8,544.2 L802.5,545.8 L801.4,547.6 L800.4,549.4 L799.6,551.2 L798.8,553.2 L798.2,555.1 L797.8,557 L797.5,559.1 L797.3,561.2 L797.2,563.3 L797.3,565.5 L797.5,567.7 L797.8,569.9 L798.2,572.1 L798.7,574.2 L799.2,576.4 L799.9,578.6 L800.7,580.8 L801.6,583 L802.6,585.1 L803.7,587.2 L805,589.2 L806.3,591.1 L807.8,592.9 L809.5,594.8 L811.2,596.5 L813,598.3 L814.9,599.9 L816.7,601.4 L818.6,602.9 L820.5,604.2 L822.4,605.4 L824.4,606.6 L826.5,607.6 L828.5,608.6 L830.4,609.6 L832.3,610.5 L834,611.5 L835.5,612.5 L837,613.4 L838.4,614.3 L839.7,615.1 L840.9,616 L842.1,616.8 L843.2,617.6 L844.3,618.4 L845.3,619.2 L846.3,620 L847.2,620.8 L848.1,621.6 L849,622.3 L849.7,623 L850.3,623.5 L850.7,623.9 L850.8,623.9 L850.4,623.4 L849.8,622.8 L849.1,622.2 L848.3,621.4 L847.4,620.6 L846.5,619.8 L845.5,618.9 L844.5,618.1 L843.4,617.3 L842.3,616.5 L841.2,615.6 L840,614.7 L838.7,613.8 L837.3,612.9 L835.9,611.9 L834.3,610.9 L832.6,609.9 L830.8,608.9 L828.8,607.9 L826.8,606.9 L824.8,605.8 L822.9,604.7 L821,603.4 L819.2,602.1 L817.4,600.6 L815.6,599.1 L813.8,597.4 L812,595.7 L810.4,593.9 L808.8,592.1 L807.4,590.3 L806.1,588.4 L804.9,586.5 L803.9,584.5 L803,582.4 L802.1,580.3 L801.4,578.1 L800.8,576 L800.2,573.9 L799.8,571.8 L799.5,569.7 L799.2,567.5 L799.1,565.4 L799,563.3 L799.1,561.3 L799.3,559.3 L799.6,557.4 L800,555.6 L800.6,553.8 L801.3,552 L802.2,550.2 L803.1,548.6 L804.1,547 L805.3,545.6 L806.6,544.3 L807.9,543.2 L809.4,542.2 L811,541.4 L812.8,540.6 L814.8,540 L816.8,539.4 L819,539 L821.3,538.8 L823.7,538.6 L826.1,538.7 L828.8,539 L831.7,539.5 L834.7,540.2 L837.8,540.8 L841,541.4 L844.3,541.9 L847.5,542.2 L850.6,542.3 L853.7,542.4 L856.9,542.3 L860,542.2 L863.2,542 L866.3,541.6 L869.3,541.2 L872.3,540.6 L875.2,539.9 L878.1,539 L880.9,538.1 L883.7,537 L886.4,535.8 L889,534.6 L891.5,533.2 L893.9,531.8 L896.2,530.3 L898.3,528.6 L900.4,526.9 L902.4,525 L904.2,523.1 L905.9,521.2 L907.4,519.2 L908.7,517.1 L909.9,515 L910.8,512.8 L911.5,510.6 L912.1,508.4 L912.5,506.1 L912.7,504 L912.8,501.9 L912.8,499.9 L912.6,497.9 L912.2,495.9 L911.7,493.9 L911,492 L910.1,490.2 L909.1,488.5 L907.9,486.9 L906.6,485.5 L905,484.2 L903.2,483.2 L901.4,482.5 L899.5,481.8 L897.6,481.4 L895.6,481.1 L893.8,481 L891.9,481 L890.1,481.2 L888.3,481.7 L886.6,482.3 L885,483.1 L883.5,483.9 L882,484.9 L880.7,485.9 L879.3,487 L878,488.4 L876.9,489.9 L876,491.3 L875.2,492.7 L874.5,494 L873.8,495.2 L873,496.2 L872.1,497.3 L870.8,498.6 L869.4,500 L867.9,501.4 L866.3,502.8 L864.7,504.1 L863,505.3 L861.3,506.4 L859.4,507.3 L857.4,508.2 L855.2,509 L852.9,509.7 L850.6,510.4 L848.1,510.9 L845.6,511.4 L843.2,511.6 L840.7,511.7 L838.1,511.6 L835.4,511.4 L832.6,511.1 L829.7,510.6 L826.9,509.9 L824,509.2 L821.2,508.3 L818.4,507.4 L815.7,506.3 L812.9,505.2 L810.2,503.9 L807.5,502.6 L804.9,501.1 L802.4,499.5 L800.1,497.9 L797.8,496 L795.6,494.1 L793.4,491.9 L791.3,489.7 L789.3,487.4 L787.4,484.9 L785.8,482.5 L784.3,480 L783.2,477.4 L782.2,474.7 L781.4,471.8 L780.8,468.8 L780.4,465.6 L780.1,462.4 L780,459.1 L780,455.8 L780.3,452.6 L780.6,449.3 L781.2,445.9 L781.9,442.4 L782.8,439 L783.9,435.6 L785.1,432.3 L786.4,429.3 L787.9,426.5 L789.6,423.8 L791.5,421.3 L793.6,418.8 L795.8,416.5 L798.2,414.3 L800.7,412.2 L803.3,410.2 L805.9,408.5 L808.5,406.9 L811.3,405.4 L814.2,404.1 L817.3,403 L820.4,401.9 L823.5,401 L826.6,400.3 L829.7,399.6 L832.7,399.2 L835.7,398.9 L838.8,398.8 L842,398.7 L845.1,398.9 L848.1,399.1 L851.1,399.3 L853.8,399.7 L856.4,400 L858.9,400.5 L861.3,401 L863.5,401.6 L865.5,402.2 L867.4,403 L869.1,403.8 L870.5,404.7 L871.8,405.6 L873,406.8 L874.1,408 L875.2,409.4 L876.1,410.9 L877,412.5 L877.7,414.1 L878.4,415.8 L878.9,417.4 L879.4,419.2 L879.7,421.1 L879.9,423 L880,425 L880,426.9 L879.8,428.7 L879.5,430.5 L879.1,432.4 L878.5,434.4 L877.8,436.3 L877,438.2 L876.1,440 L875.1,441.5 L874,442.8 L873,443.8 L871.8,444.4 L870.4,444.9 L868.6,445.2 L866.4,445.5 L864,445.7 L861.3,445.9 L858.4,446.3 L855.5,446.8 L852.5,447.5 L849.4,448.1 L845.9,448.8 L842.4,449.6 L838.9,450.5 L835.3,451.5 L832,452.7 L828.9,454.1 L826,455.8 L823.3,457.6 L820.8,459.7 L818.4,461.8 L816.2,464.1 L814.2,466.4 L812.6,468.7 L811.2,471.2 L810.1,473.7 L809.5,476.3 L809.1,478.9 L809,481.6 L809.2,484.1 L809.6,486.6 L810.3,489 L811.1,491.2 L812.3,493.3 L813.7,495.3 L815.3,497.2 L817.1,499 L819.1,500.6 L821.3,502 L823.6,503.2 L826.1,504.1 L828.7,504.8 L831.4,505.1 L834.2,505.2 L837.1,505.1 L840.1,504.9 L843,504.4 L845.8,503.9 L848.6,503.2 L851.4,502.1 L854.3,500.8 L857.2,499.2 L860,497.6 L862.6,496 L864.9,494.5 L866.7,493.3 L868.1,492.5Z" fill="#f4d48e" fill-rule="nonzero" opacity="0.85"/>
<circle cx="867.4" cy="491.3" r="1.3" fill="#f4d48e" opacity="0.85"/>
<path d="M868.3,482.1L866.5,489.8L874.1,492M866.4,483.1L864.8,490.8L872.4,492.8M864.6,484.1L863.1,491.9L870.8,493.8M863,485.2L861.4,493L869.1,494.9M861.4,486.3L859.7,494L867.4,496.1M859.8,487.3L858,495.1L865.7,497.3M858.2,488.4L856.3,496.1L863.9,498.5M856.7,489.4L854.6,497.1L862.1,499.7M855.3,490.4L852.8,498L860.3,500.9M853.9,491.3L851,498.9L858.3,502.1M852.5,492.3L849.1,499.6L856.2,503.4M851.1,493.1L847.2,500.2L854.1,504.5M849.4,493.7L845.3,500.7L852,505.2M847.7,494.2L843.3,501.1L849.9,505.9M846,494.7L841.3,501.4L847.8,506.5M844.3,495.1L839.4,501.7L845.6,507M842.6,495.4L837.4,501.8L843.5,507.4M840.9,495.7L835.4,501.9L841.3,507.7M839.4,496.2L833.4,501.9L838.7,508.3M837.8,496.4L831.4,501.8L836.4,508.4M836.1,496.5L829.4,501.5L834,508.5M834.6,496.6L827.4,501L831.5,508.4M833.3,497.2L825.5,500.4L828.4,508.3M831.7,496.9L823.7,499.5L826,507.7M830.2,496.4L822,498.5L823.7,506.8M828.7,496.4L820.4,497.4L821,505.8M827.3,495.6L818.9,496.1L818.9,504.5M825.9,494.7L817.5,494.7L817,503.1M824.5,494.3L816.2,493.1L814.6,501.4M823.3,493.2L815.1,491.5L812.9,499.6M822,492.7L814.1,489.7L810.7,497.4M821.1,491.4L813.4,487.8L809.4,495.2M820.3,490L812.9,485.9L808.4,493M819.3,488.9L812.6,483.9L807.2,490.4M818.8,487.4L812.4,481.9L806.6,488.1M818,486.2L812.4,479.9L805.8,485.2M817.7,484.6L812.6,477.9L805.6,482.7M817.6,483L813,476L805.7,480.2M817.5,481.5L813.6,474.1L805.9,477.6M817,480.3L814.4,472.3L806.2,474.4M817.4,478.8L815.4,470.5L807.1,472.1M818,477.3L816.6,468.9L808.1,469.9M818.8,475.8L817.8,467.3L809.3,467.9M819.8,474.4L819.2,465.9L810.6,466M820.8,473L820.6,464.4L812,464.2M821.9,471.7L822,463.1L813.4,462.4M823,470.4L823.6,461.8L815,460.8M824.2,469.2L825.2,460.6L816.6,459.2M825.5,468L826.8,459.4L818.3,457.7M826.8,466.9L828.5,458.4L820,456.2M828.1,465.8L830.2,457.4L821.8,454.8M829.3,464.8L832,456.5L823.8,453.3M830.6,463.9L833.8,455.7L825.9,452M832.1,463L835.7,455L827.9,450.9M833.6,462.3L837.6,454.4L830,450M835.3,461.6L839.6,453.9L832.1,449.2M837,461.1L841.5,453.4L834.1,448.5M838.8,460.5L843.5,453L836.1,448M840.8,460.1L845.4,452.5L838.1,447.5M842.7,459.7L847.4,452.1L840.1,447M844.6,459.3L849.3,451.8L842.1,446.6M846.5,458.9L851.3,451.4L844,446.2M848.5,458.6L853.3,451L845.9,445.8M850.6,458.2L855.2,450.6L847.8,445.5M852.4,457.8L857.2,450.1L849.8,444.9M853.9,457.2L859.1,449.8L852,444.2M855.6,456.8L861.1,449.6L854.2,443.7M857.4,456.5L863.1,449.4L856.3,443.3M859.3,456.4L865.1,449.3L858.3,443M861.4,456.4L867.1,449.1L860.1,443M863.6,456.5L869.1,448.9L861.8,443M866,456.5L871.1,448.6L863.4,443.1M869.6,456.8L873,448L864.3,444.1M872.6,456.4L874.8,447.1L865.6,444.4M876.5,455.5L876.4,445.9L866.7,445.5M878.8,454.2L877.7,444.5L868,444.9M880.8,452.6L879,442.9L869.1,444.2M883.1,450.7L880,441.2L870.3,443.8M884.6,448.9L880.9,439.4L871.3,442.5M885.9,447L881.7,437.6L872.1,441.2M887.4,444.8L882.4,435.7L873.1,440.1M888.4,442.8L883,433.8L873.7,438.6M889.3,440.8L883.6,431.9L874.3,437M890.6,438.4L884,429.9L875.1,436M891.4,436.2L884.2,427.9L875.6,434.6M892,433.9L884.4,425.9L876,433.1M892.7,431.3L884.4,423.9L876.6,431.9M893,429L884.3,421.9L876.7,430.3M893.2,426.8L884.1,419.9L876.8,428.7M893.6,424L883.8,418L877.2,427.4M893.5,421.7L883.3,416L877.1,425.9M893.5,418.9L882.7,414.1L877.4,424.6M893.1,416.6L882,412.2L877,423M892.7,413.9L881.2,410.4L877.1,421.6M892,411.6L880.3,408.6L876.7,420.1M891.2,409.4L879.3,406.9L876.2,418.7M890.4,406.4L878.2,405.3L876.3,417.4M889.2,404.2L876.9,403.7L875.8,416M887.9,401.1L875.5,402.3L876,414.7M886.3,398.9L873.9,401L875.4,413.5M884.5,396.9L872.3,399.9L874.6,412.3M882.4,394.5L870.5,398.9L874.4,411M880.3,393L868.7,398.1L873.2,410M878.3,391.7L866.9,397.4L871.9,409M876.1,390.6L865,396.7L870.5,408.2M873.8,389.3L863,396.2L869.3,407.3M871.7,388.5L861.1,395.7L867.7,406.7M869.5,387.8L859.1,395.3L866.1,406.1M867.4,387.2L857.2,395L864.4,405.6M865.3,386.7L855.2,394.7L862.6,405.2M863.2,386.2L853.2,394.4L860.8,404.8M861.1,385.8L851.2,394.2L859,404.5M858.9,385.5L849.2,394L857.2,404.1M856.8,385.1L847.2,393.8L855.4,403.8M854.6,384.8L845.2,393.7L853.6,403.5M852.4,384.5L843.2,393.7L851.9,403.3M850.2,384.3L841.2,393.6L850.1,403M847.9,384L839.2,393.6L848.3,402.8M845.6,383.9L837.2,393.7L846.6,402.6M843.3,383.7L835.2,393.8L844.9,402.4M841.3,383.9L833.3,394L842.9,402.5M839,383.8L831.3,394.2L841.2,402.4M836.6,383.8L829.3,394.5L839.5,402.3M834.2,383.9L827.3,394.9L837.9,402.4M832,384.2L825.4,395.3L836.1,402.5M829.8,384.4L823.4,395.7L834.3,402.7M827.6,384.8L821.5,396.2L832.6,403M825.4,385.1L819.6,396.8L830.9,403.2M823.1,385.5L817.6,397.4L829.2,403.5M821.3,386.1L815.7,398L827.3,404.1M819,386.6L813.9,398.7L825.6,404.5M816.8,387.2L812,399.4L824,404.8M814.5,387.8L810.2,400.2L822.3,405.2M812.2,388.5L808.4,401.1L820.7,405.6M809.9,389.2L806.6,402L819.1,406M807.6,390L804.8,402.9L817.6,406.4M805.9,391L803.1,404L815.9,407.4M803.7,392L801.5,405.1L814.4,408M801.7,393.1L799.8,406.2L812.8,408.8M799.6,394.2L798.2,407.4L811.3,409.5M797.6,395.4L796.6,408.7L809.9,410.3M795.6,396.6L795.1,409.9L808.4,411.2M793.6,397.9L793.6,411.3L806.9,412M792.2,399.3L792.2,412.6L805.5,413.4M790.3,400.7L790.8,414.1L804.1,414.3M788.4,402.2L789.4,415.5L802.8,415.3M786.5,403.7L788.1,417L801.5,416.2M784.7,405.3L786.8,418.6L800.2,417.2M782.9,407L785.6,420.2L798.9,418.2M781.1,408.8L784.5,421.8L797.7,419.2M780,410.5L783.4,423.5L796.6,420.9M778.4,412.4L782.5,425.3L795.5,421.9M776.8,414.4L781.5,427.1L794.5,423.1M775.4,416.4L780.7,428.9L793.5,424.3M774.1,418.4L779.9,430.7L792.5,425.6M773.4,420.2L779.2,432.6L791.8,427.5M772.3,422.3L778.5,434.5L791,428.9M771.2,424.4L777.9,436.4L790.2,430.3M770.2,426.5L777.3,438.3L789.5,431.8M769.3,428.6L776.8,440.2L788.8,433.3M768.8,430.5L776.3,442.2L788.3,435.3M768,432.7L775.9,444.1L787.7,436.8M767.3,434.9L775.5,446.1L787.2,438.4M766.6,437.1L775.2,448L786.6,440M765.9,439.4L775,450L786.1,441.6M765.7,441.3L774.7,452L785.9,443.5M765.2,443.6L774.6,454L785.4,445.2M764.7,446L774.5,456L785,446.8M764.4,448.3L774.4,458L784.6,448.5M764.1,450.7L774.5,460L784.3,450.1M763.9,453.1L774.5,462L784,451.8M763.7,455.5L774.7,464L783.8,453.5M763.9,457.5L774.9,466L783.9,455.5M763.9,459.9L775.1,468L783.8,457.2M763.9,462.3L775.5,469.9L783.7,458.8M764,464.8L775.8,471.9L783.6,460.5M764.2,467.3L776.3,473.9L783.5,462.1M764.5,469.8L776.8,475.8L783.5,463.7M764.8,472.4L777.5,477.7L783.4,465.3M765.3,475L778.2,479.5L783.4,466.9M766.1,476.9L779,481.4L784.2,468.7M766.8,479.4L779.9,483.1L784.4,470.3M767.7,481.9L780.9,484.9L784.6,471.8M768.6,484.2L782,486.6L785.1,473.4M769.7,486.5L783.1,488.2L785.6,474.9M770.9,488.6L784.4,489.8L786.3,476.4M772.2,490.7L785.6,491.3L787,478M773.5,492.6L786.9,492.8L787.9,479.5M774.9,494.5L788.3,494.3L788.8,480.9M776.4,496.4L789.7,495.7L789.8,482.4M777.8,497.7L791.1,497.1L791.2,483.8M779.4,499.5L792.6,498.5L792.4,485.2M780.9,501.1L794.1,499.8L793.5,486.6M782.6,502.8L795.7,501.1L794.6,487.9M784.3,504.6L797.3,502.3L795.7,489.2M786.1,506.2L798.9,503.4L796.8,490.5M787.9,507.8L800.6,504.5L798,491.7M789.8,509.2L802.3,505.5L799.3,492.9M791.7,510.6L804,506.5L800.7,494M793.7,511.8L805.8,507.5L802.1,495.1M795.6,513L807.6,508.3L803.6,496.1M797.6,514.1L809.4,509.2L805.1,497.1M799.6,515.2L811.2,510L806.7,498.1M801.6,516.2L813.1,510.7L808.3,499M803.7,517.1L815,511.4L809.9,499.9M805.7,518L816.8,512.1L811.6,500.7M807.8,518.9L818.7,512.8L813.2,501.6M809.8,519.5L820.6,513.4L815.1,502.2M812,520.3L822.6,513.9L816.8,502.9M814.1,521L824.5,514.4L818.5,503.6M816.3,521.7L826.5,514.8L820.2,504.3M818.5,522.3L828.4,515.2L821.9,504.9M820.7,522.9L830.4,515.6L823.6,505.5M822.9,523.4L832.4,515.9L825.4,506M825.2,523.9L834.4,516.1L827.1,506.5M827.5,524.3L836.4,516.3L828.8,507M829.8,524.6L838.3,516.4L830.5,507.4M832.2,524.9L840.3,516.4L832.2,507.8M834.6,525.2L842.3,516.3L833.9,508.2M837.1,525.3L844.3,516.2L835.6,508.4M839.5,525.3L846.3,515.9L837.3,508.6M842.3,525.4L848.3,515.6L838.8,509M844.6,525.1L850.2,515.1L840.6,509M846.9,524.7L852.2,514.6L842.4,508.8M849.2,524.3L854.1,514.1L844.2,508.6M851.4,523.7L856,513.4L846,508.3M853.6,523.1L857.9,512.7L847.8,508M855.8,522.4L859.7,512L849.6,507.5M858.5,521.7L861.5,511.2L851.2,507.5M860.8,520.8L863.3,510.2L852.8,507.2M863.1,519.8L865,509.1L854.4,506.7M865.2,518.7L866.6,508L856,506M867.6,517.4L868.2,506.7L857.5,505.6M869.4,516.1L869.7,505.4L859.1,504.6M871.2,514.6L871.2,504.1L860.6,503.5M872.9,513.1L872.6,502.7L862.1,502.5M874.4,511.6L874,501.2L863.6,501.1M876.3,510.1L875.4,499.8L865.1,500.1M878.9,508.2L876.6,498.2L866.6,500M880.5,506.3L877.7,496.5L867.8,498.8M881.9,504.2L878.6,494.8L869,497.5M882.6,502.4L879.6,493L870,495.6M882.7,500.9L880.6,491.3L871,492.9M882.2,499.5L881.9,489.8L872.3,489.6M882.4,498L883.5,488.5L874,486.9M883.2,496.7L885.1,487.4L875.9,485M884.1,495.4L886.8,486.3L878,483.1M884.9,494.1L888.6,485.5L880.3,481.3M885.6,492.8L890.5,484.9L882.9,479.6M886.5,491.6L892.5,484.6L885.9,478.2M887.8,490.8L894.5,484.6L888.7,477.6M889.2,490.2L896.5,484.9L891.5,477.3M891,490.2L898.5,485.3L893.9,477.5M892.4,489.9L900.4,485.9L896.8,477.7M893.8,489.5L902.2,486.7L899.8,478.2M895.2,489L903.9,487.8L903.1,479M896.6,488.7L905.3,489.2L906.2,480.5M898,489L906.5,490.8L908.7,482.4M899.2,489.7L907.4,492.5L910.7,484.5M900.2,491.1L908.2,494.4L911.9,486.6M901.2,492.2L908.8,496.3L913.3,489M902.2,493.4L909.2,498.3L914.4,491.5M903,494.6L909.4,500.2L915.4,494.1M903.3,496.4L909.4,502.2L915.6,496.4M903.8,497.9L909.3,504.2L915.9,499M903.9,499.7L909.1,506.2L915.9,501.3M904.1,501.3L908.8,508.2L915.9,503.9M904,503.1L908.3,510.1L915.5,506.3M904.2,504.6L907.6,512L915.2,509M903.8,506.3L906.8,513.9L914.6,511.3M903.9,507.8L905.9,515.6L913.8,514M903.2,509.4L904.8,517.3L912.8,516.1M902.4,511L903.6,518.9L911.6,518.1M901.7,512.6L902.4,520.5L910.3,520.2M900.7,514.1L901,521.9L908.9,522M899.5,515.5L899.6,523.4L907.5,523.7M898.3,516.9L898.2,524.7L905.9,525.3M897.1,518.3L896.6,526L904.3,526.9M895.8,519.6L895.1,527.3L902.7,528.4M894.7,520.9L893.4,528.4L900.9,530.1M893.3,522.1L891.8,529.5L899.2,531.5M891.8,523.2L890.1,530.6L897.3,532.7M890.3,524.3L888.3,531.6L895.5,533.9M888.7,525.3L886.6,532.5L893.6,535M887.1,526.3L884.7,533.3L891.7,536.1M885.5,527.2L882.9,534.2L889.7,537.1M883.8,528L881.1,534.9L887.8,538M882.1,528.9L879.2,535.6L885.8,538.8M880.4,529.6L877.3,536.3L883.8,539.7M878.6,530.3L875.4,536.9L881.7,540.4M877,531.1L873.5,537.4L879.5,541.3M875.3,531.7L871.5,537.9L877.4,541.9M873.5,532.3L869.6,538.3L875.3,542.5M871.7,532.8L867.6,538.6L873.2,543M869.8,533.2L865.6,538.9L871.1,543.4M868,533.6L863.6,539.1L868.9,543.8M866.1,533.9L861.6,539.3L866.8,544M864.2,534.2L859.6,539.5L864.7,544.2M862.2,534.4L857.6,539.6L862.6,544.4M860.3,534.5L855.6,539.6L860.5,544.5M858.4,534.7L853.6,539.6L858.3,544.6M856.4,534.8L851.6,539.6L856.2,544.7M854.4,534.8L849.6,539.6L854.2,544.7M852.4,534.8L847.6,539.5L852.1,544.6M850.6,534.9L845.7,539.4L849.9,544.6M848.8,534.9L843.7,539.2L847.7,544.5M846.9,534.8L841.7,538.9L845.5,544.3M845,534.6L839.7,538.5L843.3,544.1M843.1,534.4L837.8,538.1L841.2,543.7M841.1,534L835.8,537.7L839.2,543.3M839.1,533.6L833.8,537.3L837.3,542.8M837.1,533.2L831.9,537L835.4,542.4M835,532.7L829.9,536.6L833.5,541.9M832.9,532.3L827.9,536.3L831.7,541.5M830.6,531.9L825.9,536.2L829.9,541.1M828.3,531.6L823.9,536.1L828.3,540.7M826,531.4L821.9,536.2L826.5,540.5M823.6,531.3L819.9,536.4L824.8,540.3M821.4,531.5L818,536.7L823,540.4M819.2,531.8L816,537.1L821.2,540.6M816.7,532L814.1,537.6L819.5,540.6M814.5,532.6L812.2,538.3L817.7,540.9M812.4,533.3L810.3,539L816,541.4M809.9,534L808.6,539.9L814.4,541.6M807.8,535L806.9,541L812.8,542.3M805.3,536.2L805.3,542.2L811.3,542.6M803.5,537.7L803.9,543.6L809.8,543.6M801.5,539.4L802.6,545.2L808.4,544.4M800,541.1L801.5,546.8L807.2,545.7M798.7,543L800.4,548.5L806.1,547.1M797.4,545L799.6,550.3L805,548.4M796.4,547L798.8,552.2L804.1,550.1M795.4,549.2L798.2,554.1L803.2,551.5M794.6,551.3L797.6,556L802.5,553.3M793.8,553.7L797.3,558L801.7,554.8M793.5,555.9L797,560L801.3,556.6M793.1,558.3L796.9,562L800.8,558.3M793,560.5L796.9,564L800.6,560.2M793.1,562.6L797,566L800.6,562.2M793.1,564.9L797.2,567.9L800.5,564M793.4,567.1L797.5,569.9L800.6,565.9M793.7,569.2L797.8,571.9L800.8,567.9M794.1,571.4L798.3,573.9L800.9,569.8M794.6,573.6L798.8,575.8L801.2,571.7M795.2,575.6L799.3,577.7L801.6,573.7M795.8,577.8L800,579.6L802,575.5M796.5,579.9L800.7,581.5L802.5,577.4M797.3,581.9L801.5,583.3L803.1,579.3M798.2,583.8L802.3,585.1L803.8,581.1M799.2,585.9L803.3,586.9L804.4,582.9M800.3,587.8L804.3,588.6L805.3,584.6M801.5,589.7L805.4,590.2L806.2,586.4M802.8,591.6L806.6,591.8L807.1,588M804.2,593.3L807.9,593.4L808.2,589.6M805.6,594.9L809.3,594.9L809.5,591.2M807.1,596.4L810.7,596.3L810.7,592.8M808.7,597.8L812.1,597.7L812.1,594.3M810.3,599.3L813.6,599L813.4,595.7M811.9,600.7L815.1,600.3L814.9,597.1M813.6,602L816.6,601.6L816.4,598.5M815.3,603.3L818.2,602.8L817.9,599.9M817.1,604.6L819.8,604L819.3,601.2M818.9,605.8L821.5,605.1L820.9,602.4M820.8,606.9L823.2,606.1L822.6,603.5M822.6,607.8L825,607L824.3,604.6M824.5,608.8L826.8,607.9L826.1,605.6M826.5,609.6L828.6,608.8L827.9,606.6M828.3,610.4L830.4,609.7L829.8,607.6M830.2,611.3L832.2,610.6L831.6,608.6M832.1,612.1L833.9,611.6L833.5,609.7M833.9,613.1L835.6,612.6L835.2,610.9M835.7,614.1L837.3,613.7L837,612M837.4,615.1L839,614.8L838.7,613.3M839.2,616.2L840.6,615.9L840.4,614.5M841,617.3L842.3,617.1L842.1,615.8M842.8,618.4L843.9,618.2L843.7,617.1" fill="none" stroke="#54300f" stroke-width="0.85" opacity="0.6"/>
<path d="M869.1,395.4 L868.7,397 L868.2,399.2 L867.6,401.8 L867,404.7 L866.3,407.7 L865.7,410.9 L865.1,414 L864.5,416.9 L864.1,419.6 L863.6,422.4 L863.1,425.2 L862.6,428.1 L862.2,431 L861.9,434 L861.6,437 L861.5,440 L861.6,443.1 L861.8,446.2 L862.2,449.3 L862.6,452.3 L863,455.2 L863.5,458 L863.9,460.7 L864.4,463.3 L864.8,465.8 L865.2,468.1 L865.7,470.3 L866.2,472.5 L866.6,474.5 L867.1,476.5 L867.4,478.4 L867.8,480.5 L868.1,482.8 L868.4,485.4 L868.6,488.1 L868.9,490.8 L869.1,493.4 L869.3,495.7 L869.5,497.7 L869.6,499.2 L882.3,497.5 L882,496.1 L881.7,494.2 L881.3,491.8 L880.9,489.2 L880.4,486.5 L880,483.7 L879.5,481 L878.9,478.5 L878.5,476.2 L877.9,474 L877.4,471.9 L876.8,469.8 L876.3,467.8 L875.8,465.8 L875.3,463.7 L874.8,461.4 L874.4,458.9 L874,456.3 L873.5,453.5 L873.1,450.8 L872.7,448 L872.4,445.3 L872.2,442.6 L872.2,440 L872.2,437.5 L872.4,434.9 L872.6,432.3 L873,429.6 L873.4,426.9 L873.8,424.1 L874.3,421.3 L874.7,418.6 L875.1,415.7 L875.6,412.7 L876.1,409.6 L876.7,406.6 L877.2,403.7 L877.7,401.1 L878.1,398.9 L878.3,397.2Z" fill="#6d5a48" fill-rule="nonzero"/>
<circle cx="873.7" cy="396.3" r="4.7" fill="#6d5a48"/>
<circle cx="875.9" cy="498.4" r="6.4" fill="#6d5a48"/>
<path d="M870.5,395.7 L870.1,397.3 L869.6,399.5 L869.1,402.1 L868.4,405 L867.8,408 L867.2,411.2 L866.6,414.3 L866,417.2 L865.6,419.9 L865.1,422.7 L864.6,425.5 L864.2,428.3 L863.8,431.2 L863.4,434.1 L863.2,437.1 L863.1,440 L863.2,443 L863.4,446.1 L863.7,449.1 L864.1,452 L864.6,454.9 L865,457.8 L865.5,460.4 L865.9,463 L866.3,465.4 L866.8,467.8 L867.3,470 L867.8,472.1 L868.2,474.1 L868.7,476.1 L869.1,478.1 L869.5,480.2 L869.8,482.5 L870.1,485.1 L870.4,487.8 L870.7,490.5 L871,493.1 L871.2,495.5 L871.4,497.5 L871.5,499 L880.4,497.8 L880.2,496.3 L879.8,494.4 L879.5,492.1 L879.1,489.5 L878.7,486.7 L878.2,484 L877.8,481.3 L877.3,478.8 L876.8,476.5 L876.3,474.3 L875.8,472.3 L875.2,470.2 L874.7,468.2 L874.2,466.1 L873.7,464 L873.3,461.7 L872.8,459.2 L872.4,456.5 L871.9,453.8 L871.5,451 L871.1,448.2 L870.8,445.4 L870.6,442.7 L870.6,440 L870.6,437.4 L870.8,434.8 L871.1,432.1 L871.4,429.4 L871.8,426.6 L872.3,423.9 L872.7,421.1 L873.2,418.3 L873.6,415.5 L874.1,412.5 L874.7,409.4 L875.2,406.3 L875.8,403.4 L876.3,400.8 L876.7,398.6 L877,396.9Z" fill="#9a8268" fill-rule="nonzero"/>
<circle cx="873.7" cy="396.3" r="3.3" fill="#9a8268"/>
<circle cx="875.9" cy="498.4" r="4.5" fill="#9a8268"/>
<path d="M873.3,396.2 L872.9,397.9 L872.5,400 L871.9,402.6 L871.3,405.5 L870.7,408.6 L870.1,411.7 L869.6,414.8 L869.1,417.7 L868.6,420.4 L868.2,423.2 L867.7,426 L867.3,428.8 L866.9,431.6 L866.6,434.4 L866.4,437.2 L866.3,440 L866.4,442.9 L866.6,445.8 L866.9,448.7 L867.3,451.6 L867.7,454.4 L868.2,457.2 L868.6,459.9 L869.1,462.4 L869.5,464.8 L870,467.1 L870.5,469.2 L871,471.3 L871.5,473.3 L871.9,475.3 L872.4,477.4 L872.8,479.6 L873.2,482 L873.6,484.6 L873.9,487.4 L874.3,490.1 L874.6,492.7 L874.9,495 L875.1,497 L875.3,498.5 L879.1,498 L878.9,496.5 L878.6,494.6 L878.3,492.2 L877.9,489.6 L877.5,486.9 L877.1,484.1 L876.6,481.5 L876.2,479 L875.7,476.7 L875.2,474.6 L874.7,472.5 L874.2,470.5 L873.6,468.4 L873.1,466.4 L872.7,464.2 L872.2,461.9 L871.8,459.4 L871.3,456.7 L870.9,453.9 L870.5,451.1 L870.1,448.3 L869.8,445.5 L869.6,442.7 L869.5,440 L869.6,437.4 L869.7,434.7 L870,432 L870.4,429.2 L870.8,426.5 L871.2,423.7 L871.7,420.9 L872.1,418.2 L872.6,415.3 L873.1,412.3 L873.7,409.2 L874.2,406.1 L874.8,403.2 L875.3,400.6 L875.7,398.4 L876,396.8Z" fill="#b9a383" fill-rule="nonzero" opacity="0.9"/>
<circle cx="874.6" cy="396.5" r="1.4" fill="#b9a383" opacity="0.9"/>
<circle cx="877.2" cy="498.2" r="1.9" fill="#b9a383" opacity="0.9"/>
<path d="M869.8,393.1L873.7,396.3L878.6,394.8M869.5,394.3L873.5,397.6L878.4,396.1M869.2,395.6L873.2,398.8L878.1,397.4M868.9,396.8L872.9,400.1L877.9,398.7M868.7,398.1L872.7,401.4L877.7,399.9M868.4,399.4L872.4,402.7L877.5,401.2M868.1,400.6L872.2,403.9L877.2,402.5M867.8,401.9L871.9,405.2L877,403.7M867.5,403.2L871.7,406.5L876.7,405M867.2,404.4L871.4,407.8L876.5,406.2M867,405.7L871.2,409L876.3,407.5M866.7,407L870.9,410.3L876.1,408.7M866.4,408.2L870.7,411.6L875.8,410M866.2,409.5L870.4,412.9L875.6,411.3M865.9,410.8L870.2,414.2L875.4,412.5M865.6,412.1L870,415.4L875.2,413.8M865.4,413.4L869.8,416.7L875,415M865.1,414.7L869.6,418L874.8,416.2M864.9,416L869.4,419.3L874.6,417.5M864.7,417.2L869.1,420.6L874.4,418.8M864.5,418.5L868.9,421.8L874.2,420.1M864.3,419.8L868.7,423.1L874,421.4M864.1,421L868.5,424.4L873.8,422.7M863.8,422.3L868.3,425.7L873.6,423.9M863.6,423.7L868.1,427L873.4,425.1M863.4,424.9L867.9,428.3L873.2,426.4M863.1,426.3L867.7,429.6L873,427.6M862.9,427.6L867.5,430.8L872.8,428.8M862.7,428.9L867.4,432.1L872.6,430.1M862.5,430.3L867.2,433.4L872.5,431.3M862.3,431.7L867.1,434.7L872.3,432.5M862.2,433L867,436L872.2,433.8M862,434.4L866.9,437.3L872.1,434.9M861.9,435.9L866.9,438.6L872,436M861.9,437.2L866.9,439.9L872,437.3M861.8,438.6L866.9,441.2L871.9,438.5M861.7,440.1L866.9,442.5L871.8,439.6M861.8,441.4L867,443.8L871.9,440.9M861.8,442.8L867.1,445.1L871.9,442.1M861.9,444.3L867.2,446.4L872,443.2M862,445.7L867.3,447.7L872,444.4M862.1,446.9L867.5,449L872.2,445.7M862.3,448.3L867.6,450.3L872.3,447M862.4,449.7L867.8,451.6L872.4,448.2M862.6,451L868,452.8L872.6,449.5M862.8,452.3L868.2,454.1L872.8,450.7M863,453.6L868.4,455.4L873,452M863.2,454.9L868.6,456.7L873.2,453.2M863.4,456.2L868.9,458L873.4,454.5M863.6,457.5L869.1,459.3L873.6,455.8M863.9,458.8L869.3,460.5L873.8,457.1M864.1,460L869.5,461.8L874.1,458.4M864.3,461.4L869.7,463.1L874.3,459.6M864.5,462.7L870,464.4L874.4,460.8M864.7,464.1L870.2,465.7L874.7,462M864.9,465.4L870.5,466.9L874.9,463.2M865.1,466.7L870.8,468.2L875.2,464.4M865.4,468L871.1,469.5L875.5,465.6M865.7,469.3L871.4,470.7L875.8,466.8M866,470.6L871.7,472L876.1,468M866.3,471.8L872,473.2L876.5,469.3M866.5,473L872.3,474.5L876.8,470.6M866.8,474.2L872.6,475.8L877.2,471.9M867.1,475.4L872.9,477L877.5,473.2M867.4,476.5L873.2,478.3L877.9,474.6M867.6,477.7L873.4,479.6L878.2,475.9M867.8,479L873.6,480.9L878.5,477.2M868,480.2L873.8,482.2L878.8,478.5M868.1,481.4L874,483.4L879,479.8M868.3,482.6L874.2,484.7L879.3,481.1M868.4,483.9L874.4,486L879.5,482.3M868.5,485.1L874.5,487.3L879.8,483.6M868.7,486.4L874.7,488.6L880,484.9M868.8,487.6L874.9,489.9L880.2,486.2M868.9,488.9L875,491.2L880.4,487.4M869,490.1L875.2,492.5L880.6,488.7M869.2,491.4L875.4,493.8L880.8,490M869.3,492.7L875.5,495L881,491.2M869.3,494L875.7,496.3L881.2,492.5M869.4,495.3L875.8,497.6L881.4,493.7" fill="none" stroke="#3a2a1c" stroke-width="0.5" opacity="0.35"/>
<ellipse cx="873.7" cy="396.3" rx="6" ry="9.5" fill="#a9a79c" transform="rotate(12 873.7 396.3)"/>
<ellipse cx="873" cy="393.7" rx="3.5" ry="5" fill="#c3c2ba" transform="rotate(12 873.7 396.3)"/>
<path d="M904.4,915.4 L902.9,914.4 L901,912.9 L898.7,911.1 L896,909.1 L893.2,907.1 L890.4,905.2 L887.6,903.5 L884.9,902.2 L882.4,901.3 L880,900.6 L877.7,900.2 L875.5,900 L873.3,900 L871.1,900.1 L869,900.4 L866.8,900.7 L864.5,901 L862.1,901.5 L859.8,902.1 L857.3,902.9 L854.9,903.7 L852.6,904.7 L850.2,905.8 L847.9,906.9 L845.6,908.2 L843.1,909.5 L840.7,911 L838.2,912.6 L835.8,914.4 L833.5,916.3 L831.3,918.3 L829.4,920.4 L827.6,922.7 L826.1,925.1 L824.8,927.5 L823.7,930 L822.8,932.6 L822,935.3 L821.5,938 L821.2,940.7 L821.2,943.5 L821.3,946.4 L821.7,949.3 L822.3,952.1 L823.1,955 L824.2,957.9 L825.5,960.6 L827.2,963.4 L829.1,965.8 L831.2,968.1 L833.5,970.2 L836,972.1 L838.5,973.8 L841.1,975.4 L843.7,976.8 L846.5,978.1 L849.4,979.2 L852.4,980.2 L855.5,981 L858.7,981.6 L861.8,982.2 L865,982.6 L868.2,982.8 L871.3,983 L874.5,982.9 L877.6,982.6 L880.8,982.2 L883.9,981.7 L887.1,981 L890.1,980.3 L893.2,979.3 L896.1,978.3 L898.9,977 L901.6,975.6 L904.3,974 L906.8,972.3 L909.3,970.5 L911.6,968.6 L913.8,966.5 L915.8,964.3 L917.6,961.9 L919.3,959.4 L920.7,956.9 L921.9,954.3 L923,951.6 L923.9,949 L924.5,946.3 L925,943.6 L925.3,940.8 L925.3,938 L925.1,935.3 L924.7,932.8 L924.2,930.4 L923.6,928.2 L923,926.1 L922.4,924 L921.5,921.7 L920.4,919.6 L919.3,917.7 L918.2,916 L917.2,914.5 L916.4,913.3 L915.8,912.4 L915.4,911.8 L915.1,911.2 L914.9,910.7 L914.7,910.1 L914.7,909.5 L914.7,908.8 L914.9,907.9 L915.2,907 L915.5,906 L915.9,905.1 L916.4,904.3 L917.1,903.4 L917.8,902.5 L918.5,901.7 L919.3,900.9 L920.1,900.1 L920.9,899.3 L921.7,898.7 L922.6,898 L923.5,897.4 L924.5,896.8 L925.5,896.3 L926.5,895.7 L927.4,895.1 L928.2,894.5 L929,893.9 L929.8,893.3 L930.4,892.6 L931.1,892 L931.6,891.4 L932.1,890.9 L932.5,890.5 L932.8,890.1 L932.5,889.7 L932.1,890 L931.6,890.3 L931,890.7 L930.4,891.2 L929.7,891.7 L929,892.2 L928.2,892.7 L927.4,893.2 L926.5,893.6 L925.6,893.9 L924.6,894.3 L923.5,894.7 L922.4,895.1 L921.2,895.6 L920.1,896.2 L919,896.8 L918,897.4 L917,898.1 L915.9,898.8 L914.9,899.6 L913.9,900.5 L913,901.4 L912.1,902.3 L911.3,903.2 L910.5,904 L909.7,904.8 L908.8,905.7 L908,906.7 L907.3,908 L906.7,909.5 L906.2,911.2 L906.1,913.2 L906.3,915.3 L906.8,917.3 L907.4,919.2 L908.1,921 L908.7,922.7 L909.2,924.3 L909.5,925.8 L909.6,927.2 L909.9,928.9 L910.1,930.8 L910.3,932.7 L910.4,934.5 L910.3,936.2 L910.2,937.7 L910,939.1 L909.6,940.4 L909.1,941.7 L908.3,943.2 L907.5,944.7 L906.5,946.2 L905.5,947.6 L904.4,948.9 L903.2,950.1 L902,951.2 L900.8,952.2 L899.4,953.2 L897.8,954.1 L896.1,955 L894.3,955.9 L892.4,956.7 L890.6,957.4 L888.7,957.9 L886.8,958.5 L884.8,958.9 L882.6,959.3 L880.4,959.7 L878.2,959.9 L875.9,960 L873.7,960.1 L871.5,960 L869.3,960 L867,959.9 L864.7,959.7 L862.5,959.4 L860.2,959.1 L858.1,958.6 L856.2,958.1 L854.4,957.5 L852.6,957 L850.8,956.3 L849.1,955.5 L847.5,954.7 L846,953.8 L844.7,953 L843.6,952.1 L842.7,951.3 L841.9,950.5 L841,949.3 L840.2,948.1 L839.5,946.6 L838.8,945.1 L838.3,943.5 L837.9,942 L837.6,940.6 L837.5,939.2 L837.4,937.7 L837.5,936.1 L837.8,934.5 L838.1,932.8 L838.6,931.2 L839.3,929.6 L840,928.1 L840.9,926.6 L842.2,925 L843.7,923.3 L845.4,921.6 L847.2,919.9 L849.2,918.3 L851.1,916.8 L852.9,915.4 L854.8,914.2 L856.7,913.1 L858.6,912 L860.5,911.1 L862.5,910.3 L864.4,909.6 L866.3,909 L868.1,908.5 L870,908.2 L871.8,908.1 L873.4,908 L875,908 L876.6,908.2 L878.2,908.5 L879.9,909 L881.6,909.6 L883.5,910.7 L885.7,912.2 L888.2,914 L890.7,916 L893.2,918 L895.4,919.9 L897.4,921.5 L898.8,922.7Z" fill="#806612" fill-rule="nonzero"/>
<circle cx="901.6" cy="919" r="4.6" fill="#806612"/>
<path d="M904,915.9 L902.5,914.9 L900.6,913.4 L898.3,911.6 L895.7,909.6 L892.9,907.6 L890.1,905.7 L887.3,904 L884.6,902.7 L882.2,901.8 L879.9,901.2 L877.7,900.8 L875.5,900.6 L873.3,900.6 L871.2,900.7 L869.1,900.9 L866.9,901.3 L864.6,901.6 L862.3,902.1 L859.9,902.7 L857.6,903.4 L855.2,904.3 L852.9,905.3 L850.5,906.3 L848.3,907.5 L845.9,908.8 L843.6,910.1 L841.1,911.6 L838.7,913.3 L836.4,915 L834.1,916.9 L832,918.9 L830.1,921 L828.4,923.2 L827,925.5 L825.7,927.9 L824.7,930.3 L823.8,932.9 L823.1,935.5 L822.6,938.1 L822.4,940.7 L822.3,943.4 L822.5,946.2 L822.9,949 L823.5,951.8 L824.3,954.5 L825.4,957.3 L826.7,959.9 L828.2,962.5 L830.1,964.9 L832.2,967.1 L834.4,969.1 L836.8,970.9 L839.2,972.5 L841.8,974.1 L844.3,975.4 L847,976.7 L849.9,977.7 L852.8,978.7 L855.9,979.4 L858.9,980.1 L862,980.6 L865.2,981 L868.3,981.2 L871.3,981.4 L874.4,981.3 L877.5,981 L880.6,980.6 L883.7,980.1 L886.8,979.5 L889.8,978.8 L892.7,977.9 L895.6,976.8 L898.3,975.6 L901,974.2 L903.6,972.7 L906.1,971.1 L908.5,969.4 L910.7,967.5 L912.9,965.5 L914.8,963.4 L916.6,961.1 L918.2,958.7 L919.6,956.2 L920.9,953.7 L921.9,951.2 L922.8,948.6 L923.4,946 L923.9,943.4 L924.2,940.7 L924.3,938 L924,935.4 L923.7,932.9 L923.2,930.6 L922.7,928.3 L922.1,926.3 L921.5,924.2 L920.6,922 L919.6,919.9 L918.5,918 L917.5,916.3 L916.5,914.9 L915.7,913.6 L915.1,912.6 L914.8,911.9 L914.5,911.2 L914.3,910.6 L914.2,910 L914.2,909.3 L914.3,908.6 L914.5,907.7 L914.8,906.8 L915.2,905.8 L915.6,904.9 L916.2,904.1 L916.8,903.2 L917.6,902.3 L918.3,901.5 L919.1,900.7 L919.9,899.9 L920.7,899.1 L921.6,898.5 L922.5,897.9 L923.4,897.3 L924.4,896.7 L925.4,896.1 L926.4,895.6 L927.3,895 L928.2,894.4 L929,893.8 L929.7,893.2 L930.4,892.6 L931,892 L931.6,891.4 L932.1,890.9 L932.5,890.4 L932.8,890.1 L932.5,889.7 L932.1,890 L931.6,890.4 L931.1,890.8 L930.4,891.3 L929.7,891.8 L929,892.3 L928.2,892.8 L927.5,893.3 L926.6,893.7 L925.7,894.1 L924.6,894.5 L923.6,894.9 L922.4,895.3 L921.3,895.8 L920.2,896.3 L919.2,896.9 L918.1,897.6 L917.1,898.3 L916.1,899 L915.1,899.8 L914.2,900.7 L913.2,901.6 L912.4,902.5 L911.6,903.4 L910.8,904.2 L910,905 L909.2,905.9 L908.5,906.9 L907.8,908.2 L907.2,909.6 L906.9,911.2 L906.7,913.1 L907,915.1 L907.5,917 L908.1,918.9 L908.8,920.7 L909.4,922.4 L910,924 L910.3,925.5 L910.5,927 L910.8,928.7 L911,930.6 L911.2,932.5 L911.4,934.4 L911.4,936.1 L911.3,937.8 L911.1,939.2 L910.7,940.6 L910.1,942 L909.4,943.6 L908.6,945.2 L907.6,946.8 L906.6,948.3 L905.4,949.7 L904.2,951 L903,952.1 L901.7,953.2 L900.2,954.2 L898.6,955.3 L896.8,956.3 L895,957.2 L893.1,958 L891.1,958.7 L889.2,959.4 L887.2,959.9 L885.2,960.4 L883,960.9 L880.7,961.2 L878.3,961.5 L876,961.6 L873.7,961.7 L871.5,961.6 L869.2,961.6 L866.9,961.5 L864.5,961.3 L862.2,961 L859.9,960.6 L857.7,960.1 L855.7,959.6 L853.8,959 L852,958.3 L850.1,957.6 L848.3,956.8 L846.7,955.9 L845.1,955 L843.8,954 L842.6,953.1 L841.6,952.2 L840.7,951.2 L839.8,949.9 L839,948.5 L838.3,947 L837.6,945.4 L837.1,943.7 L836.7,942.1 L836.5,940.6 L836.4,939.1 L836.4,937.5 L836.5,935.8 L836.8,934.2 L837.2,932.5 L837.7,930.8 L838.4,929.1 L839.3,927.6 L840.3,926 L841.6,924.4 L843.1,922.7 L844.9,921 L846.8,919.3 L848.7,917.7 L850.7,916.2 L852.6,914.8 L854.5,913.6 L856.4,912.5 L858.3,911.5 L860.3,910.5 L862.3,909.7 L864.2,909 L866.2,908.4 L868,907.9 L869.9,907.7 L871.7,907.5 L873.4,907.4 L875.1,907.5 L876.7,907.6 L878.3,907.9 L880,908.4 L881.8,909.1 L883.8,910.2 L886.1,911.7 L888.6,913.5 L891.1,915.5 L893.6,917.5 L895.8,919.4 L897.7,921 L899.2,922.2Z" fill="#d09c20" fill-rule="nonzero"/>
<circle cx="901.6" cy="919" r="3.9" fill="#d09c20"/>
<path d="M903.7,916.3 L902.2,915.3 L900.3,913.8 L898,912 L895.4,910 L892.6,908 L889.8,906 L887,904.4 L884.5,903.1 L882.1,902.2 L879.8,901.6 L877.6,901.2 L875.4,901 L873.3,901 L871.2,901.1 L869.1,901.4 L867,901.7 L864.7,902 L862.4,902.5 L860.1,903.1 L857.7,903.9 L855.4,904.7 L853.1,905.7 L850.8,906.8 L848.5,908 L846.2,909.2 L843.9,910.6 L841.5,912.1 L839.1,913.7 L836.8,915.5 L834.6,917.3 L832.5,919.3 L830.7,921.4 L829.1,923.6 L827.7,925.8 L826.5,928.2 L825.4,930.6 L824.6,933.1 L824,935.6 L823.5,938.2 L823.3,940.7 L823.3,943.4 L823.4,946 L823.8,948.7 L824.5,951.4 L825.3,954.1 L826.3,956.8 L827.6,959.4 L829.1,961.8 L830.9,964.1 L832.9,966.2 L835.1,968.2 L837.4,969.9 L839.8,971.5 L842.3,973 L844.8,974.3 L847.5,975.5 L850.2,976.6 L853.1,977.5 L856.1,978.2 L859.1,978.9 L862.2,979.4 L865.3,979.7 L868.3,980 L871.4,980.1 L874.4,980 L877.4,979.8 L880.5,979.4 L883.5,978.9 L886.5,978.3 L889.5,977.6 L892.4,976.7 L895.2,975.7 L897.9,974.5 L900.5,973.2 L903,971.7 L905.5,970.2 L907.8,968.5 L910.1,966.6 L912.2,964.7 L914.1,962.7 L915.8,960.4 L917.4,958.1 L918.8,955.7 L920,953.3 L921,950.8 L921.9,948.3 L922.6,945.8 L923.1,943.2 L923.4,940.6 L923.4,937.9 L923.2,935.4 L922.9,933 L922.4,930.7 L921.9,928.5 L921.4,926.4 L920.8,924.4 L920,922.2 L919,920.2 L918,918.3 L916.9,916.6 L916,915.1 L915.2,913.8 L914.6,912.8 L914.3,912 L914,911.2 L913.9,910.6 L913.8,909.9 L913.8,909.2 L914,908.4 L914.2,907.5 L914.6,906.6 L914.9,905.6 L915.4,904.8 L916,903.9 L916.7,903 L917.4,902.2 L918.2,901.3 L919,900.5 L919.8,899.7 L920.6,899 L921.5,898.3 L922.4,897.7 L923.4,897.1 L924.4,896.6 L925.4,896 L926.4,895.5 L927.3,894.9 L928.1,894.3 L928.9,893.8 L929.7,893.1 L930.4,892.5 L931,891.9 L931.6,891.3 L932.1,890.8 L932.5,890.4 L932.8,890.1 L932.6,889.8 L932.2,890.1 L931.8,890.5 L931.2,890.9 L930.6,891.4 L929.9,892 L929.2,892.5 L928.4,893 L927.6,893.5 L926.8,894 L925.8,894.4 L924.8,894.9 L923.8,895.3 L922.7,895.8 L921.6,896.3 L920.5,896.8 L919.5,897.5 L918.6,898.1 L917.6,898.9 L916.6,899.6 L915.7,900.4 L914.8,901.3 L913.9,902.2 L913.2,903.1 L912.5,904 L911.8,904.8 L911.1,905.6 L910.4,906.5 L909.8,907.5 L909.3,908.6 L908.9,909.8 L908.7,911.2 L908.7,912.8 L908.9,914.5 L909.5,916.2 L910.1,917.9 L910.9,919.6 L911.6,921.3 L912.3,923 L912.8,924.7 L913.1,926.3 L913.5,928.1 L913.8,930.1 L914.1,932 L914.3,934 L914.4,935.9 L914.4,937.8 L914.2,939.6 L913.9,941.3 L913.3,943 L912.6,944.8 L911.8,946.6 L910.8,948.4 L909.7,950.2 L908.5,951.8 L907.2,953.4 L905.8,954.8 L904.4,956.1 L902.7,957.4 L900.9,958.6 L899,959.8 L897,960.9 L895,961.9 L892.9,962.8 L890.7,963.5 L888.6,964.2 L886.3,964.8 L883.9,965.3 L881.4,965.7 L878.9,966 L876.4,966.2 L873.9,966.3 L871.4,966.3 L869,966.3 L866.5,966.2 L863.9,965.9 L861.4,965.5 L858.9,965.1 L856.6,964.6 L854.3,963.9 L852.2,963.2 L850.1,962.4 L848.1,961.5 L846.2,960.5 L844.3,959.5 L842.6,958.3 L841,957.1 L839.6,955.9 L838.4,954.6 L837.4,953.3 L836.4,951.7 L835.5,950 L834.8,948.1 L834.1,946.2 L833.6,944.3 L833.3,942.4 L833.1,940.6 L833.1,938.9 L833.2,937 L833.5,935.1 L833.9,933.3 L834.5,931.4 L835.2,929.5 L836.1,927.7 L837.1,926 L838.3,924.3 L839.8,922.6 L841.5,920.8 L843.4,919.1 L845.4,917.5 L847.5,915.9 L849.6,914.4 L851.6,913.1 L853.5,911.9 L855.5,910.8 L857.6,909.8 L859.7,908.8 L861.7,908 L863.8,907.3 L865.8,906.8 L867.8,906.3 L869.7,906.1 L871.6,905.9 L873.4,905.8 L875.2,905.8 L876.9,906 L878.7,906.3 L880.6,906.9 L882.5,907.6 L884.6,908.7 L887,910.2 L889.6,912.1 L892.2,914.1 L894.7,916.1 L897,918 L898.9,919.5 L900.3,920.7Z" fill="#e2b42c" fill-rule="nonzero"/>
<circle cx="902" cy="918.5" r="2.8" fill="#e2b42c"/>
<path d="M903.2,916.8 L901.8,915.8 L899.9,914.3 L897.6,912.5 L895,910.5 L892.2,908.5 L889.4,906.6 L886.7,904.9 L884.2,903.7 L881.9,902.8 L879.7,902.2 L877.5,901.8 L875.4,901.6 L873.3,901.6 L871.2,901.7 L869.2,902 L867.1,902.3 L864.9,902.6 L862.6,903.1 L860.3,903.7 L858,904.5 L855.7,905.4 L853.4,906.4 L851.1,907.4 L848.9,908.6 L846.7,909.9 L844.3,911.3 L842,912.8 L839.7,914.4 L837.4,916.2 L835.2,918 L833.2,919.9 L831.5,922 L830,924.1 L828.6,926.3 L827.5,928.6 L826.5,930.9 L825.7,933.3 L825.1,935.8 L824.7,938.2 L824.5,940.7 L824.5,943.2 L824.7,945.8 L825.1,948.4 L825.7,951 L826.5,953.6 L827.6,956.2 L828.8,958.6 L830.3,960.9 L832,963.1 L833.9,965.1 L836,966.9 L838.3,968.6 L840.6,970.2 L843,971.6 L845.5,972.8 L848,974 L850.7,975 L853.6,975.9 L856.5,976.6 L859.4,977.2 L862.4,977.7 L865.4,978 L868.4,978.3 L871.4,978.4 L874.3,978.3 L877.3,978.1 L880.3,977.7 L883.2,977.3 L886.2,976.7 L889.1,976 L891.9,975.2 L894.6,974.2 L897.2,973.1 L899.8,971.8 L902.3,970.4 L904.7,968.9 L907,967.2 L909.1,965.5 L911.2,963.6 L913.1,961.7 L914.8,959.6 L916.3,957.3 L917.7,955 L918.9,952.7 L919.9,950.3 L920.8,947.8 L921.4,945.4 L921.9,943 L922.2,940.4 L922.3,937.9 L922.1,935.5 L921.8,933.1 L921.4,930.8 L920.9,928.7 L920.4,926.6 L919.8,924.6 L919.1,922.5 L918.2,920.5 L917.2,918.7 L916.2,917 L915.3,915.5 L914.5,914.1 L913.9,913 L913.6,912.1 L913.4,911.2 L913.2,910.5 L913.2,909.7 L913.3,909 L913.5,908.2 L913.8,907.3 L914.2,906.4 L914.6,905.4 L915.2,904.6 L915.8,903.7 L916.4,902.8 L917.2,902 L918,901.1 L918.8,900.3 L919.7,899.5 L920.5,898.8 L921.4,898.2 L922.3,897.5 L923.3,897 L924.3,896.4 L925.3,895.9 L926.3,895.4 L927.2,894.8 L928.1,894.2 L928.9,893.7 L929.6,893.1 L930.3,892.5 L930.9,891.9 L931.5,891.3 L932,890.8 L932.4,890.4 L932.8,890 L932.7,889.9 L932.3,890.2 L931.9,890.6 L931.3,891.1 L930.7,891.6 L930.1,892.2 L929.4,892.8 L928.6,893.3 L927.8,893.8 L927,894.3 L926,894.8 L925,895.3 L924,895.8 L922.9,896.3 L921.9,896.8 L920.9,897.4 L919.9,898 L919,898.7 L918.1,899.5 L917.2,900.3 L916.3,901.1 L915.5,901.9 L914.7,902.8 L914,903.7 L913.4,904.6 L912.8,905.5 L912.3,906.4 L911.8,907.2 L911.3,908.1 L911,909.1 L910.8,910.1 L910.7,911.2 L910.8,912.5 L911.1,913.8 L911.6,915.3 L912.3,916.9 L913.1,918.5 L914,920.2 L914.8,922 L915.5,923.8 L916,925.6 L916.4,927.5 L916.8,929.5 L917.2,931.5 L917.5,933.6 L917.7,935.7 L917.8,937.9 L917.6,939.9 L917.3,942 L916.8,944 L916.1,946.1 L915.2,948.2 L914.2,950.2 L913.1,952.3 L911.8,954.2 L910.4,956 L908.9,957.7 L907.3,959.3 L905.5,960.9 L903.5,962.3 L901.4,963.7 L899.3,965 L897,966.1 L894.7,967.2 L892.4,968.1 L890,968.9 L887.5,969.6 L884.9,970.2 L882.2,970.7 L879.5,971.1 L876.8,971.3 L874.1,971.5 L871.4,971.5 L868.7,971.4 L866,971.2 L863.3,970.9 L860.6,970.5 L857.9,970 L855.3,969.4 L852.8,968.7 L850.4,967.8 L848.2,966.9 L845.9,965.8 L843.8,964.7 L841.7,963.4 L839.8,962 L838,960.6 L836.4,959 L834.9,957.3 L833.7,955.5 L832.6,953.6 L831.7,951.5 L830.9,949.4 L830.3,947.2 L829.8,945 L829.5,942.8 L829.4,940.7 L829.5,938.6 L829.7,936.5 L830.1,934.4 L830.7,932.3 L831.5,930.2 L832.4,928.1 L833.4,926.2 L834.7,924.3 L836.1,922.4 L837.8,920.6 L839.8,918.8 L841.8,917.1 L844,915.5 L846.1,913.9 L848.3,912.5 L850.4,911.2 L852.5,910 L854.6,908.9 L856.8,907.9 L858.9,907 L861.1,906.2 L863.3,905.5 L865.4,905 L867.5,904.6 L869.5,904.3 L871.4,904.1 L873.4,904 L875.3,904 L877.2,904.2 L879.1,904.6 L881.1,905.1 L883.2,905.9 L885.5,907.1 L888.1,908.7 L890.7,910.5 L893.4,912.6 L895.9,914.6 L898.2,916.4 L900.1,917.9 L901.6,919Z" fill="#efd052" fill-rule="nonzero" opacity="0.85"/>
<circle cx="902.4" cy="917.9" r="1.4" fill="#efd052" opacity="0.85"/>
<path d="M883.7,902.3 L882.6,902.1 L881,901.9 L879.1,901.6 L876.9,901.3 L874.5,901 L872,900.8 L869.5,900.8 L867,901.1 L864.6,901.5 L862.1,902 L859.7,902.7 L857.3,903.5 L855,904.4 L852.6,905.3 L850.4,906.4 L848.2,907.4 L846,908.6 L843.8,910.1 L841.6,911.6 L839.6,913.1 L837.7,914.5 L836.1,915.8 L834.8,916.8 L833.7,917.5 L840.9,925.9 L841.8,924.9 L843,923.6 L844.4,922.1 L846,920.6 L847.6,919 L849.3,917.4 L851,916.1 L852.6,914.9 L854.3,913.8 L856.2,912.8 L858.2,911.8 L860.2,910.8 L862.3,909.9 L864.3,909.2 L866.2,908.6 L868,908.1 L869.8,908 L871.7,908 L873.8,908.1 L875.9,908.4 L877.9,908.7 L879.8,909.1 L881.5,909.4 L882.7,909.6Z" fill="#7f7a34" fill-rule="nonzero" opacity="0.45"/>
<path d="M899.7,921.6h0M899.5,919.4h0M901.6,919h0M901.4,916.9h0M903.5,916.5h0M897.3,919.7h0M897.2,917.6h0M899.3,917.3h0M899.1,915.1h0M901.3,914.8h0M895.1,917.9h0M894.9,915.7h0M897,915.4h0M896.9,913.3h0M899,913h0M892.9,916h0M892.7,913.9h0M894.8,913.6h0M894.6,911.5h0M896.6,911.2h0M890.6,914.3h0M890.4,912.2h0M892.5,911.9h0M892.2,909.8h0M894.3,909.5h0M888.4,912.5h0M888.1,910.5h0M890.1,910.1h0M889.8,908.1h0M891.9,907.7h0M886.2,910.9h0M885.7,908.9h0M887.8,908.5h0M887.3,906.5h0M889.3,906h0M883.8,909.5h0M883.3,907.5h0M885.3,907h0M884.7,905h0M886.7,904.5h0M881.6,908.4h0M880.8,906.5h0M882.7,905.7h0M881.8,903.8h0M883.7,903.1h0M879.2,907.5h0M878.2,905.8h0M879.9,904.8h0M878.9,903h0M880.6,902h0M876.7,907h0M875.5,905.4h0M877.1,904.2h0M875.8,902.6h0M877.5,901.4h0M874.1,906.8h0M872.7,905.4h0M874.2,904h0M872.8,902.6h0M874.3,901.2h0M871.6,906.9h0M870,905.6h0M871.3,904.1h0M869.7,902.9h0M871,901.4h0M868.8,907.2h0M867.2,906h0M868.4,904.5h0M866.8,903.3h0M868,901.7h0M866.2,907.7h0M864.5,906.7h0M865.6,905h0M863.8,903.9h0M865,902.2h0M863.6,908.5h0M861.8,907.5h0M862.8,905.7h0M860.9,904.7h0M861.9,902.9h0M861.1,909.5h0M859.2,908.5h0M860,906.6h0M858.1,905.7h0M858.9,903.7h0M858.6,910.5h0M856.6,909.7h0M857.3,907.6h0M855.3,906.8h0M856,904.8h0M856.1,911.8h0M854.1,911h0M854.7,908.9h0M852.7,908h0M853.3,905.9h0M853.7,913.2h0M851.6,912.4h0M852.1,910.2h0M850,909.4h0M850.5,907.2h0M851.4,914.6h0M849.3,913.9h0M849.6,911.7h0M847.4,910.9h0M847.8,908.7h0M849.2,916.3h0M847,915.6h0M847.2,913.2h0M844.9,912.5h0M845.1,910.2h0M847,918h0M844.7,917.3h0M844.8,914.9h0M842.5,914.1h0M842.6,911.7h0M844.9,919.7h0M842.5,919.1h0M842.4,916.6h0M840.1,915.9h0M840,913.5h0M842.9,921.5h0M840.5,921h0M840.2,918.4h0M837.7,917.9h0M837.5,915.4h0M841,923.5h0M838.5,923h0M838.1,920.4h0M835.5,919.9h0M835.1,917.3h0M839.4,925.4h0M836.8,925.1h0M836.1,922.5h0M833.4,922.2h0M832.7,919.6h0M838.2,927.4h0M835.4,927.3h0M834.3,924.8h0M831.6,924.7h0M830.5,922.2h0M837.1,929.5h0M834.3,929.7h0M832.8,927.3h0M830,927.5h0M828.6,925.1h0M836.2,931.8h0M833.4,932.2h0M831.6,929.9h0M828.7,930.3h0M826.9,928.1h0M835.6,934.1h0M832.7,934.8h0M830.6,932.7h0M827.7,933.3h0M825.6,931.2h0M835.2,936.4h0M832.3,937.4h0M829.9,935.5h0M827,936.4h0M824.6,934.5h0M835.1,938.7h0M832.2,940h0M829.5,938.3h0M826.6,939.6h0M824,937.9h0M835.2,941h0M832.4,942.6h0M829.5,941.2h0M826.6,942.8h0M823.7,941.4h0M835.6,943.3h0M832.9,945.1h0M829.7,944.1h0M826.9,946h0M823.8,945h0M836.2,945.5h0M833.6,947.7h0M830.2,947h0M827.6,949.1h0M824.2,948.4h0M837,947.7h0M834.5,950.1h0M831,949.8h0M828.5,952.2h0M825,951.8h0M838,949.7h0M835.6,952.4h0M832.1,952.5h0M829.7,955.2h0M826.2,955.2h0M839.1,951.5h0M837,954.5h0M833.4,955h0M831.3,958h0M827.7,958.6h0M840.3,953h0M838.6,956.4h0M835,957.4h0M833.3,960.8h0M829.7,961.8h0M841.8,954.5h0M840.4,958h0M837,959.6h0M835.6,963.2h0M832.1,964.7h0M843.7,956h0M842.5,959.7h0M839.1,961.5h0M837.9,965.2h0M834.5,967h0M845.6,957.2h0M844.7,961.1h0M841.5,963.2h0M840.6,967.1h0M837.3,969.2h0M847.6,958.3h0M847,962.3h0M843.9,964.8h0M843.3,968.7h0M840.2,971.2h0M849.8,959.3h0M849.4,963.4h0M846.5,966.1h0M846.2,970.1h0M843.2,972.9h0M852,960.2h0M851.9,964.3h0M849.1,967.3h0M849,971.4h0M846.3,974.4h0M854.5,961.1h0M854.5,965.2h0M851.8,968.4h0M851.9,972.5h0M849.2,975.6h0M856.7,961.7h0M857.1,965.9h0M854.6,969.2h0M854.9,973.3h0M852.5,976.7h0M859.1,962.3h0M859.7,966.4h0M857.4,969.9h0M858,974h0M855.8,977.6h0M861.7,962.7h0M862.4,966.9h0M860.3,970.5h0M861,974.6h0M858.8,978.2h0M864.1,963.1h0M865.1,967.2h0M863.1,970.9h0M864.1,975h0M862.1,978.8h0M866.8,963.3h0M867.9,967.4h0M866,971.2h0M867.1,975.3h0M865.2,979.2h0M869.3,963.4h0M870.6,967.5h0M868.9,971.4h0M870.2,975.5h0M868.5,979.4h0M871.7,963.5h0M873.2,967.5h0M871.8,971.5h0M873.3,975.5h0M871.9,979.5h0M874.4,963.5h0M876,967.4h0M874.7,971.4h0M876.3,975.4h0M875,979.4h0M876.9,963.4h0M878.7,967.2h0M877.6,971.2h0M879.4,975h0M878.3,979.1h0M879.4,963.2h0M881.4,966.8h0M880.5,970.9h0M882.5,974.6h0M881.6,978.7h0M882,962.8h0M884.1,966.4h0M883.3,970.5h0M885.4,974.1h0M884.7,978.1h0M884.4,962.4h0M886.7,965.8h0M886.2,969.9h0M888.5,973.3h0M888,977.4h0M887,961.8h0M889.4,965.1h0M889,969.2h0M891.4,972.5h0M891,976.6h0M889.3,961.1h0M891.9,964.3h0M891.8,968.3h0M894.4,971.4h0M894.2,975.5h0M891.5,960.4h0M894.3,963.3h0M894.5,967.3h0M897.3,970.1h0M897.4,974.1h0M893.8,959.5h0M896.7,962.1h0M897.1,966.1h0M900.1,968.7h0M900.4,972.6h0M896.2,958.4h0M899.2,960.9h0M899.7,964.7h0M902.7,967.2h0M903.2,971h0M898.3,957.3h0M901.5,959.5h0M902.2,963.2h0M905.3,965.4h0M906,969.2h0M900.3,956h0M903.6,957.9h0M904.5,961.6h0M907.8,963.5h0M908.7,967.1h0M902.2,954.7h0M905.6,956.3h0M906.8,959.8h0M910.2,961.3h0M911.4,964.8h0M904.2,953h0M907.6,954.4h0M908.9,957.8h0M912.3,959.1h0M913.6,962.5h0M905.8,951.5h0M909.2,952.4h0M910.8,955.6h0M914.2,956.5h0M915.8,959.7h0M907.3,949.7h0M910.7,950.2h0M912.5,953.2h0M915.9,953.8h0M917.7,956.7h0M908.6,947.8h0M912,948h0M914,950.7h0M917.4,950.9h0M919.3,953.7h0M909.8,945.7h0M913.1,945.6h0M915.3,948.1h0M918.6,948h0M920.7,950.5h0M910.9,943.5h0M914.1,943.1h0M916.3,945.4h0M919.5,945h0M921.8,947.3h0M911.8,941.3h0M914.8,940.6h0M917.2,942.6h0M920.2,941.9h0M922.6,944h0M912.3,939.2h0M915.1,938.1h0M917.7,939.8h0M920.5,938.6h0M923,940.4h0M912.5,937h0M915.1,935.5h0M917.8,936.9h0M920.3,935.4h0M923,936.8h0M912.5,934.5h0M914.9,932.8h0M917.6,934h0M919.9,932.3h0M922.6,933.5h0M912.3,931.9h0M914.5,930.1h0M917.1,931.1h0M919.3,929.3h0M922,930.3h0M911.9,929.2h0M914,927.3h0M916.6,928.3h0M918.6,926.4h0M921.3,927.3h0M911.5,926.6h0M913.4,924.6h0M916,925.5h0M917.8,923.5h0M920.4,924.3h0M911.1,924.1h0M912.6,922h0M915.2,922.7h0M916.7,920.6h0M919.3,921.2h0M910.3,921.5h0M911.7,919.4h0M914.1,920h0M915.5,917.8h0M917.9,918.4h0M909.4,918.9h0M910.6,916.8h0M913,917.3h0M914.2,915.2h0M916.5,915.7h0M908.5,916.2h0M909.5,914.1h0M911.8,914.7h0M912.8,912.6h0M915,913.1h0" fill="none" stroke="#2a2204" stroke-width="1.5" stroke-linecap="round" opacity="0.72"/>
<path d="M890.4,873.1 C891.7,871.8 893.1,870.6 895,870.2 C897,869.9 900.2,870.3 902.2,871.2 C904.3,872 906.2,873 907.5,875.1 C908.7,877.2 909.3,880.7 909.7,883.6 C910.2,886.6 910.4,889.5 910.1,892.8 C909.8,896.1 908.8,900 908.1,903.3 C907.5,906.6 906.4,909.4 906.2,912.5 C906,915.5 906.9,919.6 906.8,921.7 C906.7,923.7 906.8,924.3 905.5,924.9 C904.2,925.5 900.9,925.7 899,925.2 C897,924.7 895.1,923.8 893.7,921.7 C892.3,919.5 891.4,915.8 890.4,912.5 C889.4,909.2 888.6,905.3 887.8,902 C887,898.7 886,895.6 885.6,892.8 C885.2,890 885.2,887.3 885.4,884.9 C885.7,882.5 886.3,880.3 887.2,878.4 C888,876.4 889.1,874.5 890.4,873.1Z" fill="url(#sCh)" />
<path d="M890.4,873.1 C891.7,871.8 893.1,870.6 895,870.2 C897,869.9 900.2,870.3 902.2,871.2 C904.3,872 906.2,873 907.5,875.1 C908.7,877.2 909.3,880.7 909.7,883.6 C910.2,886.6 910.4,889.5 910.1,892.8 C909.8,896.1 908.8,900 908.1,903.3 C907.5,906.6 906.4,909.4 906.2,912.5 C906,915.5 906.9,919.6 906.8,921.7 C906.7,923.7 906.8,924.3 905.5,924.9 C904.2,925.5 900.9,925.7 899,925.2 C897,924.7 895.1,923.8 893.7,921.7 C892.3,919.5 891.4,915.8 890.4,912.5 C889.4,909.2 888.6,905.3 887.8,902 C887,898.7 886,895.6 885.6,892.8 C885.2,890 885.2,887.3 885.4,884.9 C885.7,882.5 886.3,880.3 887.2,878.4 C888,876.4 889.1,874.5 890.4,873.1Z" fill="url(#sCh2)" />
<path d="M893.7,879.7 C894.9,878.4 897.5,877.3 899,878.4 C900.4,879.5 901.6,882.7 902.2,886.2 C902.9,889.7 903,895 902.9,899.4 C902.8,903.7 902.2,909.4 901.6,912.5 C900.9,915.5 900,917.7 899,917.7 C897.9,917.7 896.1,915.5 895,912.5 C893.9,909.4 892.9,903.7 892.4,899.4 C891.9,895 891.5,889.5 891.7,886.2 C892,883 892.5,881 893.7,879.7Z" fill="#f3e7ae" opacity=".75"/>
<ellipse cx="897.4" cy="874.7" rx="7.5" ry="3.6" fill="#e9d58a" stroke="#b08a2c" stroke-width=".5"/>
<circle cx="893.7" cy="873.1" r=".8" fill="#5a3a10"/>
<circle cx="901.8" cy="873.6" r=".8" fill="#5a3a10"/>
<path d="M795.2,1300 L796.2,1300.5 L797.4,1301 L798.9,1301.6 L800.6,1302.2 L802.4,1302.9 L804.1,1303.6 L805.8,1304.4 L807.3,1305.2 L808.8,1306.2 L810.3,1307.2 L811.9,1308.2 L813.4,1309.3 L814.9,1310.5 L816.3,1311.7 L817.7,1313 L819,1314.3 L820.3,1315.6 L821.6,1317.1 L822.9,1318.6 L824.2,1320.2 L825.5,1321.8 L826.7,1323.5 L827.8,1325.2 L828.9,1326.8 L829.9,1328.3 L830.9,1329.8 L831.8,1331.4 L832.7,1333.1 L833.7,1334.9 L834.8,1336.7 L835.9,1338.6 L837.1,1340.5 L838.3,1342.3 L839.4,1344 L840.6,1345.9 L841.9,1347.8 L843.3,1349.7 L844.9,1351.7 L846.5,1353.6 L848.3,1355.5 L850.2,1357.2 L852.2,1358.9 L854.2,1360.5 L856.3,1362 L858.5,1363.5 L860.7,1364.9 L863.1,1366.2 L865.4,1367.5 L867.9,1368.5 L870.4,1369.5 L872.9,1370.4 L875.5,1371.2 L878.1,1372 L880.7,1372.6 L883.3,1373 L885.9,1373.4 L888.6,1373.7 L891.2,1373.8 L893.9,1373.9 L896.5,1373.8 L899.1,1373.6 L901.6,1373.4 L904.1,1373 L906.5,1372.6 L908.9,1372 L911.3,1371.4 L913.7,1370.7 L916.1,1369.8 L918.4,1368.8 L920.6,1367.8 L922.8,1366.5 L924.8,1365.1 L926.7,1363.4 L928.3,1361.6 L929.7,1359.7 L930.9,1357.7 L931.8,1355.6 L932.6,1353.5 L933.1,1351.3 L933.4,1349 L933.3,1346.6 L932.9,1344.3 L932.3,1342.2 L931.5,1340.1 L930.5,1338.2 L929.3,1336.4 L928,1334.8 L926.6,1333.2 L925,1331.8 L923.3,1330.4 L921.5,1329.3 L919.6,1328.2 L917.6,1327.2 L915.6,1326.4 L913.6,1325.6 L911.5,1325 L909.2,1324.4 L906.9,1323.9 L904.5,1323.6 L902.2,1323.3 L899.8,1323.1 L897.5,1323 L895.3,1322.9 L893.2,1322.8 L890.9,1322.7 L888.7,1322.8 L886.6,1322.9 L884.6,1323 L882.7,1323.2 L880.9,1323.4 L879.2,1323.5 L877.5,1323.5 L875.7,1323.6 L874,1323.7 L872.3,1323.8 L870.8,1323.9 L869.6,1323.9 L868.6,1323.9 L867.9,1323.8 L867.8,1323.8 L867.9,1323.8 L867.8,1323.7 L867.5,1323.3 L867.1,1322.7 L866.6,1322 L866.1,1321.2 L865.5,1320.3 L865,1319.6 L854.9,1327.5 L855.1,1327.8 L855.5,1328.3 L856.1,1329.2 L857,1330.4 L858.1,1331.7 L859.5,1333.1 L861.4,1334.4 L863.6,1335.4 L865.8,1336 L867.8,1336.2 L869.7,1336.2 L871.4,1336.1 L873.2,1336 L874.8,1335.9 L876.4,1335.7 L878.1,1335.6 L879.9,1335.6 L881.8,1335.4 L883.7,1335.3 L885.5,1335.1 L887.4,1335 L889.2,1334.9 L890.9,1334.8 L892.7,1334.9 L894.6,1335 L896.6,1335.2 L898.7,1335.4 L900.7,1335.7 L902.6,1336 L904.5,1336.4 L906.2,1336.8 L907.7,1337.3 L909.1,1337.8 L910.6,1338.4 L911.9,1339.1 L913.2,1339.8 L914.3,1340.5 L915.3,1341.3 L916.1,1342 L916.8,1342.6 L917.3,1343.4 L917.9,1344.2 L918.3,1345 L918.7,1345.8 L918.9,1346.6 L919.1,1347.2 L919.1,1347.7 L919,1348 L918.9,1348.4 L918.7,1349 L918.4,1349.7 L918,1350.5 L917.5,1351.2 L916.9,1352 L916.2,1352.6 L915.5,1353.2 L914.7,1353.7 L913.5,1354.4 L912.2,1355 L910.6,1355.7 L908.9,1356.3 L907.1,1356.9 L905.3,1357.3 L903.5,1357.7 L901.7,1358.1 L899.8,1358.4 L897.8,1358.6 L895.8,1358.7 L893.8,1358.7 L891.7,1358.7 L889.7,1358.6 L887.8,1358.4 L885.8,1358.1 L883.8,1357.7 L881.8,1357.3 L879.7,1356.7 L877.7,1356.1 L875.7,1355.4 L873.8,1354.6 L872,1353.8 L870.2,1352.9 L868.5,1351.9 L866.7,1350.8 L865,1349.7 L863.4,1348.4 L861.8,1347.2 L860.2,1345.9 L858.8,1344.6 L857.5,1343.3 L856.3,1342 L855.1,1340.6 L853.8,1339 L852.6,1337.4 L851.4,1335.7 L850.1,1334 L848.9,1332.3 L847.7,1330.7 L846.6,1329.2 L845.5,1327.6 L844.3,1325.9 L843.1,1324.2 L841.8,1322.4 L840.4,1320.5 L838.9,1318.7 L837.2,1317.1 L835.6,1315.6 L833.8,1314 L832,1312.5 L830.2,1311 L828.3,1309.6 L826.5,1308.3 L824.5,1307.1 L822.6,1306 L820.6,1305 L818.6,1304.1 L816.6,1303.4 L814.7,1302.6 L812.8,1302 L810.9,1301.5 L809,1301 L807.1,1300.6 L805.1,1300.2 L803.1,1299.9 L801.2,1299.8 L799.4,1299.6 L797.7,1299.6 L796.4,1299.5 L795.3,1299.6Z" fill="#1d0f0c" fill-rule="nonzero"/>
<circle cx="859.9" cy="1323.5" r="6.4" fill="#1d0f0c"/>
<path d="M795.3,1299.9 L796.2,1300.4 L797.5,1300.8 L799,1301.3 L800.7,1301.9 L802.4,1302.5 L804.2,1303.2 L805.9,1303.9 L807.5,1304.7 L809.1,1305.6 L810.6,1306.5 L812.2,1307.5 L813.8,1308.6 L815.4,1309.7 L816.9,1310.9 L818.3,1312.1 L819.7,1313.4 L821.1,1314.7 L822.5,1316.1 L823.8,1317.7 L825.2,1319.2 L826.5,1320.9 L827.8,1322.5 L829,1324.2 L830.1,1325.8 L831.2,1327.3 L832.2,1328.9 L833.2,1330.5 L834.2,1332.2 L835.2,1334 L836.2,1335.8 L837.4,1337.7 L838.6,1339.5 L839.8,1341.2 L840.9,1343 L842.1,1344.8 L843.4,1346.7 L844.8,1348.6 L846.3,1350.5 L847.9,1352.3 L849.6,1354.1 L851.5,1355.8 L853.4,1357.4 L855.3,1359 L857.4,1360.5 L859.5,1361.9 L861.7,1363.3 L863.9,1364.6 L866.3,1365.7 L868.6,1366.8 L871,1367.8 L873.5,1368.7 L876,1369.4 L878.5,1370.1 L881.1,1370.7 L883.6,1371.2 L886.2,1371.6 L888.7,1371.8 L891.3,1372 L893.8,1372 L896.4,1371.9 L898.9,1371.8 L901.4,1371.5 L903.8,1371.2 L906.2,1370.7 L908.5,1370.2 L910.8,1369.6 L913.1,1368.9 L915.4,1368 L917.6,1367.1 L919.8,1366.1 L921.8,1364.9 L923.7,1363.6 L925.4,1362.1 L926.8,1360.4 L928.1,1358.6 L929.3,1356.8 L930.2,1354.9 L930.9,1352.9 L931.4,1350.9 L931.6,1348.9 L931.6,1346.8 L931.2,1344.7 L930.6,1342.7 L929.9,1340.9 L929,1339.1 L927.9,1337.4 L926.7,1335.8 L925.4,1334.4 L923.9,1333 L922.3,1331.8 L920.6,1330.7 L918.8,1329.7 L916.9,1328.7 L915,1327.9 L913,1327.2 L911,1326.5 L908.8,1325.9 L906.6,1325.5 L904.3,1325.1 L902,1324.9 L899.7,1324.6 L897.4,1324.5 L895.2,1324.4 L893.1,1324.3 L890.9,1324.3 L888.8,1324.3 L886.7,1324.4 L884.7,1324.5 L882.8,1324.7 L881,1324.9 L879.3,1325 L877.6,1325.1 L875.8,1325.1 L874.1,1325.2 L872.4,1325.3 L870.9,1325.4 L869.6,1325.5 L868.5,1325.4 L867.7,1325.3 L867.2,1325.2 L867,1325.1 L866.7,1324.8 L866.3,1324.4 L865.8,1323.7 L865.3,1322.9 L864.8,1322.1 L864.2,1321.2 L863.7,1320.6 L856.1,1326.5 L856.4,1326.9 L856.8,1327.4 L857.5,1328.3 L858.3,1329.4 L859.3,1330.7 L860.6,1331.9 L862.2,1333.1 L864.1,1334 L866.1,1334.5 L867.9,1334.7 L869.6,1334.7 L871.4,1334.6 L873.1,1334.5 L874.7,1334.3 L876.3,1334.2 L878,1334.1 L879.8,1334.1 L881.7,1333.9 L883.6,1333.8 L885.4,1333.6 L887.3,1333.5 L889.1,1333.4 L890.9,1333.3 L892.7,1333.4 L894.7,1333.5 L896.7,1333.7 L898.8,1333.9 L900.9,1334.2 L902.9,1334.5 L904.8,1334.8 L906.5,1335.2 L908.1,1335.7 L909.7,1336.3 L911.2,1336.9 L912.6,1337.6 L914,1338.3 L915.2,1339.1 L916.3,1339.9 L917.2,1340.7 L918,1341.5 L918.7,1342.3 L919.3,1343.2 L919.8,1344.2 L920.3,1345.1 L920.6,1346 L920.8,1346.9 L920.9,1347.6 L920.8,1348.2 L920.7,1348.8 L920.5,1349.6 L920.1,1350.5 L919.6,1351.4 L919,1352.3 L918.3,1353.2 L917.5,1354 L916.7,1354.6 L915.7,1355.3 L914.4,1356.1 L913,1356.8 L911.3,1357.5 L909.5,1358.1 L907.7,1358.7 L905.8,1359.2 L903.9,1359.6 L902,1360 L900,1360.2 L898,1360.4 L895.9,1360.6 L893.8,1360.6 L891.7,1360.6 L889.6,1360.5 L887.6,1360.3 L885.5,1360 L883.4,1359.6 L881.3,1359.1 L879.2,1358.5 L877.1,1357.9 L875,1357.2 L873,1356.4 L871.2,1355.5 L869.3,1354.6 L867.5,1353.5 L865.7,1352.4 L863.9,1351.2 L862.2,1349.9 L860.6,1348.6 L859,1347.3 L857.5,1345.9 L856.1,1344.6 L854.8,1343.2 L853.6,1341.7 L852.4,1340.1 L851.1,1338.5 L849.9,1336.8 L848.6,1335 L847.4,1333.3 L846.2,1331.7 L845.1,1330.2 L844,1328.5 L842.9,1326.8 L841.7,1325.1 L840.4,1323.3 L839.1,1321.5 L837.6,1319.8 L836.1,1318.1 L834.4,1316.6 L832.8,1315 L831.1,1313.5 L829.3,1312 L827.5,1310.6 L825.7,1309.2 L823.9,1308 L822,1306.9 L820.1,1305.9 L818.2,1304.9 L816.2,1304.1 L814.3,1303.3 L812.5,1302.7 L810.6,1302.1 L808.8,1301.5 L806.9,1301 L805,1300.6 L803,1300.3 L801.1,1300.1 L799.3,1299.9 L797.7,1299.7 L796.4,1299.7 L795.3,1299.6Z" fill="#30191a" fill-rule="nonzero"/>
<circle cx="859.9" cy="1323.5" r="4.8" fill="#30191a"/>
<path d="M795.3,1299.8 L796.3,1300.1 L797.6,1300.4 L799.1,1300.7 L800.8,1301.2 L802.7,1301.6 L804.5,1302.2 L806.3,1302.8 L808,1303.4 L809.7,1304.2 L811.4,1305 L813.1,1305.9 L814.8,1306.8 L816.5,1307.8 L818.1,1308.9 L819.8,1310 L821.4,1311.2 L822.9,1312.5 L824.5,1313.9 L826,1315.4 L827.5,1316.9 L829,1318.5 L830.4,1320.1 L831.8,1321.8 L833.1,1323.4 L834.4,1325 L835.5,1326.6 L836.6,1328.3 L837.7,1330 L838.7,1331.8 L839.8,1333.5 L840.9,1335.3 L842.1,1337 L843.3,1338.8 L844.5,1340.5 L845.7,1342.3 L847,1344.1 L848.3,1345.8 L849.7,1347.6 L851.2,1349.2 L852.8,1350.9 L854.5,1352.4 L856.2,1353.9 L858.1,1355.4 L860,1356.8 L862,1358.1 L864,1359.4 L866.1,1360.6 L868.2,1361.6 L870.4,1362.6 L872.6,1363.5 L874.9,1364.3 L877.3,1365.1 L879.6,1365.7 L882,1366.3 L884.4,1366.7 L886.7,1367 L889.1,1367.3 L891.4,1367.4 L893.8,1367.4 L896.2,1367.4 L898.5,1367.2 L900.8,1367 L903.1,1366.7 L905.3,1366.3 L907.4,1365.8 L909.6,1365.2 L911.7,1364.6 L913.8,1363.8 L915.8,1363 L917.6,1362.1 L919.3,1361.1 L920.9,1360 L922.2,1358.8 L923.4,1357.5 L924.5,1356.1 L925.4,1354.6 L926.1,1353.1 L926.7,1351.6 L927.1,1350.1 L927.3,1348.6 L927.3,1347.1 L927,1345.6 L926.6,1344 L926,1342.6 L925.3,1341.1 L924.5,1339.7 L923.5,1338.4 L922.4,1337.2 L921.2,1336.1 L919.9,1335 L918.4,1334 L916.9,1333.1 L915.2,1332.3 L913.5,1331.5 L911.7,1330.8 L909.9,1330.2 L907.9,1329.7 L905.9,1329.2 L903.7,1328.9 L901.5,1328.6 L899.3,1328.3 L897.2,1328.2 L895,1328 L893,1327.9 L890.9,1327.9 L888.9,1327.9 L886.9,1328 L885,1328.2 L883.1,1328.3 L881.3,1328.5 L879.5,1328.6 L877.7,1328.7 L876,1328.8 L874.3,1328.9 L872.7,1329 L871.1,1329.1 L869.6,1329.2 L868.2,1329.1 L867,1329 L866,1328.7 L865.1,1328.3 L864.3,1327.7 L863.5,1326.9 L862.8,1326 L862.2,1325.1 L861.6,1324.2 L861.1,1323.5 L860.7,1322.9 L856.6,1326.1 L856.9,1326.5 L857.4,1327.1 L858,1328 L858.8,1329.1 L859.8,1330.2 L861,1331.4 L862.5,1332.5 L864.3,1333.4 L866.2,1333.9 L867.9,1334 L869.6,1334.1 L871.3,1334 L873,1333.9 L874.7,1333.7 L876.3,1333.6 L878,1333.5 L879.8,1333.4 L881.6,1333.3 L883.5,1333.2 L885.4,1333 L887.2,1332.9 L889.1,1332.8 L890.9,1332.7 L892.8,1332.8 L894.7,1332.9 L896.8,1333.1 L898.9,1333.3 L900.9,1333.5 L903,1333.8 L904.9,1334.2 L906.7,1334.6 L908.3,1335.1 L909.9,1335.7 L911.4,1336.3 L912.9,1337 L914.3,1337.8 L915.6,1338.5 L916.7,1339.4 L917.7,1340.2 L918.5,1341 L919.2,1341.9 L919.9,1342.8 L920.5,1343.8 L920.9,1344.8 L921.3,1345.8 L921.5,1346.7 L921.6,1347.5 L921.6,1348.2 L921.4,1348.9 L921.2,1349.8 L920.8,1350.8 L920.2,1351.8 L919.6,1352.7 L918.9,1353.6 L918,1354.5 L917.1,1355.2 L916.1,1356 L914.8,1356.7 L913.3,1357.5 L911.6,1358.2 L909.8,1358.8 L907.9,1359.4 L906,1359.9 L904,1360.3 L902.1,1360.7 L900.1,1361 L898,1361.2 L895.9,1361.3 L893.8,1361.4 L891.6,1361.4 L889.5,1361.2 L887.5,1361 L885.4,1360.7 L883.3,1360.3 L881.1,1359.8 L879,1359.3 L876.8,1358.6 L874.8,1357.9 L872.8,1357.1 L870.8,1356.2 L869,1355.2 L867.1,1354.2 L865.3,1353.1 L863.5,1351.8 L861.8,1350.6 L860.1,1349.2 L858.5,1347.8 L857,1346.5 L855.6,1345.1 L854.3,1343.7 L853,1342.2 L851.8,1340.6 L850.5,1338.9 L849.3,1337.2 L848,1335.4 L846.8,1333.7 L845.6,1332.1 L844.5,1330.5 L843.4,1328.9 L842.3,1327.2 L841.1,1325.4 L839.9,1323.7 L838.6,1321.9 L837.1,1320.2 L835.6,1318.5 L834,1317 L832.4,1315.4 L830.7,1313.8 L828.9,1312.4 L827.2,1310.9 L825.4,1309.6 L823.6,1308.3 L821.7,1307.2 L819.9,1306.2 L818,1305.3 L816.1,1304.4 L814.2,1303.6 L812.3,1302.9 L810.5,1302.3 L808.7,1301.7 L806.9,1301.2 L804.9,1300.8 L803,1300.5 L801.1,1300.2 L799.3,1300 L797.7,1299.8 L796.4,1299.7 L795.3,1299.6Z" fill="#4a2c28" fill-rule="nonzero" opacity="0.8"/>
<circle cx="858.7" cy="1324.5" r="2.6" fill="#4a2c28" opacity="0.8"/>
<path d="M859.9,1331.9 C857.4,1329.8 857.4,1324 856.6,1319.8 C855.8,1315.5 855.6,1310.7 855.4,1306.1 C855.1,1301.6 855.3,1296.8 855.1,1292.5 C854.9,1288.2 854.7,1284.4 854.3,1280.4 C853.9,1276.4 853.3,1272.1 852.8,1268.3 C852.3,1264.5 851.2,1260.5 851.3,1257.7 C851.4,1254.9 851.9,1253 853.6,1251.6 C855.2,1250.3 859,1249.1 861.1,1249.4 C863.3,1249.6 865.2,1251 866.4,1253.2 C867.7,1255.3 868.3,1258.7 868.7,1262.2 C869.1,1265.8 869,1270.3 868.7,1274.4 C868.5,1278.4 867.6,1282.2 867.2,1286.5 C866.8,1290.7 866.6,1295.5 866.4,1300.1 C866.2,1304.6 865.9,1309.7 866,1313.7 C866.1,1317.7 866.2,1321.3 867.2,1324.3 C868.1,1327.3 872.9,1330.6 871.7,1331.9 C870.5,1333.1 862.4,1333.9 859.9,1331.9Z" fill="url(#sDn)" />
<path d="M865.7,1254.7 C866.2,1254.7 867.5,1259 867.9,1262.2 C868.4,1265.5 868.3,1270.3 868.1,1274.4 C867.9,1278.4 867.3,1282.2 866.9,1286.5 C866.5,1290.7 866,1295.5 865.7,1300.1 C865.3,1304.6 865.4,1311.4 864.9,1313.7 C864.4,1316 862.8,1316 862.7,1313.7 C862.5,1311.4 863.6,1304.6 863.9,1300.1 C864.2,1295.5 864.2,1290.7 864.5,1286.5 C864.7,1282.2 865.1,1278.4 865.2,1274.4 C865.3,1270.3 864.8,1265.5 864.9,1262.2 C865,1259 865.2,1254.7 865.7,1254.7Z" fill="#3a3a40" opacity=".55"/>
<ellipse cx="851.3" cy="1248.3" rx="9.5" ry="4.3" fill="#dcc3a2" transform="rotate(-8 851.3 1248.3)"/>
<circle cx="849.8" cy="1247.1" r="1" fill="#222"/>
<ellipse cx="855.8" cy="1261.5" rx="1.3" ry="2.4" fill="#2a2a2a"/>
<ellipse cx="864.2" cy="1264.5" rx="1.3" ry="2.4" fill="#2a2a2a"/>
</svg>
</body></html>
